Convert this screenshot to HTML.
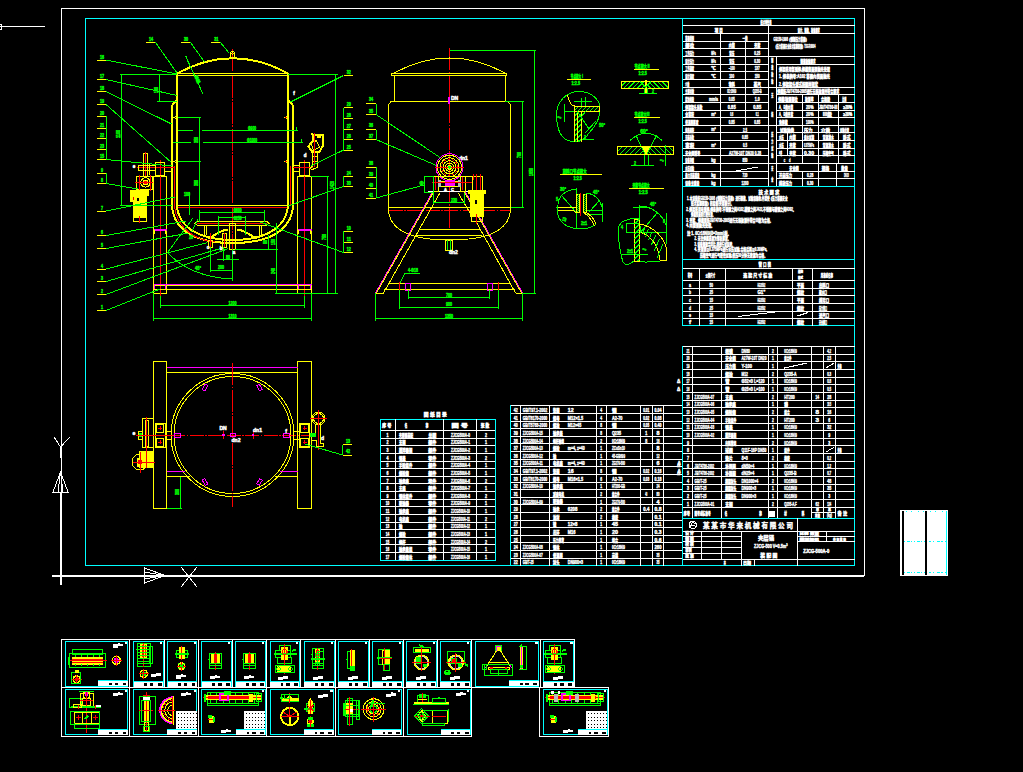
<!DOCTYPE html>
<html lang="zh"><head><meta charset="utf-8"><title>夹层锅 装配图</title>
<style>html,body{margin:0;padding:0;background:#000;overflow:hidden}
svg{display:block} text{font-family:"Liberation Sans","Noto Sans CJK SC",sans-serif}</style></head>
<body><svg width="<function W at 0x7fd735c7f2e0>" height="772" viewBox="0 0 <function W at 0x7fd735c7f2e0> 772" shape-rendering="crispEdges">
<rect x="0" y="0" width="<function W at 0x7fd735c7f2e0>" height="772" fill="#000"/>
<rect x="61.5" y="8.5" width="803" height="567" stroke="#ffffff" stroke-width="1" fill="none"/>
<rect x="85.5" y="18.5" width="769" height="547" stroke="#00ffff" stroke-width="1" fill="none"/>
<line x1="0" y1="26.5" x2="45" y2="26.5" stroke="#ffffff" stroke-width="1"/>
<rect x="-1.5" y="24.5" width="3" height="5" stroke="#ffffff" stroke-width="1" fill="none"/>
<line x1="60.5" y1="492" x2="60.5" y2="585" stroke="#ffffff" stroke-width="2"/>
<line x1="52" y1="575.5" x2="864" y2="575.5" stroke="#ffffff" stroke-width="2"/>
<polygon points="53,492 60.5,472 68,492" stroke="#ffffff" stroke-width="1" fill="none"/>
<line x1="60.5" y1="472" x2="58" y2="492" stroke="#ffffff" stroke-width="1"/>
<line x1="60.5" y1="472" x2="63" y2="492" stroke="#ffffff" stroke-width="1"/>
<polyline points="54,437 60.5,447 70,437" stroke="#ffffff" stroke-width="1" fill="none"/>
<line x1="60.5" y1="447" x2="60.5" y2="458" stroke="#ffffff" stroke-width="2"/>
<polygon points="144.5,568 165,575.5 144.5,583" stroke="#ffffff" stroke-width="1" fill="none"/>
<line x1="165" y1="575.5" x2="144.5" y2="572" stroke="#ffffff" stroke-width="1"/>
<line x1="165" y1="575.5" x2="144.5" y2="579" stroke="#ffffff" stroke-width="1"/>
<line x1="181" y1="567" x2="197" y2="587" stroke="#ffffff" stroke-width="1"/>
<line x1="197" y1="567" x2="181" y2="587" stroke="#ffffff" stroke-width="1"/>
<rect x="900" y="510" width="48" height="66" stroke="none" stroke-width="0" fill="#ffffff"/>
<line x1="902.5" y1="511" x2="902.5" y2="575" stroke="#000" stroke-width="2"/>
<line x1="926" y1="511" x2="926" y2="575" stroke="#000" stroke-width="2"/>
<line x1="904" y1="541.5" x2="925" y2="541.5" stroke="#00ffff" stroke-dasharray="1 2 3 1 1 2"/>
<line x1="929" y1="541.5" x2="947" y2="541.5" stroke="#00ffff" stroke-dasharray="2 2 1 3 3 1"/>
<line x1="904" y1="572.5" x2="925" y2="572.5" stroke="#00ffff" stroke-dasharray="1 2 3 1 1 2"/>
<line x1="929" y1="572.5" x2="947" y2="572.5" stroke="#00ffff" stroke-dasharray="2 2 1 3 3 1"/>
<line x1="906" y1="511.5" x2="946" y2="511.5" stroke="#00ffff" stroke-dasharray="1 4 1 6"/>
<line x1="946.5" y1="511" x2="946.5" y2="575" stroke="#00ffff" stroke-width="1"/>
<line x1="232.5" y1="49" x2="232.5" y2="263" stroke="#ff0000" stroke-width="1" stroke-dasharray="22 1.5 1.5 1.5"/>
<path d="M177,73.5 Q232.5,43 288,73.5" stroke="#ffff00" stroke-width="2" fill="none"/>
<line x1="176" y1="73" x2="289" y2="73" stroke="#ffff00" stroke-width="1"/>
<line x1="176" y1="75.5" x2="289" y2="75.5" stroke="#ffff00" stroke-width="1"/>
<path d="M230.5,58 V53.5 A2,2 0 0 1 234.5,53.5 V58" stroke="#ffff00" stroke-width="1" fill="none"/>
<circle cx="232.5" cy="53.5" r="0.8" stroke="#ffff00" stroke-width="1" fill="none"/>
<line x1="177" y1="73" x2="177" y2="206" stroke="#ffff00" stroke-width="2"/>
<line x1="288" y1="73" x2="288" y2="206" stroke="#ffff00" stroke-width="2"/>
<polyline points="177,100 172,105.5 172,206" stroke="#ffff00" stroke-width="2" fill="none"/>
<polyline points="288,100 293,105.5 293,206" stroke="#ffff00" stroke-width="2" fill="none"/>
<line x1="174.5" y1="166" x2="174.5" y2="206" stroke="#ff0000" stroke-width="1"/>
<line x1="290.5" y1="166" x2="290.5" y2="206" stroke="#ff0000" stroke-width="1"/>
<line x1="178" y1="205.5" x2="287" y2="205.5" stroke="#ffff00" stroke-width="1"/>
<line x1="178" y1="207.5" x2="287" y2="207.5" stroke="#ff0000" stroke-width="1"/>
<path d="M177,206 C179,228 200,240 232.5,240 C265,240 286,228 288,206" stroke="#ffff00" stroke-width="2" fill="none"/>
<path d="M172,206 C174,232 198,243 232.5,243 C267,243 291,232 293,206" stroke="#ffff00" stroke-width="2" fill="none"/>
<path d="M174.5,206 C176.5,230 199,241.5 215,241.5" stroke="#ff0000" stroke-width="1" fill="none"/>
<line x1="197" y1="221.5" x2="267" y2="221.5" stroke="#ffff00" stroke-width="1"/>
<line x1="197" y1="223.5" x2="267" y2="223.5" stroke="#ff0000" stroke-width="1"/>
<line x1="197" y1="225" x2="267" y2="225" stroke="#ffff00" stroke-width="1"/>
<polyline points="197,221.5 195,223.5 197,225" stroke="#ffff00" stroke-width="1" fill="none"/>
<polyline points="267,221.5 269,223.5 267,225" stroke="#ffff00" stroke-width="1" fill="none"/>
<line x1="204" y1="225" x2="204" y2="235" stroke="#ffff00" stroke-width="1"/>
<line x1="206.5" y1="225" x2="206.5" y2="235" stroke="#ffff00" stroke-width="1"/>
<line x1="259" y1="225" x2="259" y2="235" stroke="#ffff00" stroke-width="1"/>
<line x1="261.5" y1="225" x2="261.5" y2="235" stroke="#ffff00" stroke-width="1"/>
<path d="M208,238 C216,236 220,229 228,230 M237,230 C245,229 249,236 257,238" stroke="#ffff00" stroke-width="2" fill="none"/>
<rect x="208.5" y="240" width="3.5" height="7" stroke="#ffff00" stroke-width="1" fill="none"/>
<rect x="222.5" y="233" width="3.5" height="14" stroke="#ffff00" stroke-width="1" fill="none"/>
<rect x="229" y="223" width="6.5" height="26" stroke="#ffff00" stroke-width="1" fill="none"/>
<line x1="210.2" y1="233" x2="210.2" y2="247" stroke="#ff0000" stroke-width="1"/>
<line x1="224.2" y1="233" x2="224.2" y2="247" stroke="#ff0000" stroke-width="1"/>
<polyline points="177,115.5 174,117.5 177,119.5" stroke="#ffff00" stroke-width="1" fill="none"/>
<polyline points="288,115.5 285,117.5 288,119.5" stroke="#ffff00" stroke-width="1" fill="none"/>
<line x1="178" y1="117.5" x2="180" y2="117.5" stroke="#ff0000" stroke-width="1"/>
<line x1="285" y1="117.5" x2="287" y2="117.5" stroke="#ff0000" stroke-width="1"/>
<polyline points="177,159.5 174,161.5 177,163.5" stroke="#ffff00" stroke-width="1" fill="none"/>
<polyline points="288,159.5 285,161.5 288,163.5" stroke="#ffff00" stroke-width="1" fill="none"/>
<line x1="178" y1="161.5" x2="180" y2="161.5" stroke="#ff0000" stroke-width="1"/>
<line x1="285" y1="161.5" x2="287" y2="161.5" stroke="#ff0000" stroke-width="1"/>
<rect x="153.5" y="176.5" width="13" height="117" stroke="#ffff00" stroke-width="1" fill="none"/>
<rect x="297.5" y="176.5" width="14" height="117" stroke="#ffff00" stroke-width="1" fill="none"/>
<line x1="160.5" y1="160" x2="160.5" y2="296" stroke="#ff0000" stroke-width="1"/>
<line x1="304.5" y1="160" x2="304.5" y2="296" stroke="#ff0000" stroke-width="1"/>
<rect x="155.5" y="162.5" width="9" height="13" stroke="#ffff00" stroke-width="1" fill="none"/>
<rect x="299.5" y="162.5" width="10" height="13" stroke="#ffff00" stroke-width="1" fill="none"/>
<line x1="164.5" y1="165" x2="172" y2="165" stroke="#ffff00" stroke-width="1"/>
<line x1="164.5" y1="171" x2="172" y2="171" stroke="#ffff00" stroke-width="1"/>
<line x1="293" y1="165" x2="299.5" y2="165" stroke="#ffff00" stroke-width="1"/>
<line x1="293" y1="171" x2="299.5" y2="171" stroke="#ffff00" stroke-width="1"/>
<line x1="137" y1="167.5" x2="174" y2="167.5" stroke="#ff0000" stroke-width="1"/>
<line x1="293" y1="167.5" x2="312" y2="167.5" stroke="#ff0000" stroke-width="1"/>
<line x1="153.5" y1="229.5" x2="166.5" y2="229.5" stroke="#ff00ff" stroke-width="2"/>
<line x1="297.5" y1="229.5" x2="311.5" y2="229.5" stroke="#ff00ff" stroke-width="2"/>
<line x1="153.5" y1="284.5" x2="311.5" y2="284.5" stroke="#ff00ff" stroke-width="1"/>
<line x1="153.5" y1="285.5" x2="311.5" y2="285.5" stroke="#ffff00" stroke-width="1"/>
<line x1="153.5" y1="289.5" x2="311.5" y2="289.5" stroke="#ffff00" stroke-width="1"/>
<line x1="154.5" y1="230" x2="154.5" y2="234" stroke="#ffff00" stroke-width="1"/>
<line x1="154.5" y1="285" x2="154.5" y2="289" stroke="#ff00ff" stroke-width="1"/>
<line x1="165.5" y1="230" x2="165.5" y2="234" stroke="#ffff00" stroke-width="1"/>
<line x1="165.5" y1="285" x2="165.5" y2="289" stroke="#ff00ff" stroke-width="1"/>
<line x1="298.5" y1="230" x2="298.5" y2="234" stroke="#ffff00" stroke-width="1"/>
<line x1="298.5" y1="285" x2="298.5" y2="289" stroke="#ff00ff" stroke-width="1"/>
<line x1="310.5" y1="230" x2="310.5" y2="234" stroke="#ffff00" stroke-width="1"/>
<line x1="310.5" y1="285" x2="310.5" y2="289" stroke="#ff00ff" stroke-width="1"/>
<path d="M143.5,175.5 V155 A2,2 0 0 1 147.5,155 V175.5" stroke="#ffff00" stroke-width="1" fill="none"/>
<line x1="145.5" y1="152" x2="145.5" y2="176" stroke="#ff0000" stroke-width="1"/>
<rect x="138" y="165.5" width="17.5" height="5" stroke="#ffff00" stroke-width="1" fill="none"/>
<line x1="149" y1="162.5" x2="149" y2="175" stroke="#ffff00" stroke-width="1"/>
<rect x="136.5" y="176" width="15.5" height="13.5" stroke="#ffff00" stroke-width="1" fill="none"/>
<circle cx="145.5" cy="182.5" r="4.7" stroke="#ffff00" stroke-width="1" fill="none"/>
<circle cx="145.5" cy="182.5" r="2.5" stroke="#ffff00" stroke-width="1" fill="none"/>
<circle cx="145.5" cy="182.5" r="1" stroke="#ff0000" stroke-width="1" fill="none"/>
<line x1="135" y1="182.5" x2="153" y2="182.5" stroke="#ff0000" stroke-width="1"/>
<line x1="139" y1="175" x2="139" y2="191" stroke="#ff0000" stroke-width="1"/>
<line x1="150.5" y1="175" x2="150.5" y2="191" stroke="#ff0000" stroke-width="1"/>
<rect x="133.5" y="190" width="12.5" height="27" stroke="#ffff00" stroke-width="1" fill="#ffff00"/>
<rect x="130.5" y="190" width="17.5" height="5" stroke="#ffff00" stroke-width="1" fill="#ffff00"/>
<rect x="130.5" y="194" width="6" height="7" stroke="#ffff00" stroke-width="1" fill="#ffff00"/>
<rect x="133.5" y="216" width="12.5" height="5.5" stroke="#ffff00" stroke-width="1" fill="none"/>
<line x1="139.5" y1="216" x2="139.5" y2="223" stroke="#ff0000" stroke-width="1"/>
<rect x="137" y="198" width="2" height="3" stroke="none" stroke-width="0" fill="#000"/>
<line x1="133" y1="197" x2="133" y2="200" stroke="#ff0000" stroke-width="1"/>
<path d="M312.5,134.5 L322.5,135 L322.5,146.5 L319.5,151.5 L312,151.5 L308.5,146.5 L313,140.5 Z" stroke="#ffff00" stroke-width="2" fill="none"/>
<polygon points="311,143 316.5,140.5 319.5,147.5 313.5,150" stroke="#ffff00" stroke-width="1" fill="none"/>
<line x1="316.5" y1="137" x2="321" y2="137" stroke="#ffff00" stroke-width="2"/>
<rect x="312.5" y="151.5" width="4.5" height="10" stroke="#ffff00" stroke-width="1" fill="none"/>
<line x1="312.5" y1="156" x2="317" y2="156" stroke="#ffff00" stroke-width="1"/>
<polyline points="312.5,161.5 312.5,166 310,168.5" stroke="#ffff00" stroke-width="1" fill="none"/>
<polyline points="317,161.5 317,167.5 312.5,169.5 310,168.5" stroke="#ffff00" stroke-width="1" fill="none"/>
<line x1="314.5" y1="133" x2="314.5" y2="167" stroke="#ff0000" stroke-width="1"/>
<line x1="311.5" y1="167.5" x2="313" y2="167.5" stroke="#ff0000" stroke-width="1"/>
<line x1="97" y1="60.0" x2="106" y2="60.0" stroke="#ffff00" stroke-width="1"/>
<text x="102.0" y="58.5" fill="#00ff00" stroke="#00ff00" stroke-width="0.45" font-size="5.4" text-anchor="middle" font-weight="bold" textLength="4.1" lengthAdjust="spacingAndGlyphs">16</text>
<line x1="97" y1="79.5" x2="106" y2="79.5" stroke="#ffff00" stroke-width="1"/>
<text x="102.0" y="78.0" fill="#00ff00" stroke="#00ff00" stroke-width="0.45" font-size="5.4" text-anchor="middle" font-weight="bold" textLength="4.1" lengthAdjust="spacingAndGlyphs">17</text>
<line x1="97" y1="91.5" x2="106" y2="91.5" stroke="#ffff00" stroke-width="1"/>
<text x="102.0" y="90.0" fill="#00ff00" stroke="#00ff00" stroke-width="0.45" font-size="5.4" text-anchor="middle" font-weight="bold" textLength="4.1" lengthAdjust="spacingAndGlyphs">18</text>
<line x1="97" y1="104.5" x2="106" y2="104.5" stroke="#ffff00" stroke-width="1"/>
<text x="102.0" y="103.0" fill="#00ff00" stroke="#00ff00" stroke-width="0.45" font-size="5.4" text-anchor="middle" font-weight="bold" textLength="4.1" lengthAdjust="spacingAndGlyphs">19</text>
<line x1="97" y1="116.5" x2="106" y2="116.5" stroke="#ffff00" stroke-width="1"/>
<text x="102.0" y="115.0" fill="#00ff00" stroke="#00ff00" stroke-width="0.45" font-size="5.4" text-anchor="middle" font-weight="bold" textLength="4.1" lengthAdjust="spacingAndGlyphs">20</text>
<line x1="97" y1="128.0" x2="106" y2="128.0" stroke="#ffff00" stroke-width="1"/>
<text x="102.0" y="126.5" fill="#00ff00" stroke="#00ff00" stroke-width="0.45" font-size="5.4" text-anchor="middle" font-weight="bold" textLength="4.1" lengthAdjust="spacingAndGlyphs">21</text>
<line x1="97" y1="138.5" x2="106" y2="138.5" stroke="#ffff00" stroke-width="1"/>
<text x="102.0" y="137.0" fill="#00ff00" stroke="#00ff00" stroke-width="0.45" font-size="5.4" text-anchor="middle" font-weight="bold" textLength="4.1" lengthAdjust="spacingAndGlyphs">22</text>
<line x1="97" y1="149.5" x2="106" y2="149.5" stroke="#ffff00" stroke-width="1"/>
<text x="102.0" y="148.0" fill="#00ff00" stroke="#00ff00" stroke-width="0.45" font-size="5.4" text-anchor="middle" font-weight="bold" textLength="4.1" lengthAdjust="spacingAndGlyphs">23</text>
<line x1="97" y1="159.5" x2="106" y2="159.5" stroke="#ffff00" stroke-width="1"/>
<text x="102.0" y="158.0" fill="#00ff00" stroke="#00ff00" stroke-width="0.45" font-size="5.4" text-anchor="middle" font-weight="bold" textLength="4.1" lengthAdjust="spacingAndGlyphs">15</text>
<line x1="97" y1="173.0" x2="106" y2="173.0" stroke="#ffff00" stroke-width="1"/>
<text x="102.0" y="171.5" fill="#00ff00" stroke="#00ff00" stroke-width="0.45" font-size="5.4" text-anchor="middle" font-weight="bold" textLength="2.0" lengthAdjust="spacingAndGlyphs">9</text>
<line x1="97" y1="183.5" x2="106" y2="183.5" stroke="#ffff00" stroke-width="1"/>
<text x="102.0" y="182.0" fill="#00ff00" stroke="#00ff00" stroke-width="0.45" font-size="5.4" text-anchor="middle" font-weight="bold" textLength="2.0" lengthAdjust="spacingAndGlyphs">8</text>
<line x1="97" y1="211.0" x2="106" y2="211.0" stroke="#ffff00" stroke-width="1"/>
<text x="102.0" y="209.5" fill="#00ff00" stroke="#00ff00" stroke-width="0.45" font-size="5.4" text-anchor="middle" font-weight="bold" textLength="2.0" lengthAdjust="spacingAndGlyphs">7</text>
<line x1="97" y1="235.5" x2="106" y2="235.5" stroke="#ffff00" stroke-width="1"/>
<text x="102.0" y="234.0" fill="#00ff00" stroke="#00ff00" stroke-width="0.45" font-size="5.4" text-anchor="middle" font-weight="bold" textLength="2.0" lengthAdjust="spacingAndGlyphs">6</text>
<line x1="97" y1="248.5" x2="106" y2="248.5" stroke="#ffff00" stroke-width="1"/>
<text x="102.0" y="247.0" fill="#00ff00" stroke="#00ff00" stroke-width="0.45" font-size="5.4" text-anchor="middle" font-weight="bold" textLength="2.0" lengthAdjust="spacingAndGlyphs">5</text>
<line x1="97" y1="269.0" x2="106" y2="269.0" stroke="#ffff00" stroke-width="1"/>
<text x="102.0" y="267.5" fill="#00ff00" stroke="#00ff00" stroke-width="0.45" font-size="5.4" text-anchor="middle" font-weight="bold" textLength="2.0" lengthAdjust="spacingAndGlyphs">4</text>
<line x1="97" y1="281.5" x2="106" y2="281.5" stroke="#ffff00" stroke-width="1"/>
<text x="102.0" y="280.0" fill="#00ff00" stroke="#00ff00" stroke-width="0.45" font-size="5.4" text-anchor="middle" font-weight="bold" textLength="2.0" lengthAdjust="spacingAndGlyphs">3</text>
<line x1="97" y1="294.5" x2="106" y2="294.5" stroke="#ffff00" stroke-width="1"/>
<text x="102.0" y="293.0" fill="#00ff00" stroke="#00ff00" stroke-width="0.45" font-size="5.4" text-anchor="middle" font-weight="bold" textLength="2.0" lengthAdjust="spacingAndGlyphs">2</text>
<line x1="97" y1="310.5" x2="106" y2="310.5" stroke="#ffff00" stroke-width="1"/>
<text x="102.0" y="309.0" fill="#00ff00" stroke="#00ff00" stroke-width="0.45" font-size="5.4" text-anchor="middle" font-weight="bold" textLength="2.0" lengthAdjust="spacingAndGlyphs">1</text>
<line x1="106.5" y1="116" x2="106.5" y2="159.5" stroke="#00ff00" stroke-width="1"/>
<line x1="106.5" y1="172.5" x2="106.5" y2="183.5" stroke="#00ff00" stroke-width="1"/>
<line x1="106" y1="60.0" x2="177" y2="74" stroke="#00ff00" stroke-width="1"/>
<line x1="106" y1="79.5" x2="177" y2="95.5" stroke="#00ff00" stroke-width="1"/>
<line x1="106" y1="91.5" x2="171.5" y2="124" stroke="#00ff00" stroke-width="1"/>
<line x1="106" y1="104.5" x2="171.5" y2="162.5" stroke="#00ff00" stroke-width="1"/>
<line x1="106" y1="159.5" x2="172" y2="166" stroke="#00ff00" stroke-width="1"/>
<line x1="106" y1="183.5" x2="137.5" y2="189" stroke="#00ff00" stroke-width="1"/>
<line x1="106" y1="211.0" x2="175" y2="197" stroke="#00ff00" stroke-width="1"/>
<line x1="106" y1="235.5" x2="186" y2="221" stroke="#00ff00" stroke-width="1"/>
<line x1="106" y1="248.5" x2="188.5" y2="233" stroke="#00ff00" stroke-width="1"/>
<line x1="106" y1="269.0" x2="207.5" y2="242.5" stroke="#00ff00" stroke-width="1"/>
<line x1="106" y1="281.5" x2="222.5" y2="248" stroke="#00ff00" stroke-width="1"/>
<line x1="106" y1="294.5" x2="228.5" y2="248.5" stroke="#00ff00" stroke-width="1"/>
<line x1="106" y1="310.5" x2="160" y2="289" stroke="#00ff00" stroke-width="1"/>
<line x1="145.5" y1="42.5" x2="155.5" y2="42.5" stroke="#ffff00" stroke-width="1"/>
<text x="151.0" y="41.0" fill="#00ff00" stroke="#00ff00" stroke-width="0.45" font-size="5.4" text-anchor="middle" font-weight="bold" textLength="4.1" lengthAdjust="spacingAndGlyphs">14</text>
<line x1="155.5" y1="42.5" x2="177" y2="73" stroke="#00ff00" stroke-width="1"/>
<line x1="180.5" y1="42.5" x2="190.5" y2="42.5" stroke="#ffff00" stroke-width="1"/>
<text x="186.0" y="41.0" fill="#00ff00" stroke="#00ff00" stroke-width="0.45" font-size="5.4" text-anchor="middle" font-weight="bold" textLength="4.1" lengthAdjust="spacingAndGlyphs">30</text>
<line x1="190.5" y1="42.5" x2="204.5" y2="62" stroke="#00ff00" stroke-width="1"/>
<line x1="211" y1="42.5" x2="220.5" y2="42.5" stroke="#ffff00" stroke-width="1"/>
<text x="216.25" y="41.0" fill="#00ff00" stroke="#00ff00" stroke-width="0.45" font-size="5.4" text-anchor="middle" font-weight="bold" textLength="4.1" lengthAdjust="spacingAndGlyphs">31</text>
<line x1="220.5" y1="42.5" x2="229" y2="53" stroke="#00ff00" stroke-width="1"/>
<line x1="186" y1="57" x2="203" y2="94" stroke="#00ff00" stroke-width="1"/>
<text x="196" y="80" fill="#00ff00" stroke="#00ff00" stroke-width="0.45" font-size="4" text-anchor="middle" font-weight="bold" transform="rotate(65 196 80)">焊缝</text>
<line x1="185" y1="57" x2="187.5" y2="55.5" stroke="#00ff00" stroke-width="1"/>
<line x1="120" y1="74.5" x2="177" y2="74.5" stroke="#00ff00" stroke-width="1"/>
<line x1="121.5" y1="74.5" x2="121.5" y2="205" stroke="#00ff00" stroke-width="1"/>
<line x1="120" y1="205" x2="172" y2="205" stroke="#00ff00" stroke-width="1"/>
<text x="119.5" y="134" fill="#00ff00" stroke="#00ff00" stroke-width="0.45" font-size="5.4" text-anchor="middle" font-weight="bold" textLength="8.2" lengthAdjust="spacingAndGlyphs" transform="rotate(-90 119.5 134)">1100</text>
<line x1="159.5" y1="74.5" x2="159.5" y2="101.5" stroke="#00ff00" stroke-width="1"/>
<line x1="157" y1="101.5" x2="177" y2="101.5" stroke="#00ff00" stroke-width="1"/>
<text x="157.5" y="90" fill="#00ff00" stroke="#00ff00" stroke-width="0.45" font-size="5.4" text-anchor="middle" font-weight="bold" textLength="6.1" lengthAdjust="spacingAndGlyphs" transform="rotate(-90 157.5 90)">160</text>
<line x1="178" y1="117.5" x2="200.5" y2="117.5" stroke="#00ff00" stroke-width="1"/>
<line x1="199.5" y1="117.5" x2="199.5" y2="205" stroke="#00ff00" stroke-width="1"/>
<line x1="178" y1="161.5" x2="200.5" y2="161.5" stroke="#00ff00" stroke-width="1"/>
<text x="197.5" y="140" fill="#00ff00" stroke="#00ff00" stroke-width="0.45" font-size="5.4" text-anchor="middle" font-weight="bold" textLength="6.1" lengthAdjust="spacingAndGlyphs" transform="rotate(-90 197.5 140)">350</text>
<text x="197.5" y="183" fill="#00ff00" stroke="#00ff00" stroke-width="0.45" font-size="5.4" text-anchor="middle" font-weight="bold" textLength="6.1" lengthAdjust="spacingAndGlyphs" transform="rotate(-90 197.5 183)">360</text>
<line x1="177.5" y1="130.5" x2="192.5" y2="130.5" stroke="#00ff00" stroke-width="1"/>
<line x1="201.5" y1="130.5" x2="297.5" y2="130.5" stroke="#00ff00" stroke-width="1"/>
<text x="252" y="129.5" fill="#00ff00" stroke="#00ff00" stroke-width="0.45" font-size="5.4" text-anchor="middle" font-weight="bold" textLength="8.2" lengthAdjust="spacingAndGlyphs">Φ900</text>
<line x1="172.5" y1="142.5" x2="191" y2="142.5" stroke="#00ff00" stroke-width="1"/>
<line x1="203" y1="142.5" x2="302.5" y2="142.5" stroke="#00ff00" stroke-width="1"/>
<text x="252" y="141.5" fill="#00ff00" stroke="#00ff00" stroke-width="0.45" font-size="5.4" text-anchor="middle" font-weight="bold" textLength="10.2" lengthAdjust="spacingAndGlyphs">Φ1000</text>
<line x1="296.5" y1="127" x2="296.5" y2="131" stroke="#00ff00" stroke-width="1"/>
<line x1="301.5" y1="139" x2="301.5" y2="143" stroke="#00ff00" stroke-width="1"/>
<line x1="199.5" y1="212.5" x2="264.5" y2="212.5" stroke="#00ff00" stroke-width="1"/>
<line x1="199.5" y1="210" x2="199.5" y2="222" stroke="#00ff00" stroke-width="1"/>
<line x1="264.5" y1="210" x2="264.5" y2="222" stroke="#00ff00" stroke-width="1"/>
<text x="237.5" y="211.5" fill="#00ff00" stroke="#00ff00" stroke-width="0.45" font-size="5.4" text-anchor="middle" font-weight="bold" textLength="8.2" lengthAdjust="spacingAndGlyphs">Φ600</text>
<line x1="218" y1="217" x2="245.5" y2="217" stroke="#00ff00" stroke-width="1"/>
<line x1="218" y1="215.5" x2="218" y2="235" stroke="#00ff00" stroke-width="1"/>
<line x1="245.5" y1="215.5" x2="245.5" y2="235" stroke="#00ff00" stroke-width="1"/>
<text x="237.5" y="219.5" fill="#00ff00" stroke="#00ff00" stroke-width="0.45" font-size="5.4" text-anchor="middle" font-weight="bold" textLength="8.2" lengthAdjust="spacingAndGlyphs">Φ250</text>
<line x1="217" y1="259.5" x2="239" y2="259.5" stroke="#00ff00" stroke-width="1"/>
<line x1="210.5" y1="270" x2="232.5" y2="270" stroke="#00ff00" stroke-width="1"/>
<line x1="210.5" y1="246.5" x2="210.5" y2="272" stroke="#00ff00" stroke-width="1"/>
<line x1="223" y1="246.5" x2="223" y2="261" stroke="#00ff00" stroke-width="1"/>
<line x1="232.5" y1="249" x2="232.5" y2="281" stroke="#00ff00" stroke-width="1"/>
<text x="228" y="258.5" fill="#00ff00" stroke="#00ff00" stroke-width="0.45" font-size="5.4" text-anchor="middle" font-weight="bold" textLength="4.1" lengthAdjust="spacingAndGlyphs">80</text>
<text x="221" y="269" fill="#00ff00" stroke="#00ff00" stroke-width="0.45" font-size="5.4" text-anchor="middle" font-weight="bold" textLength="6.1" lengthAdjust="spacingAndGlyphs">200</text>
<line x1="235" y1="249" x2="278" y2="249" stroke="#00ff00" stroke-width="1"/>
<line x1="276.5" y1="222.5" x2="276.5" y2="293" stroke="#00ff00" stroke-width="1"/>
<line x1="268" y1="234.5" x2="268" y2="249" stroke="#00ff00" stroke-width="1"/>
<line x1="274.5" y1="293.5" x2="338" y2="293.5" stroke="#00ff00" stroke-width="1"/>
<text x="266.5" y="242" fill="#00ff00" stroke="#00ff00" stroke-width="0.45" font-size="5.4" text-anchor="middle" font-weight="bold" textLength="4.1" lengthAdjust="spacingAndGlyphs" transform="rotate(-90 266.5 242)">80</text>
<text x="274.5" y="242" fill="#00ff00" stroke="#00ff00" stroke-width="0.45" font-size="5.4" text-anchor="middle" font-weight="bold" textLength="6.1" lengthAdjust="spacingAndGlyphs" transform="rotate(-90 274.5 242)">150</text>
<text x="274.5" y="271" fill="#00ff00" stroke="#00ff00" stroke-width="0.45" font-size="5.4" text-anchor="middle" font-weight="bold" textLength="6.1" lengthAdjust="spacingAndGlyphs" transform="rotate(-90 274.5 271)">240</text>
<line x1="189.5" y1="192" x2="189.5" y2="215" stroke="#00ff00" stroke-width="1"/>
<text x="187" y="196" fill="#00ff00" stroke="#00ff00" stroke-width="0.45" font-size="5.4" text-anchor="middle" font-weight="bold" textLength="6.1" lengthAdjust="spacingAndGlyphs">100</text>
<line x1="167.5" y1="252.5" x2="193" y2="218" stroke="#00ff00" stroke-width="1"/>
<path d="M167.5,252.5 Q190,277 232.5,279" stroke="#00ff00" stroke-width="1" fill="none"/>
<text x="198" y="270" fill="#00ff00" stroke="#00ff00" stroke-width="0.45" font-size="5.4" text-anchor="middle" font-weight="bold" textLength="6.1" lengthAdjust="spacingAndGlyphs">45°</text>
<line x1="191.5" y1="232" x2="198" y2="219" stroke="#00ff00" stroke-width="1"/>
<text x="191" y="239" fill="#00ff00" stroke="#00ff00" stroke-width="0.45" font-size="5.4" text-anchor="middle" font-weight="bold" textLength="4.1" lengthAdjust="spacingAndGlyphs">20</text>
<line x1="288" y1="74.5" x2="338" y2="74.5" stroke="#00ff00" stroke-width="1"/>
<line x1="335.5" y1="74" x2="335.5" y2="293" stroke="#00ff00" stroke-width="1"/>
<line x1="327.5" y1="176.5" x2="327.5" y2="293" stroke="#00ff00" stroke-width="1"/>
<line x1="311" y1="176.5" x2="329" y2="176.5" stroke="#00ff00" stroke-width="1"/>
<text x="333.5" y="185" fill="#00ff00" stroke="#00ff00" stroke-width="0.45" font-size="5.4" text-anchor="middle" font-weight="bold" textLength="8.2" lengthAdjust="spacingAndGlyphs" transform="rotate(-90 333.5 185)">1420</text>
<text x="325.5" y="237" fill="#00ff00" stroke="#00ff00" stroke-width="0.45" font-size="5.4" text-anchor="middle" font-weight="bold" textLength="6.1" lengthAdjust="spacingAndGlyphs" transform="rotate(-90 325.5 237)">750</text>
<line x1="160.5" y1="296" x2="160.5" y2="307.5" stroke="#00ff00" stroke-width="1"/>
<line x1="304.5" y1="296" x2="304.5" y2="307.5" stroke="#00ff00" stroke-width="1"/>
<line x1="160.5" y1="305.5" x2="304.5" y2="305.5" stroke="#00ff00" stroke-width="1"/>
<text x="232.5" y="304.5" fill="#00ff00" stroke="#00ff00" stroke-width="0.45" font-size="5.4" text-anchor="middle" font-weight="bold" textLength="8.2" lengthAdjust="spacingAndGlyphs">1200</text>
<line x1="153.5" y1="293" x2="153.5" y2="320.5" stroke="#00ff00" stroke-width="1"/>
<line x1="311.5" y1="293" x2="311.5" y2="320.5" stroke="#00ff00" stroke-width="1"/>
<line x1="153.5" y1="318.5" x2="311.5" y2="318.5" stroke="#00ff00" stroke-width="1"/>
<text x="232.5" y="317.5" fill="#00ff00" stroke="#00ff00" stroke-width="0.45" font-size="5.4" text-anchor="middle" font-weight="bold" textLength="8.2" lengthAdjust="spacingAndGlyphs">1310</text>
<line x1="343.5" y1="75.5" x2="353" y2="75.5" stroke="#ffff00" stroke-width="1"/>
<text x="348.75" y="74.0" fill="#00ff00" stroke="#00ff00" stroke-width="0.45" font-size="5.4" text-anchor="middle" font-weight="bold" textLength="4.1" lengthAdjust="spacingAndGlyphs">32</text>
<line x1="343.5" y1="75.5" x2="290.5" y2="102" stroke="#00ff00" stroke-width="1"/>
<line x1="343.5" y1="107.5" x2="353" y2="107.5" stroke="#ffff00" stroke-width="1"/>
<text x="348.75" y="106.0" fill="#00ff00" stroke="#00ff00" stroke-width="0.45" font-size="5.4" text-anchor="middle" font-weight="bold" textLength="4.1" lengthAdjust="spacingAndGlyphs">29</text>
<line x1="343.5" y1="118.5" x2="353" y2="118.5" stroke="#ffff00" stroke-width="1"/>
<text x="348.75" y="117.0" fill="#00ff00" stroke="#00ff00" stroke-width="0.45" font-size="5.4" text-anchor="middle" font-weight="bold" textLength="4.1" lengthAdjust="spacingAndGlyphs">28</text>
<line x1="343.5" y1="129.5" x2="353" y2="129.5" stroke="#ffff00" stroke-width="1"/>
<text x="348.75" y="128.0" fill="#00ff00" stroke="#00ff00" stroke-width="0.45" font-size="5.4" text-anchor="middle" font-weight="bold" textLength="4.1" lengthAdjust="spacingAndGlyphs">27</text>
<line x1="343.5" y1="139.5" x2="353" y2="139.5" stroke="#ffff00" stroke-width="1"/>
<text x="348.75" y="138.0" fill="#00ff00" stroke="#00ff00" stroke-width="0.45" font-size="5.4" text-anchor="middle" font-weight="bold" textLength="4.1" lengthAdjust="spacingAndGlyphs">26</text>
<line x1="343.5" y1="150" x2="353" y2="150" stroke="#ffff00" stroke-width="1"/>
<text x="348.75" y="148.5" fill="#00ff00" stroke="#00ff00" stroke-width="0.45" font-size="5.4" text-anchor="middle" font-weight="bold" textLength="4.1" lengthAdjust="spacingAndGlyphs">25</text>
<line x1="343.5" y1="107.5" x2="343.5" y2="150" stroke="#00ff00" stroke-width="1"/>
<line x1="343.5" y1="150" x2="311" y2="166" stroke="#00ff00" stroke-width="1"/>
<line x1="343.5" y1="176" x2="353" y2="176" stroke="#ffff00" stroke-width="1"/>
<text x="348.75" y="174.5" fill="#00ff00" stroke="#00ff00" stroke-width="0.45" font-size="5.4" text-anchor="middle" font-weight="bold" textLength="4.1" lengthAdjust="spacingAndGlyphs">24</text>
<line x1="343.5" y1="186.5" x2="353" y2="186.5" stroke="#ffff00" stroke-width="1"/>
<text x="348.75" y="185.0" fill="#00ff00" stroke="#00ff00" stroke-width="0.45" font-size="5.4" text-anchor="middle" font-weight="bold" textLength="4.1" lengthAdjust="spacingAndGlyphs">33</text>
<line x1="343.5" y1="176" x2="343.5" y2="186.5" stroke="#00ff00" stroke-width="1"/>
<line x1="343.5" y1="186.5" x2="288" y2="206" stroke="#00ff00" stroke-width="1"/>
<line x1="343.5" y1="231" x2="353" y2="231" stroke="#ffff00" stroke-width="1"/>
<text x="348.75" y="229.5" fill="#00ff00" stroke="#00ff00" stroke-width="0.45" font-size="5.4" text-anchor="middle" font-weight="bold" textLength="4.1" lengthAdjust="spacingAndGlyphs">10</text>
<line x1="343.5" y1="242.5" x2="353" y2="242.5" stroke="#ffff00" stroke-width="1"/>
<text x="348.75" y="241.0" fill="#00ff00" stroke="#00ff00" stroke-width="0.45" font-size="5.4" text-anchor="middle" font-weight="bold" textLength="4.1" lengthAdjust="spacingAndGlyphs">11</text>
<line x1="343.5" y1="252.5" x2="353" y2="252.5" stroke="#ffff00" stroke-width="1"/>
<text x="348.75" y="251.0" fill="#00ff00" stroke="#00ff00" stroke-width="0.45" font-size="5.4" text-anchor="middle" font-weight="bold" textLength="4.1" lengthAdjust="spacingAndGlyphs">12</text>
<line x1="343.5" y1="231" x2="343.5" y2="252.5" stroke="#00ff00" stroke-width="1"/>
<line x1="343.5" y1="252.5" x2="260" y2="222" stroke="#00ff00" stroke-width="1"/>
<text x="294" y="95" fill="#ffffff" stroke="#ffffff" stroke-width="0.45" font-size="4.5" text-anchor="middle" font-weight="bold">f</text>
<text x="134" y="168" fill="#ffffff" stroke="#ffffff" stroke-width="0.45" font-size="4.5" text-anchor="middle" font-weight="bold">e</text>
<text x="305" y="157" fill="#ffffff" stroke="#ffffff" stroke-width="0.45" font-size="4.5" text-anchor="middle" font-weight="bold">d</text>
<text x="208" y="249" fill="#ffffff" stroke="#ffffff" stroke-width="0.45" font-size="4.5" text-anchor="middle" font-weight="bold">c</text>
<text x="221" y="250" fill="#ffffff" stroke="#ffffff" stroke-width="0.45" font-size="4.5" text-anchor="middle" font-weight="bold">b</text>
<text x="234" y="254" fill="#ffffff" stroke="#ffffff" stroke-width="0.45" font-size="4.5" text-anchor="middle" font-weight="bold">a</text>
<line x1="449.5" y1="48" x2="449.5" y2="228" stroke="#ff0000" stroke-width="1" stroke-dasharray="22 1.5 1.5 1.5"/>
<path d="M394,73 Q449.5,43 505,73" stroke="#ffff00" stroke-width="1" fill="none"/>
<rect x="391.5" y="73" width="115" height="2.5" stroke="#ffff00" stroke-width="1" fill="none"/>
<line x1="394" y1="75.5" x2="394" y2="101.5" stroke="#ffff00" stroke-width="1"/>
<line x1="505" y1="75.5" x2="505" y2="101.5" stroke="#ffff00" stroke-width="1"/>
<line x1="389.5" y1="101.5" x2="509.5" y2="101.5" stroke="#ffff00" stroke-width="1"/>
<polyline points="391,101.5 388.5,105 388.5,210" stroke="#ffff00" stroke-width="1" fill="none"/>
<polyline points="508,101.5 510.5,105 510.5,210" stroke="#ffff00" stroke-width="1" fill="none"/>
<line x1="388.5" y1="207.5" x2="510.5" y2="207.5" stroke="#ffff00" stroke-width="1"/>
<line x1="388.5" y1="210" x2="510.5" y2="210" stroke="#ff0000" stroke-width="1" stroke-dasharray="14 1.5 1.5 1.5"/>
<path d="M388.5,210 C390,232 415,240 449.5,240 C484,240 509,232 510.5,210" stroke="#ffff00" stroke-width="1" fill="none"/>
<line x1="418.5" y1="229.5" x2="479.5" y2="229.5" stroke="#ffff00" stroke-width="1"/>
<line x1="416" y1="235.5" x2="482" y2="235.5" stroke="#ffff00" stroke-width="1"/>
<rect x="445.5" y="240" width="7" height="10" stroke="#ffff00" stroke-width="1" fill="none"/>
<line x1="447.5" y1="240" x2="447.5" y2="250" stroke="#00ff00" stroke-width="1"/>
<line x1="450.5" y1="240" x2="450.5" y2="250" stroke="#00ff00" stroke-width="1"/>
<line x1="449.0" y1="97" x2="449.0" y2="104" stroke="#ff00ff" stroke-width="2"/>
<text x="451" y="100" fill="#ffffff" stroke="#ffffff" stroke-width="0.45" font-size="5" text-anchor="start" font-weight="bold">DN</text>
<text x="459" y="160" fill="#ffffff" stroke="#ffffff" stroke-width="0.45" font-size="5" text-anchor="start" font-weight="bold">dn1</text>
<text x="449" y="254" fill="#ffffff" stroke="#ffffff" stroke-width="0.45" font-size="5" text-anchor="start" font-weight="bold">dn2</text>
<line x1="432.5" y1="192" x2="375.5" y2="293" stroke="#ff00ff" stroke-width="1"/>
<line x1="433.5" y1="192" x2="376.5" y2="293" stroke="#ffff00" stroke-width="1"/>
<line x1="439.5" y1="193.5" x2="383.5" y2="293" stroke="#ffff00" stroke-width="1"/>
<line x1="435" y1="202" x2="439.5" y2="193.5" stroke="#ffff00" stroke-width="1"/>
<line x1="465.5" y1="192" x2="522.5" y2="293" stroke="#ff00ff" stroke-width="1"/>
<line x1="464.5" y1="192" x2="521.5" y2="293" stroke="#ffff00" stroke-width="1"/>
<line x1="476.5" y1="222.5" x2="515.5" y2="293" stroke="#ffff00" stroke-width="1"/>
<line x1="458.5" y1="193.5" x2="470" y2="213" stroke="#ffff00" stroke-width="1"/>
<line x1="375.5" y1="293" x2="383.5" y2="293" stroke="#ffff00" stroke-width="1"/>
<line x1="515.5" y1="293" x2="522.5" y2="293" stroke="#ffff00" stroke-width="1"/>
<line x1="387.5" y1="283" x2="511" y2="283" stroke="#ffff00" stroke-width="1"/>
<line x1="384" y1="289.5" x2="515" y2="289.5" stroke="#ffff00" stroke-width="1"/>
<rect x="405.5" y="283" width="5" height="7" stroke="#ff00ff" stroke-width="1" fill="none"/>
<rect x="487.5" y="283" width="5" height="7" stroke="#ff00ff" stroke-width="1" fill="none"/>
<line x1="399.5" y1="282" x2="399.5" y2="290" stroke="#ff0000" stroke-width="1"/>
<line x1="498.5" y1="282" x2="498.5" y2="290" stroke="#ff0000" stroke-width="1"/>
<circle cx="449.5" cy="167.3" r="13.5" stroke="#ff00ff" stroke-width="1" fill="none"/>
<circle cx="449.5" cy="167.3" r="12" stroke="#ffff00" stroke-width="1" fill="none"/>
<circle cx="449.5" cy="167.3" r="9.5" stroke="#ffff00" stroke-width="1" fill="none"/>
<circle cx="449.5" cy="167.3" r="6.5" stroke="#ffff00" stroke-width="1" fill="none"/>
<circle cx="449.5" cy="167.3" r="4" stroke="#ffff00" stroke-width="1" fill="none"/>
<circle cx="449.5" cy="167.3" r="2" stroke="#ffff00" stroke-width="1" fill="#ffff00"/>
<circle cx="449.5" cy="167.3" r="8" stroke="#ff0000" stroke-width="1" fill="none" stroke-dasharray="2 2"/>
<line x1="435" y1="167.3" x2="464" y2="167.3" stroke="#ff0000" stroke-width="1"/>
<circle cx="449.5" cy="167.3" r="0.8" stroke="#00ff00" stroke-width="1" fill="#00ff00"/>
<rect x="433" y="176" width="39.5" height="15.5" stroke="#ffff00" stroke-width="1" fill="none"/>
<line x1="428" y1="191" x2="470" y2="191" stroke="#ffffff" stroke-width="1"/>
<rect x="433" y="176" width="5" height="15.5" stroke="#ffff00" stroke-width="1" fill="none"/>
<rect x="460" y="176" width="5" height="15.5" stroke="#ffff00" stroke-width="1" fill="none"/>
<line x1="440" y1="181" x2="459" y2="181" stroke="#ffff00" stroke-width="1"/>
<line x1="440" y1="186" x2="459" y2="186" stroke="#ffff00" stroke-width="1"/>
<rect x="445" y="180.5" width="9" height="5" stroke="#ff00ff" stroke-width="1" fill="#ff00ff"/>
<rect x="438.5" y="180" width="2" height="6" stroke="#bbb" stroke-width="1" fill="#bbb"/>
<rect x="458" y="180" width="2" height="6" stroke="#bbb" stroke-width="1" fill="#bbb"/>
<line x1="432" y1="182" x2="472" y2="182" stroke="#ff0000" stroke-width="1"/>
<line x1="435.5" y1="177" x2="435.5" y2="190" stroke="#ff0000" stroke-width="1"/>
<line x1="462.5" y1="177" x2="462.5" y2="190" stroke="#ff0000" stroke-width="1"/>
<text x="444" y="191" fill="#ffffff" stroke="#ffffff" stroke-width="0.45" font-size="4" text-anchor="start" font-weight="bold">A</text>
<text x="451" y="191" fill="#ffffff" stroke="#ffffff" stroke-width="0.45" font-size="4" text-anchor="start" font-weight="bold">C</text>
<rect x="424" y="176" width="9" height="16" stroke="#00ff00" stroke-width="1" fill="none"/>
<text x="421.5" y="185" fill="#00ff00" stroke="#00ff00" stroke-width="0.45" font-size="5" text-anchor="middle" font-weight="bold">Φ</text>
<line x1="433.5" y1="193" x2="433.5" y2="204" stroke="#00ff00" stroke-width="1"/>
<line x1="464.5" y1="193" x2="464.5" y2="204" stroke="#00ff00" stroke-width="1"/>
<line x1="433.5" y1="202.5" x2="464.5" y2="202.5" stroke="#00ff00" stroke-width="1"/>
<text x="454" y="201.5" fill="#00ff00" stroke="#00ff00" stroke-width="0.45" font-size="5.4" text-anchor="middle" font-weight="bold" textLength="6.1" lengthAdjust="spacingAndGlyphs">230</text>
<rect x="472.5" y="176" width="10" height="14" stroke="#ffff00" stroke-width="1" fill="none"/>
<line x1="476.5" y1="174" x2="476.5" y2="192" stroke="#ff0000" stroke-width="1"/>
<line x1="480.5" y1="174" x2="480.5" y2="192" stroke="#ff0000" stroke-width="1"/>
<line x1="473" y1="174" x2="473" y2="180" stroke="#ff0000" stroke-width="1"/>
<rect x="468.5" y="190" width="16.5" height="3" stroke="#ffff00" stroke-width="1" fill="#ffff00"/>
<rect x="470.5" y="190" width="12.5" height="26" stroke="#ffff00" stroke-width="1" fill="#ffff00"/>
<rect x="471.5" y="216" width="10.5" height="5.5" stroke="#ffff00" stroke-width="1" fill="none"/>
<rect x="474.5" y="200" width="2" height="4" stroke="none" stroke-width="0" fill="#000"/>
<line x1="476.5" y1="214" x2="476.5" y2="224" stroke="#ff0000" stroke-width="1"/>
<line x1="449.5" y1="50" x2="536" y2="50" stroke="#00ff00" stroke-width="1"/>
<line x1="534.5" y1="50" x2="534.5" y2="293" stroke="#00ff00" stroke-width="1"/>
<line x1="523" y1="293" x2="536" y2="293" stroke="#00ff00" stroke-width="1"/>
<text x="532.5" y="172" fill="#00ff00" stroke="#00ff00" stroke-width="0.45" font-size="5.4" text-anchor="middle" font-weight="bold" textLength="8.2" lengthAdjust="spacingAndGlyphs" transform="rotate(-90 532.5 172)">1650</text>
<line x1="505" y1="101.5" x2="524" y2="101.5" stroke="#00ff00" stroke-width="1"/>
<line x1="522.5" y1="101.5" x2="522.5" y2="207.5" stroke="#00ff00" stroke-width="1"/>
<line x1="510.5" y1="207.5" x2="524" y2="207.5" stroke="#00ff00" stroke-width="1"/>
<text x="520.5" y="155" fill="#00ff00" stroke="#00ff00" stroke-width="0.45" font-size="5.4" text-anchor="middle" font-weight="bold" textLength="6.1" lengthAdjust="spacingAndGlyphs" transform="rotate(-90 520.5 155)">700</text>
<line x1="408.5" y1="290" x2="408.5" y2="299" stroke="#00ff00" stroke-width="1"/>
<line x1="489.5" y1="290" x2="489.5" y2="299" stroke="#00ff00" stroke-width="1"/>
<line x1="408.5" y1="297.5" x2="489.5" y2="297.5" stroke="#00ff00" stroke-width="1"/>
<text x="449" y="296.5" fill="#00ff00" stroke="#00ff00" stroke-width="0.45" font-size="5.4" text-anchor="middle" font-weight="bold" textLength="6.1" lengthAdjust="spacingAndGlyphs">700</text>
<line x1="399.5" y1="290" x2="399.5" y2="309" stroke="#00ff00" stroke-width="1"/>
<line x1="498.5" y1="290" x2="498.5" y2="309" stroke="#00ff00" stroke-width="1"/>
<line x1="399.5" y1="307" x2="498.5" y2="307" stroke="#00ff00" stroke-width="1"/>
<text x="449" y="306" fill="#00ff00" stroke="#00ff00" stroke-width="0.45" font-size="5.4" text-anchor="middle" font-weight="bold" textLength="6.1" lengthAdjust="spacingAndGlyphs">900</text>
<line x1="375.5" y1="293" x2="375.5" y2="320.5" stroke="#00ff00" stroke-width="1"/>
<line x1="522.5" y1="293" x2="522.5" y2="320.5" stroke="#00ff00" stroke-width="1"/>
<line x1="375.5" y1="318.5" x2="522.5" y2="318.5" stroke="#00ff00" stroke-width="1"/>
<text x="449" y="317.5" fill="#00ff00" stroke="#00ff00" stroke-width="0.45" font-size="5.4" text-anchor="middle" font-weight="bold" textLength="8.2" lengthAdjust="spacingAndGlyphs">1350</text>
<line x1="405" y1="273.5" x2="420" y2="273.5" stroke="#00ff00" stroke-width="1"/>
<line x1="405" y1="273.5" x2="400" y2="283" stroke="#00ff00" stroke-width="1"/>
<text x="413" y="272" fill="#00ff00" stroke="#00ff00" stroke-width="0.45" font-size="5.4" text-anchor="middle" font-weight="bold" textLength="10.2" lengthAdjust="spacingAndGlyphs">4-Φ18</text>
<text x="371" y="101" fill="#00ff00" stroke="#00ff00" stroke-width="0.45" font-size="5.4" text-anchor="middle" font-weight="bold" textLength="4.1" lengthAdjust="spacingAndGlyphs">34</text>
<line x1="366" y1="103.5" x2="376" y2="103.5" stroke="#ffff00" stroke-width="1"/>
<text x="371" y="102.0" fill="#00ff00" stroke="#00ff00" stroke-width="0.45" font-size="4" text-anchor="middle" font-weight="bold"></text>
<line x1="366" y1="114.5" x2="376" y2="114.5" stroke="#ffff00" stroke-width="1"/>
<text x="371" y="113.0" fill="#00ff00" stroke="#00ff00" stroke-width="0.45" font-size="5.4" text-anchor="middle" font-weight="bold" textLength="4.1" lengthAdjust="spacingAndGlyphs">35</text>
<line x1="376" y1="103.5" x2="376" y2="114.5" stroke="#00ff00" stroke-width="1"/>
<line x1="376" y1="114.5" x2="440" y2="157.5" stroke="#00ff00" stroke-width="1"/>
<text x="371" y="127" fill="#00ff00" stroke="#00ff00" stroke-width="0.45" font-size="5.4" text-anchor="middle" font-weight="bold" textLength="4.1" lengthAdjust="spacingAndGlyphs">36</text>
<line x1="366" y1="129.5" x2="376" y2="129.5" stroke="#ffff00" stroke-width="1"/>
<text x="371" y="128.0" fill="#00ff00" stroke="#00ff00" stroke-width="0.45" font-size="4" text-anchor="middle" font-weight="bold"></text>
<line x1="366" y1="139.5" x2="376" y2="139.5" stroke="#ffff00" stroke-width="1"/>
<text x="371" y="138.0" fill="#00ff00" stroke="#00ff00" stroke-width="0.45" font-size="5.4" text-anchor="middle" font-weight="bold" textLength="4.1" lengthAdjust="spacingAndGlyphs">37</text>
<line x1="376" y1="129.5" x2="376" y2="139.5" stroke="#00ff00" stroke-width="1"/>
<line x1="376" y1="139.5" x2="436.5" y2="165.5" stroke="#00ff00" stroke-width="1"/>
<text x="371" y="164.5" fill="#00ff00" stroke="#00ff00" stroke-width="0.45" font-size="5.4" text-anchor="middle" font-weight="bold" textLength="4.1" lengthAdjust="spacingAndGlyphs">38</text>
<line x1="366" y1="167" x2="376" y2="167" stroke="#ffff00" stroke-width="1"/>
<text x="371" y="165.5" fill="#00ff00" stroke="#00ff00" stroke-width="0.45" font-size="4" text-anchor="middle" font-weight="bold"></text>
<line x1="366" y1="177.5" x2="376" y2="177.5" stroke="#ffff00" stroke-width="1"/>
<text x="371" y="176.0" fill="#00ff00" stroke="#00ff00" stroke-width="0.45" font-size="5.4" text-anchor="middle" font-weight="bold" textLength="4.1" lengthAdjust="spacingAndGlyphs">39</text>
<line x1="366" y1="188" x2="376" y2="188" stroke="#ffff00" stroke-width="1"/>
<text x="371" y="186.5" fill="#00ff00" stroke="#00ff00" stroke-width="0.45" font-size="5.4" text-anchor="middle" font-weight="bold" textLength="4.1" lengthAdjust="spacingAndGlyphs">40</text>
<line x1="366" y1="198" x2="376" y2="198" stroke="#ffff00" stroke-width="1"/>
<text x="371" y="196.5" fill="#00ff00" stroke="#00ff00" stroke-width="0.45" font-size="5.4" text-anchor="middle" font-weight="bold" textLength="4.1" lengthAdjust="spacingAndGlyphs">41</text>
<line x1="376" y1="167" x2="376" y2="198" stroke="#00ff00" stroke-width="1"/>
<line x1="376" y1="198" x2="424" y2="185" stroke="#00ff00" stroke-width="1"/>
<text x="570.8" y="78.3" fill="#00ff00" stroke="#00ff00" stroke-width="0.45" font-size="4.6" text-anchor="start" font-weight="bold" textLength="13" lengthAdjust="spacingAndGlyphs">节点放大Ⅰ</text>
<line x1="567" y1="79.5" x2="591" y2="79.5" stroke="#ffff00" stroke-width="1"/>
<text x="571.5" y="84.7" fill="#00ff00" stroke="#00ff00" stroke-width="0.45" font-size="4.6" text-anchor="start" font-weight="bold" textLength="8.5" lengthAdjust="spacingAndGlyphs">1:2.5</text>
<path d="M578,91.5 C590,91 598,98 600,106 C601,118 596,126 589,133 C585,140 578,142.5 570,141 C560,139 557,128 556.5,116 C556,102 566,92 578,91.5 Z" stroke="#00ff00" stroke-width="1" fill="none"/>
<line x1="574.5" y1="106.5" x2="574.5" y2="106.5" stroke="#00ff00" stroke-width="1"/>
<line x1="574.5" y1="110.5" x2="578.5" y2="106.5" stroke="#00ff00" stroke-width="1"/>
<line x1="578.0" y1="111.0" x2="582.5" y2="106.5" stroke="#00ff00" stroke-width="1"/>
<line x1="582.0" y1="111.0" x2="586.5" y2="106.5" stroke="#00ff00" stroke-width="1"/>
<line x1="586.0" y1="111.0" x2="590.5" y2="106.5" stroke="#00ff00" stroke-width="1"/>
<line x1="590.0" y1="111.0" x2="594.5" y2="106.5" stroke="#00ff00" stroke-width="1"/>
<line x1="594.0" y1="111.0" x2="598.5" y2="106.5" stroke="#00ff00" stroke-width="1"/>
<line x1="598.0" y1="111.0" x2="599.5" y2="109.5" stroke="#00ff00" stroke-width="1"/>
<line x1="574.5" y1="111.0" x2="574.5" y2="111" stroke="#00ff00" stroke-width="1"/>
<line x1="574.5" y1="116.0" x2="579.5" y2="111" stroke="#00ff00" stroke-width="1"/>
<line x1="574.5" y1="121.0" x2="581.5" y2="114.0" stroke="#00ff00" stroke-width="1"/>
<line x1="574.5" y1="126.0" x2="581.5" y2="119.0" stroke="#00ff00" stroke-width="1"/>
<line x1="574.5" y1="131.0" x2="581.5" y2="124.0" stroke="#00ff00" stroke-width="1"/>
<line x1="574.5" y1="136.0" x2="581.5" y2="129.0" stroke="#00ff00" stroke-width="1"/>
<line x1="574.5" y1="141.0" x2="581.5" y2="134.0" stroke="#00ff00" stroke-width="1"/>
<line x1="578.5" y1="142" x2="581.5" y2="139.0" stroke="#00ff00" stroke-width="1"/>
<rect x="574.5" y="106.5" width="25" height="4.5" stroke="#ffff00" stroke-width="1" fill="none"/>
<line x1="574.5" y1="106.5" x2="574.5" y2="142" stroke="#ffff00" stroke-width="1"/>
<line x1="581.5" y1="111" x2="581.5" y2="142" stroke="#ffff00" stroke-width="1"/>
<line x1="577" y1="111" x2="577" y2="142" stroke="#ffff00" stroke-width="1"/>
<path d="M567.5,95.5 C569,102 571,105.5 574.5,106" stroke="#ffff00" stroke-width="1" fill="none"/>
<polyline points="577,111 581,117 586,111" stroke="#00ff00" stroke-width="1" fill="none"/>
<line x1="581" y1="117" x2="589" y2="129" stroke="#00ff00" stroke-width="1"/>
<line x1="596" y1="121" x2="585" y2="133" stroke="#00ff00" stroke-width="1"/>
<line x1="574" y1="101.5" x2="592" y2="101.5" stroke="#00ff00" stroke-width="1"/>
<line x1="581.5" y1="98" x2="581.5" y2="106" stroke="#00ff00" stroke-width="1"/>
<line x1="585" y1="97" x2="585" y2="106" stroke="#00ff00" stroke-width="1"/>
<line x1="564" y1="111" x2="574" y2="111" stroke="#00ff00" stroke-width="1"/>
<line x1="564" y1="104" x2="564" y2="122" stroke="#00ff00" stroke-width="1"/>
<line x1="583" y1="139.5" x2="594" y2="139.5" stroke="#00ff00" stroke-width="1"/>
<text x="602" y="127" fill="#00ff00" stroke="#00ff00" stroke-width="0.45" font-size="5.4" text-anchor="middle" font-weight="bold" textLength="6.1" lengthAdjust="spacingAndGlyphs">50°</text>
<text x="585" y="138.5" fill="#00ff00" stroke="#00ff00" stroke-width="0.45" font-size="5.4" text-anchor="middle" font-weight="bold" textLength="2.0" lengthAdjust="spacingAndGlyphs">2</text>
<text x="561" y="118" fill="#00ff00" stroke="#00ff00" stroke-width="0.45" font-size="5.4" text-anchor="middle" font-weight="bold" textLength="2.0" lengthAdjust="spacingAndGlyphs" transform="rotate(-70 561 118)">3</text>
<text x="634.4" y="68.3" fill="#00ff00" stroke="#00ff00" stroke-width="0.45" font-size="4.6" text-anchor="start" font-weight="bold" textLength="15.8" lengthAdjust="spacingAndGlyphs">节点放大Ⅱ</text>
<line x1="634" y1="69.5" x2="659" y2="69.5" stroke="#ffff00" stroke-width="1"/>
<text x="638.5" y="74.7" fill="#00ff00" stroke="#00ff00" stroke-width="0.45" font-size="4.6" text-anchor="start" font-weight="bold" textLength="8.2" lengthAdjust="spacingAndGlyphs">1:2.5</text>
<line x1="621.5" y1="81.5" x2="621.5" y2="81.5" stroke="#00ff00" stroke-width="1"/>
<line x1="621.5" y1="86.0" x2="626.0" y2="81.5" stroke="#00ff00" stroke-width="1"/>
<line x1="624.0" y1="88.0" x2="630.5" y2="81.5" stroke="#00ff00" stroke-width="1"/>
<line x1="628.5" y1="88.0" x2="635.0" y2="81.5" stroke="#00ff00" stroke-width="1"/>
<line x1="633.0" y1="88.0" x2="639.5" y2="81.5" stroke="#00ff00" stroke-width="1"/>
<line x1="637.5" y1="88.0" x2="644.0" y2="81.5" stroke="#00ff00" stroke-width="1"/>
<line x1="642.0" y1="88.0" x2="645.5" y2="84.5" stroke="#00ff00" stroke-width="1"/>
<line x1="646" y1="88.0" x2="646" y2="88.0" stroke="#00ff00" stroke-width="1"/>
<line x1="650.5" y1="88.0" x2="646" y2="83.5" stroke="#00ff00" stroke-width="1"/>
<line x1="655.0" y1="88.0" x2="648.5" y2="81.5" stroke="#00ff00" stroke-width="1"/>
<line x1="659.5" y1="88.0" x2="653.0" y2="81.5" stroke="#00ff00" stroke-width="1"/>
<line x1="664.0" y1="88.0" x2="657.5" y2="81.5" stroke="#00ff00" stroke-width="1"/>
<line x1="668" y1="87.5" x2="662.0" y2="81.5" stroke="#00ff00" stroke-width="1"/>
<line x1="668" y1="83.0" x2="666.5" y2="81.5" stroke="#00ff00" stroke-width="1"/>
<rect x="621.5" y="81.5" width="46.5" height="6.5" stroke="#ffff00" stroke-width="1" fill="none"/>
<line x1="645.5" y1="80" x2="645.5" y2="94" stroke="#ffff00" stroke-width="2"/>
<polyline points="640,81.5 645.5,87 651,81.5" stroke="#00ff00" stroke-width="1" fill="none"/>
<line x1="639" y1="93.5" x2="657" y2="93.5" stroke="#00ff00" stroke-width="1"/>
<line x1="644" y1="88" x2="644" y2="94" stroke="#00ff00" stroke-width="1"/>
<line x1="647.5" y1="88" x2="647.5" y2="94" stroke="#00ff00" stroke-width="1"/>
<text x="653" y="92.5" fill="#00ff00" stroke="#00ff00" stroke-width="0.45" font-size="5.4" text-anchor="middle" font-weight="bold" textLength="2.0" lengthAdjust="spacingAndGlyphs">2</text>
<line x1="668" y1="81.5" x2="668.5" y2="84" stroke="#ffff00" stroke-width="1"/>
<text x="634.4" y="116.3" fill="#00ff00" stroke="#00ff00" stroke-width="0.45" font-size="4.6" text-anchor="start" font-weight="bold" textLength="15.2" lengthAdjust="spacingAndGlyphs">节点放大Ⅲ</text>
<line x1="634" y1="117.5" x2="660" y2="117.5" stroke="#ffff00" stroke-width="1"/>
<text x="638.5" y="122.7" fill="#00ff00" stroke="#00ff00" stroke-width="0.45" font-size="4.6" text-anchor="start" font-weight="bold" textLength="8.2" lengthAdjust="spacingAndGlyphs">1:2.5</text>
<text x="644" y="133" fill="#00ff00" stroke="#00ff00" stroke-width="0.45" font-size="5" text-anchor="middle" font-weight="bold">60°</text>
<line x1="636" y1="135.5" x2="645" y2="154" stroke="#00ff00" stroke-width="1"/>
<line x1="656.5" y1="135.5" x2="647" y2="154" stroke="#00ff00" stroke-width="1"/>
<path d="M630,140.5 Q646,126 662,140.5" stroke="#00ff00" stroke-width="1" fill="none"/>
<line x1="617.5" y1="146.5" x2="617.5" y2="146.5" stroke="#00ff00" stroke-width="1"/>
<line x1="617.5" y1="151.5" x2="622.5" y2="146.5" stroke="#00ff00" stroke-width="1"/>
<line x1="619.5" y1="154.5" x2="627.5" y2="146.5" stroke="#00ff00" stroke-width="1"/>
<line x1="624.5" y1="154.5" x2="632.5" y2="146.5" stroke="#00ff00" stroke-width="1"/>
<line x1="629.5" y1="154.5" x2="637.5" y2="146.5" stroke="#00ff00" stroke-width="1"/>
<line x1="634.5" y1="154.5" x2="642.5" y2="146.5" stroke="#00ff00" stroke-width="1"/>
<line x1="639.5" y1="154.5" x2="645.5" y2="148.5" stroke="#00ff00" stroke-width="1"/>
<line x1="644.5" y1="154.5" x2="645.5" y2="153.5" stroke="#00ff00" stroke-width="1"/>
<line x1="646.5" y1="154.5" x2="646.5" y2="154.5" stroke="#00ff00" stroke-width="1"/>
<line x1="651.5" y1="154.5" x2="646.5" y2="149.5" stroke="#00ff00" stroke-width="1"/>
<line x1="656.5" y1="154.5" x2="648.5" y2="146.5" stroke="#00ff00" stroke-width="1"/>
<line x1="661.5" y1="154.5" x2="653.5" y2="146.5" stroke="#00ff00" stroke-width="1"/>
<line x1="666.5" y1="154.5" x2="658.5" y2="146.5" stroke="#00ff00" stroke-width="1"/>
<line x1="671.5" y1="154.5" x2="663.5" y2="146.5" stroke="#00ff00" stroke-width="1"/>
<line x1="673.0" y1="151.0" x2="668.5" y2="146.5" stroke="#00ff00" stroke-width="1"/>
<rect x="617.5" y="146.5" width="55.5" height="8" stroke="#ffff00" stroke-width="1" fill="none"/>
<polygon points="642.5,146.5 646,154.5 649.5,146.5" stroke="#ffff00" stroke-width="1" fill="#ffff00"/>
<line x1="644.5" y1="154.5" x2="644.5" y2="166" stroke="#00ff00" stroke-width="1"/>
<line x1="648" y1="154.5" x2="648" y2="166" stroke="#00ff00" stroke-width="1"/>
<line x1="631" y1="165.5" x2="654" y2="165.5" stroke="#00ff00" stroke-width="1"/>
<line x1="665.5" y1="145" x2="665.5" y2="166" stroke="#00ff00" stroke-width="1"/>
<text x="635" y="164.5" fill="#00ff00" stroke="#00ff00" stroke-width="0.45" font-size="5.4" text-anchor="middle" font-weight="bold" textLength="2.0" lengthAdjust="spacingAndGlyphs">2</text>
<text x="663.5" y="161" fill="#00ff00" stroke="#00ff00" stroke-width="0.45" font-size="5.4" text-anchor="middle" font-weight="bold" textLength="2.0" lengthAdjust="spacingAndGlyphs" transform="rotate(-70 663.5 161)">3</text>
<text x="562.7" y="173.3" fill="#00ff00" stroke="#00ff00" stroke-width="0.45" font-size="4.6" text-anchor="start" font-weight="bold" textLength="24" lengthAdjust="spacingAndGlyphs">放料口节点放大</text>
<line x1="560" y1="174.5" x2="601.5" y2="174.5" stroke="#ffff00" stroke-width="1"/>
<text x="573.5" y="179.7" fill="#00ff00" stroke="#00ff00" stroke-width="0.45" font-size="4.6" text-anchor="start" font-weight="bold" textLength="8.2" lengthAdjust="spacingAndGlyphs">1:2.5</text>
<path d="M558,207 C557,196 566,190 576,189 L576,193 M586,193 C595,194 600,199 602,207 L602,222 M558,207 C556,218 562,226 575,228.5 C585,229.5 592,228 596,224" stroke="#00ff00" stroke-width="1" fill="none"/>
<line x1="576.5" y1="188" x2="576.5" y2="229" stroke="#00ff00" stroke-width="1"/>
<line x1="556" y1="207" x2="576" y2="207" stroke="#00ff00" stroke-width="1"/>
<line x1="586" y1="210" x2="603" y2="210" stroke="#00ff00" stroke-width="1"/>
<line x1="586" y1="214" x2="603" y2="214" stroke="#00ff00" stroke-width="1"/>
<line x1="602.5" y1="203" x2="602.5" y2="222" stroke="#00ff00" stroke-width="1"/>
<line x1="561" y1="195" x2="576" y2="212" stroke="#00ff00" stroke-width="1"/>
<line x1="589" y1="212" x2="600" y2="200" stroke="#00ff00" stroke-width="1"/>
<rect x="576.5" y="194.5" width="2.5" height="18" stroke="#ffff00" stroke-width="1" fill="none"/>
<rect x="583.5" y="194.5" width="2.5" height="18" stroke="#ffff00" stroke-width="1" fill="none"/>
<line x1="580.5" y1="193" x2="580.5" y2="216" stroke="#ff0000" stroke-width="1"/>
<line x1="576.5" y1="194.5" x2="576.5" y2="194.5" stroke="#00ff00" stroke-width="1"/>
<line x1="576.5" y1="196.5" x2="578.5" y2="194.5" stroke="#00ff00" stroke-width="1"/>
<line x1="576.5" y1="198.5" x2="579.0" y2="196.0" stroke="#00ff00" stroke-width="1"/>
<line x1="576.5" y1="200.5" x2="579.0" y2="198.0" stroke="#00ff00" stroke-width="1"/>
<line x1="576.5" y1="202.5" x2="579.0" y2="200.0" stroke="#00ff00" stroke-width="1"/>
<line x1="576.5" y1="204.5" x2="579.0" y2="202.0" stroke="#00ff00" stroke-width="1"/>
<line x1="576.5" y1="206.5" x2="579.0" y2="204.0" stroke="#00ff00" stroke-width="1"/>
<line x1="576.5" y1="208.5" x2="579.0" y2="206.0" stroke="#00ff00" stroke-width="1"/>
<line x1="576.5" y1="210.5" x2="579.0" y2="208.0" stroke="#00ff00" stroke-width="1"/>
<line x1="576.5" y1="212.5" x2="579.0" y2="210.0" stroke="#00ff00" stroke-width="1"/>
<line x1="578.5" y1="212.5" x2="579.0" y2="212.0" stroke="#00ff00" stroke-width="1"/>
<line x1="583.5" y1="194.5" x2="583.5" y2="194.5" stroke="#00ff00" stroke-width="1"/>
<line x1="583.5" y1="196.5" x2="585.5" y2="194.5" stroke="#00ff00" stroke-width="1"/>
<line x1="583.5" y1="198.5" x2="586.0" y2="196.0" stroke="#00ff00" stroke-width="1"/>
<line x1="583.5" y1="200.5" x2="586.0" y2="198.0" stroke="#00ff00" stroke-width="1"/>
<line x1="583.5" y1="202.5" x2="586.0" y2="200.0" stroke="#00ff00" stroke-width="1"/>
<line x1="583.5" y1="204.5" x2="586.0" y2="202.0" stroke="#00ff00" stroke-width="1"/>
<line x1="583.5" y1="206.5" x2="586.0" y2="204.0" stroke="#00ff00" stroke-width="1"/>
<line x1="583.5" y1="208.5" x2="586.0" y2="206.0" stroke="#00ff00" stroke-width="1"/>
<line x1="583.5" y1="210.5" x2="586.0" y2="208.0" stroke="#00ff00" stroke-width="1"/>
<line x1="583.5" y1="212.5" x2="586.0" y2="210.0" stroke="#00ff00" stroke-width="1"/>
<line x1="585.5" y1="212.5" x2="586.0" y2="212.0" stroke="#00ff00" stroke-width="1"/>
<line x1="557.5" y1="207.5" x2="576.5" y2="207.5" stroke="#ffff00" stroke-width="1"/>
<line x1="557.5" y1="210.5" x2="573" y2="210.5" stroke="#ffff00" stroke-width="1"/>
<line x1="573" y1="210.5" x2="576.5" y2="213" stroke="#ffff00" stroke-width="1"/>
<path d="M583.5,212.5 C589,216 592,220 594.5,226 M586,212.5 C591,215 594,219 596,224" stroke="#ffff00" stroke-width="1" fill="none"/>
<text x="563" y="191" fill="#00ff00" stroke="#00ff00" stroke-width="0.45" font-size="5.4" text-anchor="middle" font-weight="bold" textLength="6.1" lengthAdjust="spacingAndGlyphs">30°</text>
<text x="596" y="194" fill="#00ff00" stroke="#00ff00" stroke-width="0.45" font-size="5.4" text-anchor="middle" font-weight="bold" textLength="6.1" lengthAdjust="spacingAndGlyphs">45°</text>
<text x="584" y="225" fill="#00ff00" stroke="#00ff00" stroke-width="0.45" font-size="5.4" text-anchor="middle" font-weight="bold" textLength="6.1" lengthAdjust="spacingAndGlyphs">2±1</text>
<text x="566" y="220" fill="#00ff00" stroke="#00ff00" stroke-width="0.45" font-size="5.4" text-anchor="middle" font-weight="bold" textLength="4.1" lengthAdjust="spacingAndGlyphs" transform="rotate(-70 566 220)">10</text>
<text x="557" y="201" fill="#00ff00" stroke="#00ff00" stroke-width="0.45" font-size="5.4" text-anchor="middle" font-weight="bold" textLength="2.0" lengthAdjust="spacingAndGlyphs">5</text>
<text x="632.5" y="187.3" fill="#00ff00" stroke="#00ff00" stroke-width="0.45" font-size="4.6" text-anchor="start" font-weight="bold" textLength="17.2" lengthAdjust="spacingAndGlyphs">夹套节点放大</text>
<line x1="629" y1="188.5" x2="664" y2="188.5" stroke="#ffff00" stroke-width="1"/>
<text x="638.8" y="193.7" fill="#00ff00" stroke="#00ff00" stroke-width="0.45" font-size="4.6" text-anchor="start" font-weight="bold" textLength="9" lengthAdjust="spacingAndGlyphs">1:2.5</text>
<path d="M639,218.5 C628,218 619,221 618.5,229 C618,240 620,252 623,262 C625,266 629,265 634,261 C645,263 656,262 666.5,260" stroke="#00ff00" stroke-width="1" fill="none"/>
<path d="M639,206 C652,206 662,214 666.5,226" stroke="#00ff00" stroke-width="1" fill="none"/>
<line x1="639.5" y1="205" x2="639.5" y2="262" stroke="#00ff00" stroke-width="1"/>
<line x1="633" y1="207.5" x2="646" y2="207.5" stroke="#00ff00" stroke-width="1"/>
<line x1="666.5" y1="213" x2="666.5" y2="244" stroke="#00ff00" stroke-width="1"/>
<line x1="626" y1="223" x2="639" y2="223" stroke="#00ff00" stroke-width="1"/>
<line x1="626" y1="232" x2="667" y2="232" stroke="#00ff00" stroke-width="1"/>
<line x1="626" y1="223" x2="626" y2="232" stroke="#00ff00" stroke-width="1"/>
<line x1="622" y1="254" x2="648" y2="254" stroke="#00ff00" stroke-width="1"/>
<line x1="640" y1="233" x2="658" y2="212" stroke="#00ff00" stroke-width="1"/>
<rect x="634.5" y="219" width="5" height="42" stroke="#ffff00" stroke-width="1" fill="none"/>
<line x1="634.5" y1="219.0" x2="634.5" y2="219" stroke="#00ff00" stroke-width="1"/>
<line x1="634.5" y1="224.0" x2="639.5" y2="219" stroke="#00ff00" stroke-width="1"/>
<line x1="634.5" y1="229.0" x2="639.5" y2="224.0" stroke="#00ff00" stroke-width="1"/>
<line x1="634.5" y1="234.0" x2="639.5" y2="229.0" stroke="#00ff00" stroke-width="1"/>
<line x1="634.5" y1="239.0" x2="639.5" y2="234.0" stroke="#00ff00" stroke-width="1"/>
<line x1="634.5" y1="244.0" x2="639.5" y2="239.0" stroke="#00ff00" stroke-width="1"/>
<line x1="634.5" y1="249.0" x2="639.5" y2="244.0" stroke="#00ff00" stroke-width="1"/>
<line x1="634.5" y1="254.0" x2="639.5" y2="249.0" stroke="#00ff00" stroke-width="1"/>
<line x1="634.5" y1="259.0" x2="639.5" y2="254.0" stroke="#00ff00" stroke-width="1"/>
<line x1="637.5" y1="261" x2="639.5" y2="259.0" stroke="#00ff00" stroke-width="1"/>
<path d="M639.5,224 C652,226 664,236 666.5,249 V260 M639.5,232 C650,235 658,244 660,260 H666.5" stroke="#ffff00" stroke-width="1" fill="none"/>
<line x1="641.0" y1="226.0" x2="640.0" y2="233.0" stroke="#00ff00" stroke-width="1"/>
<line x1="644.7" y1="227.3" x2="642.8" y2="234.4" stroke="#00ff00" stroke-width="1"/>
<line x1="648.3" y1="229.3" x2="645.7" y2="236.9" stroke="#00ff00" stroke-width="1"/>
<line x1="652.0" y1="232.0" x2="648.5" y2="240.5" stroke="#00ff00" stroke-width="1"/>
<line x1="655.7" y1="235.3" x2="651.3" y2="245.2" stroke="#00ff00" stroke-width="1"/>
<line x1="659.3" y1="239.3" x2="654.2" y2="251.1" stroke="#00ff00" stroke-width="1"/>
<line x1="663.0" y1="244.0" x2="657.0" y2="258.0" stroke="#00ff00" stroke-width="1"/>
<text x="653" y="206" fill="#00ff00" stroke="#00ff00" stroke-width="0.45" font-size="5.4" text-anchor="middle" font-weight="bold" textLength="6.1" lengthAdjust="spacingAndGlyphs">45°</text>
<text x="622" y="229" fill="#00ff00" stroke="#00ff00" stroke-width="0.45" font-size="5.4" text-anchor="middle" font-weight="bold" textLength="2.0" lengthAdjust="spacingAndGlyphs">4</text>
<text x="630" y="253" fill="#00ff00" stroke="#00ff00" stroke-width="0.45" font-size="5.4" text-anchor="middle" font-weight="bold" textLength="6.1" lengthAdjust="spacingAndGlyphs">2±1</text>
<text x="646" y="250" fill="#00ff00" stroke="#00ff00" stroke-width="0.45" font-size="5.4" text-anchor="middle" font-weight="bold" textLength="2.0" lengthAdjust="spacingAndGlyphs" transform="rotate(-70 646 250)">3</text>
<text x="664" y="223" fill="#00ff00" stroke="#00ff00" stroke-width="0.45" font-size="5.4" text-anchor="middle" font-weight="bold" textLength="2.0" lengthAdjust="spacingAndGlyphs">8</text>
<rect x="153.5" y="361.5" width="13" height="147" stroke="#ffff00" stroke-width="1" fill="none"/>
<rect x="297.5" y="361.5" width="14" height="147" stroke="#ffff00" stroke-width="1" fill="none"/>
<line x1="166.5" y1="367.5" x2="297.5" y2="367.5" stroke="#ff00ff" stroke-width="1"/>
<line x1="166.5" y1="372" x2="297.5" y2="372" stroke="#ffff00" stroke-width="1"/>
<circle cx="232.5" cy="435" r="61.5" stroke="#ffff00" stroke-width="1" fill="none"/>
<circle cx="232.5" cy="435" r="58.5" stroke="#ffff00" stroke-width="1" fill="none"/>
<line x1="171" y1="435" x2="312" y2="435" stroke="#ff0000" stroke-width="1" stroke-dasharray="14 1.5 1.5 1.5"/>
<line x1="232.5" y1="363" x2="232.5" y2="507" stroke="#ff0000" stroke-width="1" stroke-dasharray="22 1.5 1.5 1.5"/>
<line x1="166.5" y1="471.5" x2="185" y2="471.5" stroke="#ff00ff" stroke-width="1"/>
<line x1="280" y1="471.5" x2="297.5" y2="471.5" stroke="#ff00ff" stroke-width="1"/>
<line x1="166.5" y1="476.5" x2="190" y2="476.5" stroke="#ffff00" stroke-width="1"/>
<line x1="275" y1="476.5" x2="297.5" y2="476.5" stroke="#ffff00" stroke-width="1"/>
<line x1="180.5" y1="476.5" x2="180.5" y2="508.5" stroke="#00ff00" stroke-width="1"/>
<line x1="166.5" y1="508.5" x2="182" y2="508.5" stroke="#00ff00" stroke-width="1"/>
<text x="178.5" y="492" fill="#00ff00" stroke="#00ff00" stroke-width="0.45" font-size="5.4" text-anchor="middle" font-weight="bold" textLength="6.1" lengthAdjust="spacingAndGlyphs" transform="rotate(-90 178.5 492)">300</text>
<rect x="203.5" y="384.5" width="3" height="6" fill="none" stroke="#ff00ff" transform="rotate(30 205 387.5)"/>
<rect x="258.0" y="384.5" width="3" height="6" fill="none" stroke="#ff00ff" transform="rotate(-30 259.5 387.5)"/>
<rect x="203.5" y="479" width="3" height="6" fill="none" stroke="#ff00ff" transform="rotate(-30 205 482)"/>
<rect x="258.0" y="479" width="3" height="6" fill="none" stroke="#ff00ff" transform="rotate(30 259.5 482)"/>
<rect x="174.5" y="433" width="6" height="4" stroke="#ff00ff" stroke-width="1" fill="none"/>
<rect x="283.5" y="433" width="6" height="4" stroke="#ff00ff" stroke-width="1" fill="none"/>
<rect x="230" y="433.5" width="5" height="3" stroke="#ff00ff" stroke-width="1" fill="none"/>
<line x1="223.5" y1="431" x2="223.5" y2="439" stroke="#ff0000" stroke-width="1"/>
<circle cx="223.5" cy="435" r="1" stroke="#ff00ff" stroke-width="1" fill="none"/>
<line x1="253" y1="431" x2="253" y2="439" stroke="#ff0000" stroke-width="1"/>
<circle cx="253" cy="435" r="1" stroke="#ff00ff" stroke-width="1" fill="none"/>
<text x="223" y="430" fill="#ffffff" stroke="#ffffff" stroke-width="0.45" font-size="5" text-anchor="middle" font-weight="bold">DN</text>
<text x="236" y="442" fill="#ffffff" stroke="#ffffff" stroke-width="0.45" font-size="5" text-anchor="middle" font-weight="bold">dn2</text>
<text x="257.5" y="432" fill="#ffffff" stroke="#ffffff" stroke-width="0.45" font-size="5" text-anchor="middle" font-weight="bold">dn1</text>
<text x="286" y="432.5" fill="#ffffff" stroke="#ffffff" stroke-width="0.45" font-size="5" text-anchor="middle" font-weight="bold">f</text>
<text x="134" y="434.5" fill="#ffffff" stroke="#ffffff" stroke-width="0.45" font-size="5" text-anchor="middle" font-weight="bold">e</text>
<text x="322.5" y="440" fill="#ffffff" stroke="#ffffff" stroke-width="0.45" font-size="5" text-anchor="middle" font-weight="bold">d</text>
<rect x="142" y="418.5" width="11.5" height="29" stroke="#ffff00" stroke-width="1" fill="none"/>
<rect x="145" y="420" width="3" height="26" stroke="#ffff00" stroke-width="1" fill="none"/>
<line x1="146.5" y1="417" x2="146.5" y2="450" stroke="#ff0000" stroke-width="1"/>
<rect x="155.5" y="423" width="9.5" height="24" stroke="#ffff00" stroke-width="1" fill="none"/>
<rect x="156.5" y="424" width="7" height="8" stroke="#ffff00" stroke-width="1" fill="none"/>
<rect x="156.5" y="438" width="7" height="8" stroke="#ffff00" stroke-width="1" fill="none"/>
<line x1="158" y1="428" x2="162" y2="428" stroke="#ff0000" stroke-width="1"/>
<line x1="160" y1="426" x2="160" y2="430" stroke="#ff0000" stroke-width="1"/>
<line x1="158" y1="442" x2="162" y2="442" stroke="#ff0000" stroke-width="1"/>
<line x1="160" y1="440" x2="160" y2="444" stroke="#ff0000" stroke-width="1"/>
<rect x="165" y="431" width="6" height="8" stroke="#ffff00" stroke-width="1" fill="none"/>
<rect x="138" y="431" width="4" height="8" stroke="#ffff00" stroke-width="1" fill="none"/>
<rect x="139" y="433.5" width="2" height="3" stroke="#00ff00" stroke-width="1" fill="#00ff00"/>
<line x1="136" y1="435" x2="172" y2="435" stroke="#ff0000" stroke-width="1"/>
<circle cx="140" cy="462" r="8" stroke="#ffff00" stroke-width="1" fill="none"/>
<rect x="139" y="451.5" width="13.5" height="16" stroke="#ffff00" stroke-width="1" fill="#ffff00"/>
<rect x="137" y="458" width="16" height="8" stroke="#ffff00" stroke-width="1" fill="#ffff00"/>
<rect x="138" y="460" width="3" height="3" stroke="#ff0000" stroke-width="1" fill="#ff0000"/>
<line x1="133" y1="462" x2="155" y2="462" stroke="#ff0000" stroke-width="1"/>
<line x1="140" y1="452" x2="140" y2="473" stroke="#ff0000" stroke-width="1"/>
<line x1="146.5" y1="450" x2="146.5" y2="468" stroke="#ff0000" stroke-width="1"/>
<rect x="299.5" y="423" width="10" height="24" stroke="#ffff00" stroke-width="1" fill="none"/>
<rect x="300.5" y="424" width="8" height="8" stroke="#ffff00" stroke-width="1" fill="none"/>
<rect x="300.5" y="438" width="8" height="8" stroke="#ffff00" stroke-width="1" fill="none"/>
<line x1="302.5" y1="428" x2="306.5" y2="428" stroke="#ff0000" stroke-width="1"/>
<line x1="304.5" y1="426" x2="304.5" y2="430" stroke="#ff0000" stroke-width="1"/>
<line x1="302.5" y1="442" x2="306.5" y2="442" stroke="#ff0000" stroke-width="1"/>
<line x1="304.5" y1="440" x2="304.5" y2="444" stroke="#ff0000" stroke-width="1"/>
<rect x="293" y="431" width="6.5" height="8" stroke="#ffff00" stroke-width="1" fill="none"/>
<circle cx="318.5" cy="418.5" r="6.5" stroke="#ffff00" stroke-width="1" fill="none"/>
<circle cx="318.5" cy="418.5" r="5" stroke="#ffff00" stroke-width="1" fill="none"/>
<line x1="310" y1="418.5" x2="327" y2="418.5" stroke="#ff0000" stroke-width="1"/>
<line x1="318.5" y1="410" x2="318.5" y2="450" stroke="#ff0000" stroke-width="1"/>
<polyline points="315.5,424 315.5,436 311,436 311,440 316,440 316,446 323,446 323,443 320,443 320,424" stroke="#ffff00" stroke-width="1" fill="none"/>
<rect x="310" y="433.5" width="5" height="3" stroke="#00ff00" stroke-width="1" fill="#00ff00"/>
<line x1="342.5" y1="444.5" x2="352" y2="444.5" stroke="#ffff00" stroke-width="1"/>
<line x1="342.5" y1="455" x2="352" y2="455" stroke="#ffff00" stroke-width="1"/>
<line x1="342.5" y1="444.5" x2="342.5" y2="455" stroke="#00ff00" stroke-width="1"/>
<line x1="342.5" y1="455" x2="305" y2="444" stroke="#00ff00" stroke-width="1"/>
<text x="348" y="442.5" fill="#00ff00" stroke="#00ff00" stroke-width="0.45" font-size="5.4" text-anchor="middle" font-weight="bold" textLength="4.1" lengthAdjust="spacingAndGlyphs">13</text>
<text x="348" y="453" fill="#00ff00" stroke="#00ff00" stroke-width="0.45" font-size="5.4" text-anchor="middle" font-weight="bold" textLength="4.1" lengthAdjust="spacingAndGlyphs">42</text>
<line x1="682.5" y1="25.5" x2="854.5" y2="25.5" stroke="#ffffff" stroke-width="1"/>
<line x1="682.5" y1="33.5" x2="854.5" y2="33.5" stroke="#ffffff" stroke-width="1"/>
<line x1="682.5" y1="41.5" x2="768.3" y2="41.5" stroke="#ffffff" stroke-width="1"/>
<line x1="682.5" y1="48.5" x2="768.3" y2="48.5" stroke="#ffffff" stroke-width="1"/>
<line x1="682.5" y1="56.5" x2="768.3" y2="56.5" stroke="#ffffff" stroke-width="1"/>
<line x1="682.5" y1="64.5" x2="768.3" y2="64.5" stroke="#ffffff" stroke-width="1"/>
<line x1="682.5" y1="71.5" x2="768.3" y2="71.5" stroke="#ffffff" stroke-width="1"/>
<line x1="682.5" y1="79.5" x2="768.3" y2="79.5" stroke="#ffffff" stroke-width="1"/>
<line x1="682.5" y1="87.5" x2="768.3" y2="87.5" stroke="#ffffff" stroke-width="1"/>
<line x1="682.5" y1="94.5" x2="768.3" y2="94.5" stroke="#ffffff" stroke-width="1"/>
<line x1="682.5" y1="102.5" x2="768.3" y2="102.5" stroke="#ffffff" stroke-width="1"/>
<line x1="682.5" y1="110.5" x2="768.3" y2="110.5" stroke="#ffffff" stroke-width="1"/>
<line x1="682.5" y1="117.5" x2="768.3" y2="117.5" stroke="#ffffff" stroke-width="1"/>
<line x1="682.5" y1="125.5" x2="768.3" y2="125.5" stroke="#ffffff" stroke-width="1"/>
<line x1="682.5" y1="132.5" x2="768.3" y2="132.5" stroke="#ffffff" stroke-width="1"/>
<line x1="682.5" y1="140.5" x2="768.3" y2="140.5" stroke="#ffffff" stroke-width="1"/>
<line x1="682.5" y1="148.5" x2="768.3" y2="148.5" stroke="#ffffff" stroke-width="1"/>
<line x1="682.5" y1="155.5" x2="768.3" y2="155.5" stroke="#ffffff" stroke-width="1"/>
<line x1="682.5" y1="163.5" x2="768.3" y2="163.5" stroke="#ffffff" stroke-width="1"/>
<line x1="682.5" y1="171.5" x2="768.3" y2="171.5" stroke="#ffffff" stroke-width="1"/>
<line x1="682.5" y1="178.5" x2="768.3" y2="178.5" stroke="#ffffff" stroke-width="1"/>
<line x1="776.3" y1="56.5" x2="854.5" y2="56.5" stroke="#ffffff" stroke-width="1"/>
<line x1="776.3" y1="64.5" x2="854.5" y2="64.5" stroke="#ffffff" stroke-width="1"/>
<line x1="776.3" y1="87.5" x2="854.5" y2="87.5" stroke="#ffffff" stroke-width="1"/>
<line x1="776.3" y1="94.5" x2="854.5" y2="94.5" stroke="#ffffff" stroke-width="1"/>
<line x1="776.3" y1="102.5" x2="854.5" y2="102.5" stroke="#ffffff" stroke-width="1"/>
<line x1="776.3" y1="110.5" x2="854.5" y2="110.5" stroke="#ffffff" stroke-width="1"/>
<line x1="776.3" y1="117.5" x2="854.5" y2="117.5" stroke="#ffffff" stroke-width="1"/>
<line x1="776.3" y1="125.5" x2="854.5" y2="125.5" stroke="#ffffff" stroke-width="1"/>
<line x1="776.3" y1="132.5" x2="854.5" y2="132.5" stroke="#ffffff" stroke-width="1"/>
<line x1="776.3" y1="140.5" x2="854.5" y2="140.5" stroke="#ffffff" stroke-width="1"/>
<line x1="776.3" y1="148.5" x2="854.5" y2="148.5" stroke="#ffffff" stroke-width="1"/>
<line x1="776.3" y1="155.5" x2="854.5" y2="155.5" stroke="#ffffff" stroke-width="1"/>
<line x1="776.3" y1="163.5" x2="854.5" y2="163.5" stroke="#ffffff" stroke-width="1"/>
<line x1="776.3" y1="171.5" x2="854.5" y2="171.5" stroke="#ffffff" stroke-width="1"/>
<line x1="776.3" y1="178.5" x2="854.5" y2="178.5" stroke="#ffffff" stroke-width="1"/>
<line x1="768.3" y1="56.5" x2="776.3" y2="56.5" stroke="#ffffff" stroke-width="1"/>
<line x1="768.3" y1="87.5" x2="776.3" y2="87.5" stroke="#ffffff" stroke-width="1"/>
<line x1="768.3" y1="125.5" x2="776.3" y2="125.5" stroke="#ffffff" stroke-width="1"/>
<line x1="768.3" y1="163.5" x2="776.3" y2="163.5" stroke="#ffffff" stroke-width="1"/>
<line x1="682.5" y1="18" x2="682.5" y2="326" stroke="#00ffff" stroke-width="1"/>
<line x1="768.5" y1="25.85" x2="768.5" y2="186.5" stroke="#ffffff" stroke-width="1"/>
<line x1="720.5" y1="33.5" x2="720.5" y2="186.5" stroke="#ffffff" stroke-width="1"/>
<line x1="745.5" y1="41.150000000000006" x2="745.5" y2="125.30000000000001" stroke="#ffffff" stroke-width="1"/>
<line x1="776.5" y1="56.45" x2="776.5" y2="186.5" stroke="#ffffff" stroke-width="1"/>
<line x1="802.5" y1="94.7" x2="802.5" y2="163.54999999999998" stroke="#ffffff" stroke-width="1"/>
<line x1="818.5" y1="94.7" x2="818.5" y2="163.54999999999998" stroke="#ffffff" stroke-width="1"/>
<line x1="838.5" y1="94.7" x2="838.5" y2="163.54999999999998" stroke="#ffffff" stroke-width="1"/>
<line x1="787.5" y1="132.95" x2="787.5" y2="155.9" stroke="#ffffff" stroke-width="1"/>
<line x1="818.5" y1="163.54999999999998" x2="818.5" y2="186.5" stroke="#ffffff" stroke-width="1"/>
<line x1="836.5" y1="163.54999999999998" x2="836.5" y2="186.5" stroke="#ffffff" stroke-width="1"/>
<line x1="802.5" y1="171.2" x2="802.5" y2="186.5" stroke="#ffffff" stroke-width="1"/>
<text x="760.5" y="24.4" fill="#ffffff" stroke="#ffffff" stroke-width="0.45" font-size="4.49" text-anchor="start" font-weight="bold" textLength="11" lengthAdjust="spacingAndGlyphs">技术特性表</text>
<text x="714.7" y="32.1" fill="#ffffff" stroke="#ffffff" stroke-width="0.45" font-size="4.49" text-anchor="start" font-weight="bold" textLength="8" lengthAdjust="spacingAndGlyphs">项 目</text>
<text x="797.8" y="32.1" fill="#ffffff" stroke="#ffffff" stroke-width="0.45" font-size="4.49" text-anchor="start" font-weight="bold" textLength="22" lengthAdjust="spacingAndGlyphs">设计、制造、检验要求</text>
<text x="685.3" y="39.7" fill="#ffffff" stroke="#ffffff" stroke-width="0.45" font-size="4.49" text-anchor="start" font-weight="bold" textLength="8.7" lengthAdjust="spacingAndGlyphs">容器类别</text>
<text x="742.5" y="39.7" fill="#ffffff" stroke="#ffffff" stroke-width="0.45" font-size="4.49" text-anchor="start" font-weight="bold" textLength="5" lengthAdjust="spacingAndGlyphs">一类</text>
<text x="685.3" y="47.4" fill="#ffffff" stroke="#ffffff" stroke-width="0.45" font-size="4.49" text-anchor="start" font-weight="bold" textLength="8.7" lengthAdjust="spacingAndGlyphs">部位</text>
<text x="728.7" y="47.4" fill="#ffffff" stroke="#ffffff" stroke-width="0.45" font-size="4.49" text-anchor="start" font-weight="bold" textLength="6" lengthAdjust="spacingAndGlyphs">内筒</text>
<text x="754.2" y="47.4" fill="#ffffff" stroke="#ffffff" stroke-width="0.45" font-size="4.49" text-anchor="start" font-weight="bold" textLength="6" lengthAdjust="spacingAndGlyphs">夹套</text>
<text x="685.3" y="55.0" fill="#ffffff" stroke="#ffffff" stroke-width="0.45" font-size="4.49" text-anchor="start" font-weight="bold" textLength="8.7" lengthAdjust="spacingAndGlyphs">工作压力</text>
<text x="711.2" y="54.9" fill="#ffffff" stroke="#ffffff" stroke-width="0.45" font-size="5.12" text-anchor="start" font-weight="bold" textLength="4.5" lengthAdjust="spacingAndGlyphs">MPa</text>
<text x="729.2" y="55.0" fill="#ffffff" stroke="#ffffff" stroke-width="0.45" font-size="4.49" text-anchor="start" font-weight="bold" textLength="5" lengthAdjust="spacingAndGlyphs">常压</text>
<text x="754.2" y="55.0" fill="#ffffff" stroke="#ffffff" stroke-width="0.45" font-size="5.63" text-anchor="start" font-weight="bold" textLength="6" lengthAdjust="spacingAndGlyphs">0.25</text>
<text x="685.3" y="62.7" fill="#ffffff" stroke="#ffffff" stroke-width="0.45" font-size="4.49" text-anchor="start" font-weight="bold" textLength="8.7" lengthAdjust="spacingAndGlyphs">设计压力</text>
<text x="711.2" y="62.5" fill="#ffffff" stroke="#ffffff" stroke-width="0.45" font-size="5.12" text-anchor="start" font-weight="bold" textLength="4.5" lengthAdjust="spacingAndGlyphs">MPa</text>
<text x="729.2" y="62.7" fill="#ffffff" stroke="#ffffff" stroke-width="0.45" font-size="4.49" text-anchor="start" font-weight="bold" textLength="5" lengthAdjust="spacingAndGlyphs">常压</text>
<text x="754.2" y="62.7" fill="#ffffff" stroke="#ffffff" stroke-width="0.45" font-size="5.63" text-anchor="start" font-weight="bold" textLength="6" lengthAdjust="spacingAndGlyphs">0.30</text>
<text x="685.3" y="70.3" fill="#ffffff" stroke="#ffffff" stroke-width="0.45" font-size="4.49" text-anchor="start" font-weight="bold" textLength="8.7" lengthAdjust="spacingAndGlyphs">工作温度</text>
<text x="711.2" y="70.1" fill="#ffffff" stroke="#ffffff" stroke-width="0.45" font-size="4.08" text-anchor="start" font-weight="bold" textLength="4.5" lengthAdjust="spacingAndGlyphs">℃</text>
<text x="728.7" y="70.3" fill="#ffffff" stroke="#ffffff" stroke-width="0.45" font-size="5.63" text-anchor="start" font-weight="bold" textLength="6" lengthAdjust="spacingAndGlyphs">~100</text>
<text x="754.7" y="70.3" fill="#ffffff" stroke="#ffffff" stroke-width="0.45" font-size="5.63" text-anchor="start" font-weight="bold" textLength="5" lengthAdjust="spacingAndGlyphs">137</text>
<text x="685.3" y="78.0" fill="#ffffff" stroke="#ffffff" stroke-width="0.45" font-size="4.49" text-anchor="start" font-weight="bold" textLength="8.7" lengthAdjust="spacingAndGlyphs">设计温度</text>
<text x="711.2" y="77.8" fill="#ffffff" stroke="#ffffff" stroke-width="0.45" font-size="4.08" text-anchor="start" font-weight="bold" textLength="4.5" lengthAdjust="spacingAndGlyphs">℃</text>
<text x="729.2" y="78.0" fill="#ffffff" stroke="#ffffff" stroke-width="0.45" font-size="5.63" text-anchor="start" font-weight="bold" textLength="5" lengthAdjust="spacingAndGlyphs">100</text>
<text x="754.7" y="78.0" fill="#ffffff" stroke="#ffffff" stroke-width="0.45" font-size="5.63" text-anchor="start" font-weight="bold" textLength="5" lengthAdjust="spacingAndGlyphs">150</text>
<text x="685.3" y="85.6" fill="#ffffff" stroke="#ffffff" stroke-width="0.45" font-size="4.49" text-anchor="start" font-weight="bold" textLength="4" lengthAdjust="spacingAndGlyphs">介质</text>
<text x="728.7" y="85.6" fill="#ffffff" stroke="#ffffff" stroke-width="0.45" font-size="4.49" text-anchor="start" font-weight="bold" textLength="6" lengthAdjust="spacingAndGlyphs">物料</text>
<text x="753.7" y="85.6" fill="#ffffff" stroke="#ffffff" stroke-width="0.45" font-size="4.49" text-anchor="start" font-weight="bold" textLength="7" lengthAdjust="spacingAndGlyphs">蒸汽</text>
<text x="685.3" y="93.3" fill="#ffffff" stroke="#ffffff" stroke-width="0.45" font-size="4.49" text-anchor="start" font-weight="bold" textLength="8.7" lengthAdjust="spacingAndGlyphs">主要材质</text>
<text x="727.2" y="93.3" fill="#ffffff" stroke="#ffffff" stroke-width="0.45" font-size="5.63" text-anchor="start" font-weight="bold" textLength="9" lengthAdjust="spacingAndGlyphs">0Cr18Ni9</text>
<text x="752.7" y="93.3" fill="#ffffff" stroke="#ffffff" stroke-width="0.45" font-size="5.63" text-anchor="start" font-weight="bold" textLength="9" lengthAdjust="spacingAndGlyphs">Q235-B</text>
<text x="685.3" y="100.9" fill="#ffffff" stroke="#ffffff" stroke-width="0.45" font-size="4.49" text-anchor="start" font-weight="bold" textLength="8.7" lengthAdjust="spacingAndGlyphs">腐蚀裕量</text>
<text x="709.0" y="100.8" fill="#ffffff" stroke="#ffffff" stroke-width="0.45" font-size="5.12" text-anchor="start" font-weight="bold" textLength="9" lengthAdjust="spacingAndGlyphs">mm/a</text>
<text x="728.7" y="100.9" fill="#ffffff" stroke="#ffffff" stroke-width="0.45" font-size="5.63" text-anchor="start" font-weight="bold" textLength="6" lengthAdjust="spacingAndGlyphs">0.05</text>
<text x="754.7" y="100.9" fill="#ffffff" stroke="#ffffff" stroke-width="0.45" font-size="5.63" text-anchor="start" font-weight="bold" textLength="5" lengthAdjust="spacingAndGlyphs">1.0</text>
<text x="685.3" y="108.6" fill="#ffffff" stroke="#ffffff" stroke-width="0.45" font-size="4.49" text-anchor="start" font-weight="bold" textLength="17" lengthAdjust="spacingAndGlyphs">焊接接头系数</text>
<text x="727.7" y="108.6" fill="#ffffff" stroke="#ffffff" stroke-width="0.45" font-size="5.63" text-anchor="start" font-weight="bold" textLength="8" lengthAdjust="spacingAndGlyphs">0.85</text>
<text x="753.2" y="108.6" fill="#ffffff" stroke="#ffffff" stroke-width="0.45" font-size="5.63" text-anchor="start" font-weight="bold" textLength="8" lengthAdjust="spacingAndGlyphs">0.85</text>
<text x="685.3" y="116.2" fill="#ffffff" stroke="#ffffff" stroke-width="0.45" font-size="4.49" text-anchor="start" font-weight="bold" textLength="8.7" lengthAdjust="spacingAndGlyphs">全容积</text>
<text x="711.2" y="116.1" fill="#ffffff" stroke="#ffffff" stroke-width="0.45" font-size="5.12" text-anchor="start" font-weight="bold" textLength="4.5" lengthAdjust="spacingAndGlyphs">m³</text>
<text x="730.2" y="116.2" fill="#ffffff" stroke="#ffffff" stroke-width="0.45" font-size="5.63" text-anchor="start" font-weight="bold" textLength="3" lengthAdjust="spacingAndGlyphs">0.6</text>
<text x="755.7" y="116.2" fill="#ffffff" stroke="#ffffff" stroke-width="0.45" font-size="5.63" text-anchor="start" font-weight="bold" textLength="3" lengthAdjust="spacingAndGlyphs">0.1</text>
<text x="685.3" y="123.9" fill="#ffffff" stroke="#ffffff" stroke-width="0.45" font-size="4.49" text-anchor="start" font-weight="bold" textLength="13" lengthAdjust="spacingAndGlyphs">保温层厚度</text>
<text x="728.7" y="123.9" fill="#ffffff" stroke="#ffffff" stroke-width="0.45" font-size="5.63" text-anchor="start" font-weight="bold" textLength="6" lengthAdjust="spacingAndGlyphs">0.85</text>
<text x="754.2" y="123.9" fill="#ffffff" stroke="#ffffff" stroke-width="0.45" font-size="5.63" text-anchor="start" font-weight="bold" textLength="6" lengthAdjust="spacingAndGlyphs">0.85</text>
<text x="685.3" y="131.5" fill="#ffffff" stroke="#ffffff" stroke-width="0.45" font-size="4.49" text-anchor="start" font-weight="bold" textLength="8.7" lengthAdjust="spacingAndGlyphs">换热面积</text>
<text x="711.2" y="131.4" fill="#ffffff" stroke="#ffffff" stroke-width="0.45" font-size="5.12" text-anchor="start" font-weight="bold" textLength="4.5" lengthAdjust="spacingAndGlyphs">m²</text>
<text x="743.0" y="131.5" fill="#ffffff" stroke="#ffffff" stroke-width="0.45" font-size="5.63" text-anchor="start" font-weight="bold" textLength="4" lengthAdjust="spacingAndGlyphs">2.5</text>
<text x="685.3" y="139.2" fill="#ffffff" stroke="#ffffff" stroke-width="0.45" font-size="4.49" text-anchor="start" font-weight="bold" textLength="8.7" lengthAdjust="spacingAndGlyphs">充装系数</text>
<text x="742.0" y="139.2" fill="#ffffff" stroke="#ffffff" stroke-width="0.45" font-size="5.63" text-anchor="start" font-weight="bold" textLength="6" lengthAdjust="spacingAndGlyphs">0.85</text>
<text x="685.3" y="146.8" fill="#ffffff" stroke="#ffffff" stroke-width="0.45" font-size="4.49" text-anchor="start" font-weight="bold" textLength="8.7" lengthAdjust="spacingAndGlyphs">容积</text>
<text x="711.2" y="146.7" fill="#ffffff" stroke="#ffffff" stroke-width="0.45" font-size="5.12" text-anchor="start" font-weight="bold" textLength="4.5" lengthAdjust="spacingAndGlyphs">m³</text>
<text x="743.0" y="146.8" fill="#ffffff" stroke="#ffffff" stroke-width="0.45" font-size="5.63" text-anchor="start" font-weight="bold" textLength="4" lengthAdjust="spacingAndGlyphs">0.5</text>
<text x="685.3" y="154.5" fill="#ffffff" stroke="#ffffff" stroke-width="0.45" font-size="4.49" text-anchor="start" font-weight="bold" textLength="15" lengthAdjust="spacingAndGlyphs">安全阀型号</text>
<text x="729.0" y="154.5" fill="#ffffff" stroke="#ffffff" stroke-width="0.45" font-size="5.63" text-anchor="start" font-weight="bold" textLength="32" lengthAdjust="spacingAndGlyphs">A27W-10T DN20 0.28</text>
<text x="685.3" y="162.1" fill="#ffffff" stroke="#ffffff" stroke-width="0.45" font-size="4.49" text-anchor="start" font-weight="bold" textLength="8.7" lengthAdjust="spacingAndGlyphs">设备净重</text>
<text x="711.2" y="162.0" fill="#ffffff" stroke="#ffffff" stroke-width="0.45" font-size="5.12" text-anchor="start" font-weight="bold" textLength="4.5" lengthAdjust="spacingAndGlyphs">kg</text>
<text x="742.5" y="162.1" fill="#ffffff" stroke="#ffffff" stroke-width="0.45" font-size="5.63" text-anchor="start" font-weight="bold" textLength="5" lengthAdjust="spacingAndGlyphs">850</text>
<text x="685.3" y="169.8" fill="#ffffff" stroke="#ffffff" stroke-width="0.45" font-size="4.49" text-anchor="start" font-weight="bold" textLength="8.7" lengthAdjust="spacingAndGlyphs">水压试验</text>
<text x="685.3" y="177.4" fill="#ffffff" stroke="#ffffff" stroke-width="0.45" font-size="4.49" text-anchor="start" font-weight="bold" textLength="14" lengthAdjust="spacingAndGlyphs">最大吊装重量</text>
<text x="711.2" y="177.3" fill="#ffffff" stroke="#ffffff" stroke-width="0.45" font-size="5.12" text-anchor="start" font-weight="bold" textLength="4.5" lengthAdjust="spacingAndGlyphs">kg</text>
<text x="742.5" y="177.4" fill="#ffffff" stroke="#ffffff" stroke-width="0.45" font-size="5.63" text-anchor="start" font-weight="bold" textLength="5" lengthAdjust="spacingAndGlyphs">720</text>
<text x="685.3" y="185.1" fill="#ffffff" stroke="#ffffff" stroke-width="0.45" font-size="4.49" text-anchor="start" font-weight="bold" textLength="14" lengthAdjust="spacingAndGlyphs">设备总重量</text>
<text x="711.2" y="184.9" fill="#ffffff" stroke="#ffffff" stroke-width="0.45" font-size="5.12" text-anchor="start" font-weight="bold" textLength="4.5" lengthAdjust="spacingAndGlyphs">kg</text>
<text x="741.5" y="185.1" fill="#ffffff" stroke="#ffffff" stroke-width="0.45" font-size="5.63" text-anchor="start" font-weight="bold" textLength="7" lengthAdjust="spacingAndGlyphs">1200</text>
<line x1="736" y1="171" x2="758" y2="167" stroke="#ffffff" stroke-width="1"/>
<text x="773.5" y="40.9" fill="#ffffff" stroke="#ffffff" stroke-width="0.45" font-size="4.49" text-anchor="start" font-weight="bold" textLength="34.5" lengthAdjust="spacingAndGlyphs">GB150-1998《钢制压力容器》</text>
<text x="774.4" y="47.9" fill="#ffffff" stroke="#ffffff" stroke-width="0.45" font-size="4.49" text-anchor="start" font-weight="bold" textLength="41" lengthAdjust="spacingAndGlyphs">《压力容器安全技术监察规程》TSG R0004</text>
<text x="800.4" y="62.7" fill="#ffffff" stroke="#ffffff" stroke-width="0.45" font-size="4.49" text-anchor="start" font-weight="bold" textLength="15" lengthAdjust="spacingAndGlyphs">制造检验要求</text>
<text x="779" y="71.1" fill="#ffffff" stroke="#ffffff" stroke-width="0.45" font-size="4.49" text-anchor="start" font-weight="bold" textLength="51" lengthAdjust="spacingAndGlyphs">焊接采用氩弧焊,焊缝表面须抛光处理</text>
<text x="779" y="78.1" fill="#ffffff" stroke="#ffffff" stroke-width="0.45" font-size="4.49" text-anchor="start" font-weight="bold" textLength="51" lengthAdjust="spacingAndGlyphs">1. 焊条牌号:A102 容器内表面抛光</text>
<text x="779" y="85.5" fill="#ffffff" stroke="#ffffff" stroke-width="0.45" font-size="4.49" text-anchor="start" font-weight="bold" textLength="39" lengthAdjust="spacingAndGlyphs">2. 焊接接头型式按图样规定</text>
<text x="777.2" y="92.6" fill="#ffffff" stroke="#ffffff" stroke-width="0.45" font-size="4.49" text-anchor="start" font-weight="bold" textLength="62" lengthAdjust="spacingAndGlyphs">焊缝按JB/T4730-2005进行无损检测并符合要求</text>
<text x="778.2" y="100.9" fill="#ffffff" stroke="#ffffff" stroke-width="0.45" font-size="4.49" text-anchor="start" font-weight="bold" textLength="19.5" lengthAdjust="spacingAndGlyphs">焊缝/检测部位</text>
<text x="805.1" y="100.9" fill="#ffffff" stroke="#ffffff" stroke-width="0.45" font-size="4.49" text-anchor="start" font-weight="bold" textLength="8.3" lengthAdjust="spacingAndGlyphs">检测率</text>
<text x="820.9" y="100.9" fill="#ffffff" stroke="#ffffff" stroke-width="0.45" font-size="4.49" text-anchor="start" font-weight="bold" textLength="9.3" lengthAdjust="spacingAndGlyphs">合格级</text>
<text x="842.2" y="100.9" fill="#ffffff" stroke="#ffffff" stroke-width="0.45" font-size="4.49" text-anchor="start" font-weight="bold" textLength="4" lengthAdjust="spacingAndGlyphs">比例</text>
<text x="779" y="108.6" fill="#ffffff" stroke="#ffffff" stroke-width="0.45" font-size="4.49" text-anchor="start" font-weight="bold" textLength="14" lengthAdjust="spacingAndGlyphs">A、B类内筒</text>
<text x="806" y="108.6" fill="#ffffff" stroke="#ffffff" stroke-width="0.45" font-size="5.63" text-anchor="start" font-weight="bold" textLength="7.5" lengthAdjust="spacingAndGlyphs">20%</text>
<text x="819" y="108.6" fill="#ffffff" stroke="#ffffff" stroke-width="0.45" font-size="4.49" text-anchor="start" font-weight="bold" textLength="18.5" lengthAdjust="spacingAndGlyphs">JB/T4730-Ⅲ</text>
<text x="843.2" y="108.6" fill="#ffffff" stroke="#ffffff" stroke-width="0.45" font-size="4.49" text-anchor="start" font-weight="bold" textLength="9" lengthAdjust="spacingAndGlyphs">≥20%</text>
<text x="779" y="116.2" fill="#ffffff" stroke="#ffffff" stroke-width="0.45" font-size="4.49" text-anchor="start" font-weight="bold" textLength="14" lengthAdjust="spacingAndGlyphs">A、B类夹套</text>
<text x="806" y="116.2" fill="#ffffff" stroke="#ffffff" stroke-width="0.45" font-size="5.63" text-anchor="start" font-weight="bold" textLength="7.5" lengthAdjust="spacingAndGlyphs">20%</text>
<text x="822.7" y="116.2" fill="#ffffff" stroke="#ffffff" stroke-width="0.45" font-size="4.49" text-anchor="start" font-weight="bold" textLength="9.3" lengthAdjust="spacingAndGlyphs">Ⅲ级</text>
<text x="843.2" y="116.2" fill="#ffffff" stroke="#ffffff" stroke-width="0.45" font-size="4.49" text-anchor="start" font-weight="bold" textLength="9" lengthAdjust="spacingAndGlyphs">≥20%</text>
<text x="779" y="123.9" fill="#ffffff" stroke="#ffffff" stroke-width="0.45" font-size="4.49" text-anchor="start" font-weight="bold" textLength="8.5" lengthAdjust="spacingAndGlyphs">角焊缝</text>
<text x="806" y="123.9" fill="#ffffff" stroke="#ffffff" stroke-width="0.45" font-size="5.63" text-anchor="start" font-weight="bold" textLength="7.5" lengthAdjust="spacingAndGlyphs">100%</text>
<text x="780" y="131.5" fill="#ffffff" stroke="#ffffff" stroke-width="0.45" font-size="4.49" text-anchor="start" font-weight="bold" textLength="14" lengthAdjust="spacingAndGlyphs">试验种类</text>
<text x="804" y="131.5" fill="#ffffff" stroke="#ffffff" stroke-width="0.45" font-size="4.49" text-anchor="start" font-weight="bold" textLength="8.5" lengthAdjust="spacingAndGlyphs">压力</text>
<text x="821" y="131.5" fill="#ffffff" stroke="#ffffff" stroke-width="0.45" font-size="4.49" text-anchor="start" font-weight="bold" textLength="9" lengthAdjust="spacingAndGlyphs">介质</text>
<text x="840" y="131.5" fill="#ffffff" stroke="#ffffff" stroke-width="0.45" font-size="4.49" text-anchor="start" font-weight="bold" textLength="9" lengthAdjust="spacingAndGlyphs">试验位置</text>
<text x="779" y="139.2" fill="#ffffff" stroke="#ffffff" stroke-width="0.45" font-size="4.49" text-anchor="start" font-weight="bold" textLength="4.7" lengthAdjust="spacingAndGlyphs">水压</text>
<text x="789.3" y="139.2" fill="#ffffff" stroke="#ffffff" stroke-width="0.45" font-size="4.49" text-anchor="start" font-weight="bold" textLength="6.5" lengthAdjust="spacingAndGlyphs">内筒</text>
<text x="804" y="139.2" fill="#ffffff" stroke="#ffffff" stroke-width="0.45" font-size="4.49" text-anchor="start" font-weight="bold" textLength="10" lengthAdjust="spacingAndGlyphs">盛水试漏</text>
<text x="822.7" y="139.2" fill="#ffffff" stroke="#ffffff" stroke-width="0.45" font-size="4.49" text-anchor="start" font-weight="bold" textLength="11" lengthAdjust="spacingAndGlyphs">常温清水</text>
<text x="843" y="139.2" fill="#ffffff" stroke="#ffffff" stroke-width="0.45" font-size="4.49" text-anchor="start" font-weight="bold" textLength="7.6" lengthAdjust="spacingAndGlyphs">卧式</text>
<text x="779" y="146.8" fill="#ffffff" stroke="#ffffff" stroke-width="0.45" font-size="4.49" text-anchor="start" font-weight="bold" textLength="4.7" lengthAdjust="spacingAndGlyphs">水压</text>
<text x="789.3" y="146.8" fill="#ffffff" stroke="#ffffff" stroke-width="0.45" font-size="4.49" text-anchor="start" font-weight="bold" textLength="6.5" lengthAdjust="spacingAndGlyphs">夹套</text>
<text x="804" y="146.8" fill="#ffffff" stroke="#ffffff" stroke-width="0.45" font-size="5.63" text-anchor="start" font-weight="bold" textLength="10" lengthAdjust="spacingAndGlyphs">0.375MPa</text>
<text x="822.7" y="146.8" fill="#ffffff" stroke="#ffffff" stroke-width="0.45" font-size="4.49" text-anchor="start" font-weight="bold" textLength="11" lengthAdjust="spacingAndGlyphs">常温清水</text>
<text x="843" y="146.8" fill="#ffffff" stroke="#ffffff" stroke-width="0.45" font-size="4.49" text-anchor="start" font-weight="bold" textLength="7.6" lengthAdjust="spacingAndGlyphs">卧式</text>
<text x="779" y="154.5" fill="#ffffff" stroke="#ffffff" stroke-width="0.45" font-size="4.49" text-anchor="start" font-weight="bold" textLength="3" lengthAdjust="spacingAndGlyphs">气密</text>
<text x="789.3" y="154.5" fill="#ffffff" stroke="#ffffff" stroke-width="0.45" font-size="4.49" text-anchor="start" font-weight="bold" textLength="6.5" lengthAdjust="spacingAndGlyphs">夹套</text>
<text x="804" y="154.5" fill="#ffffff" stroke="#ffffff" stroke-width="0.45" font-size="5.63" text-anchor="start" font-weight="bold" textLength="10" lengthAdjust="spacingAndGlyphs">0.30</text>
<text x="822.7" y="154.5" fill="#ffffff" stroke="#ffffff" stroke-width="0.45" font-size="4.49" text-anchor="start" font-weight="bold" textLength="11" lengthAdjust="spacingAndGlyphs">压缩空气</text>
<text x="843" y="154.5" fill="#ffffff" stroke="#ffffff" stroke-width="0.45" font-size="4.49" text-anchor="start" font-weight="bold" textLength="7.6" lengthAdjust="spacingAndGlyphs">卧式</text>
<text x="783.7" y="162.1" fill="#ffffff" stroke="#ffffff" stroke-width="0.45" font-size="5.63" text-anchor="start" font-weight="bold" textLength="1.5" lengthAdjust="spacingAndGlyphs">c</text>
<text x="789" y="162.1" fill="#ffffff" stroke="#ffffff" stroke-width="0.45" font-size="5.63" text-anchor="start" font-weight="bold" textLength="1.5" lengthAdjust="spacingAndGlyphs">d</text>
<text x="789.3" y="169.8" fill="#ffffff" stroke="#ffffff" stroke-width="0.45" font-size="4.49" text-anchor="start" font-weight="bold" textLength="9.3" lengthAdjust="spacingAndGlyphs">安全阀</text>
<text x="821.8" y="169.8" fill="#ffffff" stroke="#ffffff" stroke-width="0.45" font-size="4.49" text-anchor="start" font-weight="bold" textLength="7.4" lengthAdjust="spacingAndGlyphs">规格</text>
<text x="841.3" y="169.8" fill="#ffffff" stroke="#ffffff" stroke-width="0.45" font-size="4.49" text-anchor="start" font-weight="bold" textLength="6.5" lengthAdjust="spacingAndGlyphs">数量</text>
<text x="779" y="177.4" fill="#ffffff" stroke="#ffffff" stroke-width="0.45" font-size="4.49" text-anchor="start" font-weight="bold" textLength="13" lengthAdjust="spacingAndGlyphs">开启压力</text>
<text x="807" y="177.4" fill="#ffffff" stroke="#ffffff" stroke-width="0.45" font-size="5.63" text-anchor="start" font-weight="bold" textLength="6.4" lengthAdjust="spacingAndGlyphs">0.28</text>
<text x="844" y="177.4" fill="#ffffff" stroke="#ffffff" stroke-width="0.45" font-size="5.63" text-anchor="start" font-weight="bold" textLength="4.7" lengthAdjust="spacingAndGlyphs">DN20</text>
<text x="779" y="185.1" fill="#ffffff" stroke="#ffffff" stroke-width="0.45" font-size="4.49" text-anchor="start" font-weight="bold" textLength="13" lengthAdjust="spacingAndGlyphs">排放压力</text>
<text x="807" y="185.1" fill="#ffffff" stroke="#ffffff" stroke-width="0.45" font-size="5.63" text-anchor="start" font-weight="bold" textLength="6.4" lengthAdjust="spacingAndGlyphs">0.30</text>
<text x="771.2" y="62.3" fill="#ffffff" stroke="#ffffff" stroke-width="0.45" font-size="4.28" text-anchor="start" font-weight="bold" textLength="2" lengthAdjust="spacingAndGlyphs">制</text>
<text x="771.2" y="69.3" fill="#ffffff" stroke="#ffffff" stroke-width="0.45" font-size="4.28" text-anchor="start" font-weight="bold" textLength="2" lengthAdjust="spacingAndGlyphs">造</text>
<text x="771.2" y="76.3" fill="#ffffff" stroke="#ffffff" stroke-width="0.45" font-size="4.28" text-anchor="start" font-weight="bold" textLength="2" lengthAdjust="spacingAndGlyphs">检</text>
<text x="771.2" y="83.3" fill="#ffffff" stroke="#ffffff" stroke-width="0.45" font-size="4.28" text-anchor="start" font-weight="bold" textLength="2" lengthAdjust="spacingAndGlyphs">验</text>
<text x="771.2" y="97.3" fill="#ffffff" stroke="#ffffff" stroke-width="0.45" font-size="4.28" text-anchor="start" font-weight="bold" textLength="2" lengthAdjust="spacingAndGlyphs">无</text>
<text x="771.2" y="116.3" fill="#ffffff" stroke="#ffffff" stroke-width="0.45" font-size="4.28" text-anchor="start" font-weight="bold" textLength="2" lengthAdjust="spacingAndGlyphs">损</text>
<text x="771.2" y="136.3" fill="#ffffff" stroke="#ffffff" stroke-width="0.45" font-size="4.28" text-anchor="start" font-weight="bold" textLength="2" lengthAdjust="spacingAndGlyphs">压</text>
<text x="771.2" y="143.3" fill="#ffffff" stroke="#ffffff" stroke-width="0.45" font-size="4.28" text-anchor="start" font-weight="bold" textLength="2" lengthAdjust="spacingAndGlyphs">力</text>
<text x="771.2" y="150.3" fill="#ffffff" stroke="#ffffff" stroke-width="0.45" font-size="4.28" text-anchor="start" font-weight="bold" textLength="2" lengthAdjust="spacingAndGlyphs">试</text>
<text x="771.2" y="157.3" fill="#ffffff" stroke="#ffffff" stroke-width="0.45" font-size="4.28" text-anchor="start" font-weight="bold" textLength="2" lengthAdjust="spacingAndGlyphs">验</text>
<text x="771.2" y="170.3" fill="#ffffff" stroke="#ffffff" stroke-width="0.45" font-size="4.28" text-anchor="start" font-weight="bold" textLength="2" lengthAdjust="spacingAndGlyphs">安</text>
<text x="771.2" y="181.3" fill="#ffffff" stroke="#ffffff" stroke-width="0.45" font-size="4.28" text-anchor="start" font-weight="bold" textLength="2" lengthAdjust="spacingAndGlyphs">全</text>
<line x1="682.5" y1="186.5" x2="855.0" y2="186.5" stroke="#00ffff" stroke-width="1"/>
<text x="758.4" y="193.5" fill="#ffffff" stroke="#ffffff" stroke-width="0.45" font-size="4.69" text-anchor="start" font-weight="bold" textLength="21" lengthAdjust="spacingAndGlyphs">技 术 要 求</text>
<text x="687" y="199.5" fill="#ffffff" stroke="#ffffff" stroke-width="0.45" font-size="4.49" text-anchor="start" font-weight="bold" textLength="100.5" lengthAdjust="spacingAndGlyphs">1. 本设备按GB150-1998《钢制压力容器》进行制造、试验和验收,并接受《压力容器安全</text>
<text x="691" y="205.1" fill="#ffffff" stroke="#ffffff" stroke-width="0.45" font-size="4.49" text-anchor="start" font-weight="bold" textLength="42.5" lengthAdjust="spacingAndGlyphs">技术监察规程》的监督(夹套部分)。</text>
<text x="686.2" y="210.7" fill="#ffffff" stroke="#ffffff" stroke-width="0.45" font-size="4.49" text-anchor="start" font-weight="bold" textLength="109.5" lengthAdjust="spacingAndGlyphs">2. 焊接采用电弧焊,焊条牌号:不锈钢之间A102,碳钢之间J422,不锈钢与碳钢之间A302。</text>
<text x="691" y="216.3" fill="#ffffff" stroke="#ffffff" stroke-width="0.45" font-size="4.49" text-anchor="start" font-weight="bold" textLength="24" lengthAdjust="spacingAndGlyphs">焊缝表面须打磨光滑。</text>
<text x="686.2" y="221.5" fill="#ffffff" stroke="#ffffff" stroke-width="0.45" font-size="4.49" text-anchor="start" font-weight="bold" textLength="86.5" lengthAdjust="spacingAndGlyphs">3. 夹套、焊缝须按JB/T4730-2005进行无损检测并符合Ⅲ级为合格。</text>
<text x="686.2" y="227.0" fill="#ffffff" stroke="#ffffff" stroke-width="0.45" font-size="4.49" text-anchor="start" font-weight="bold" textLength="28" lengthAdjust="spacingAndGlyphs">4. 内筒须抛光处理。</text>
<text x="687" y="234.5" fill="#ffffff" stroke="#ffffff" stroke-width="0.45" font-size="4.49" text-anchor="start" font-weight="bold" textLength="44" lengthAdjust="spacingAndGlyphs">注 1. 0Cr18Ni9(δ=3mm)板。</text>
<text x="694.6" y="240.0" fill="#ffffff" stroke="#ffffff" stroke-width="0.45" font-size="4.49" text-anchor="start" font-weight="bold" textLength="36" lengthAdjust="spacingAndGlyphs">2. 未注焊缝高度为薄板厚度。</text>
<text x="694.6" y="245.6" fill="#ffffff" stroke="#ffffff" stroke-width="0.45" font-size="4.49" text-anchor="start" font-weight="bold" textLength="40" lengthAdjust="spacingAndGlyphs">3. 设备制造完毕后,须进行试运转。</text>
<text x="694.6" y="251.2" fill="#ffffff" stroke="#ffffff" stroke-width="0.45" font-size="4.49" text-anchor="start" font-weight="bold" textLength="72.5" lengthAdjust="spacingAndGlyphs">4. 夹套须以0.375MPa进行水压试验,合格后再以0.30MPa,</text>
<text x="700" y="256.8" fill="#ffffff" stroke="#ffffff" stroke-width="0.45" font-size="4.49" text-anchor="start" font-weight="bold" textLength="67" lengthAdjust="spacingAndGlyphs">压缩空气进行气密性试验,保压30分钟无泄漏为合格。</text>
<line x1="682.5" y1="259.5" x2="855.0" y2="259.5" stroke="#00ffff" stroke-width="1"/>
<line x1="682.5" y1="325.5" x2="855.0" y2="325.5" stroke="#00ffff" stroke-width="1"/>
<line x1="682.5" y1="259" x2="682.5" y2="326" stroke="#00ffff" stroke-width="1"/>
<line x1="682.5" y1="268.5" x2="854.5" y2="268.5" stroke="#ffffff" stroke-width="1"/>
<line x1="682.5" y1="280.5" x2="854.5" y2="280.5" stroke="#ffffff" stroke-width="1"/>
<line x1="682.5" y1="288.5" x2="854.5" y2="288.5" stroke="#ffffff" stroke-width="1"/>
<line x1="682.5" y1="295.5" x2="854.5" y2="295.5" stroke="#ffffff" stroke-width="1"/>
<line x1="682.5" y1="303.5" x2="854.5" y2="303.5" stroke="#ffffff" stroke-width="1"/>
<line x1="682.5" y1="311.5" x2="854.5" y2="311.5" stroke="#ffffff" stroke-width="1"/>
<line x1="682.5" y1="318.5" x2="854.5" y2="318.5" stroke="#ffffff" stroke-width="1"/>
<line x1="699.5" y1="268.4" x2="699.5" y2="325.5" stroke="#ffffff" stroke-width="1"/>
<line x1="725.5" y1="268.4" x2="725.5" y2="325.5" stroke="#ffffff" stroke-width="1"/>
<line x1="792.5" y1="268.4" x2="792.5" y2="325.5" stroke="#ffffff" stroke-width="1"/>
<line x1="812.5" y1="268.4" x2="812.5" y2="325.5" stroke="#ffffff" stroke-width="1"/>
<text x="758.6" y="266.3" fill="#ffffff" stroke="#ffffff" stroke-width="0.45" font-size="4.69" text-anchor="start" font-weight="bold" textLength="12.4" lengthAdjust="spacingAndGlyphs">管 口 表</text>
<text x="687.8" y="276.8" fill="#ffffff" stroke="#ffffff" stroke-width="0.45" font-size="4.49" text-anchor="start" font-weight="bold" textLength="4.5" lengthAdjust="spacingAndGlyphs">符号</text>
<text x="705.6" y="276.8" fill="#ffffff" stroke="#ffffff" stroke-width="0.45" font-size="4.49" text-anchor="start" font-weight="bold" textLength="9.5" lengthAdjust="spacingAndGlyphs">公称尺寸</text>
<text x="743.2" y="276.8" fill="#ffffff" stroke="#ffffff" stroke-width="0.45" font-size="4.49" text-anchor="start" font-weight="bold" textLength="29" lengthAdjust="spacingAndGlyphs">连 接 尺 寸 标 准</text>
<text x="797.9" y="273.1" fill="#ffffff" stroke="#ffffff" stroke-width="0.45" font-size="3.88" text-anchor="start" font-weight="bold" textLength="5" lengthAdjust="spacingAndGlyphs">连接</text>
<text x="797.9" y="278.9" fill="#ffffff" stroke="#ffffff" stroke-width="0.45" font-size="3.88" text-anchor="start" font-weight="bold" textLength="5" lengthAdjust="spacingAndGlyphs">面式</text>
<text x="820.8" y="276.8" fill="#ffffff" stroke="#ffffff" stroke-width="0.45" font-size="4.49" text-anchor="start" font-weight="bold" textLength="12" lengthAdjust="spacingAndGlyphs">用途或名称</text>
<text x="689.0" y="286.7" fill="#ffffff" stroke="#ffffff" stroke-width="0.45" font-size="5.63" text-anchor="start" font-weight="bold" textLength="2" lengthAdjust="spacingAndGlyphs">a</text>
<text x="709.5" y="286.7" fill="#ffffff" stroke="#ffffff" stroke-width="0.45" font-size="5.63" text-anchor="start" font-weight="bold" textLength="3.5" lengthAdjust="spacingAndGlyphs">50</text>
<text x="757.4" y="286.7" fill="#ffffff" stroke="#ffffff" stroke-width="0.45" font-size="5.63" text-anchor="start" font-weight="bold" textLength="8" lengthAdjust="spacingAndGlyphs">HG20592</text>
<text x="796.9" y="286.6" fill="#ffffff" stroke="#ffffff" stroke-width="0.45" font-size="4.49" text-anchor="start" font-weight="bold" textLength="7" lengthAdjust="spacingAndGlyphs">平面</text>
<text x="819" y="286.6" fill="#ffffff" stroke="#ffffff" stroke-width="0.45" font-size="4.49" text-anchor="start" font-weight="bold" textLength="10" lengthAdjust="spacingAndGlyphs">出料口</text>
<text x="689.0" y="294.3" fill="#ffffff" stroke="#ffffff" stroke-width="0.45" font-size="5.63" text-anchor="start" font-weight="bold" textLength="2" lengthAdjust="spacingAndGlyphs">b</text>
<text x="709.5" y="294.3" fill="#ffffff" stroke="#ffffff" stroke-width="0.45" font-size="5.63" text-anchor="start" font-weight="bold" textLength="3.5" lengthAdjust="spacingAndGlyphs">25</text>
<text x="757.4" y="294.3" fill="#ffffff" stroke="#ffffff" stroke-width="0.45" font-size="5.63" text-anchor="start" font-weight="bold" textLength="8" lengthAdjust="spacingAndGlyphs">G1"</text>
<text x="796.9" y="294.3" fill="#ffffff" stroke="#ffffff" stroke-width="0.45" font-size="4.49" text-anchor="start" font-weight="bold" textLength="7" lengthAdjust="spacingAndGlyphs">螺纹</text>
<text x="819" y="294.3" fill="#ffffff" stroke="#ffffff" stroke-width="0.45" font-size="4.49" text-anchor="start" font-weight="bold" textLength="8" lengthAdjust="spacingAndGlyphs">疏水口</text>
<text x="689.0" y="301.9" fill="#ffffff" stroke="#ffffff" stroke-width="0.45" font-size="5.63" text-anchor="start" font-weight="bold" textLength="2" lengthAdjust="spacingAndGlyphs">c</text>
<text x="709.5" y="301.9" fill="#ffffff" stroke="#ffffff" stroke-width="0.45" font-size="5.63" text-anchor="start" font-weight="bold" textLength="3.5" lengthAdjust="spacingAndGlyphs">15</text>
<text x="757.4" y="301.9" fill="#ffffff" stroke="#ffffff" stroke-width="0.45" font-size="5.63" text-anchor="start" font-weight="bold" textLength="8" lengthAdjust="spacingAndGlyphs">HG20592</text>
<text x="796.9" y="301.8" fill="#ffffff" stroke="#ffffff" stroke-width="0.45" font-size="4.49" text-anchor="start" font-weight="bold" textLength="7" lengthAdjust="spacingAndGlyphs">平面</text>
<text x="819" y="301.8" fill="#ffffff" stroke="#ffffff" stroke-width="0.45" font-size="4.49" text-anchor="start" font-weight="bold" textLength="10" lengthAdjust="spacingAndGlyphs">排污口</text>
<text x="689.0" y="309.5" fill="#ffffff" stroke="#ffffff" stroke-width="0.45" font-size="5.63" text-anchor="start" font-weight="bold" textLength="2" lengthAdjust="spacingAndGlyphs">d</text>
<text x="709.5" y="309.5" fill="#ffffff" stroke="#ffffff" stroke-width="0.45" font-size="5.63" text-anchor="start" font-weight="bold" textLength="3.5" lengthAdjust="spacingAndGlyphs">25</text>
<text x="757.4" y="309.5" fill="#ffffff" stroke="#ffffff" stroke-width="0.45" font-size="5.63" text-anchor="start" font-weight="bold" textLength="8" lengthAdjust="spacingAndGlyphs">HG20592</text>
<text x="796.9" y="309.5" fill="#ffffff" stroke="#ffffff" stroke-width="0.45" font-size="4.49" text-anchor="start" font-weight="bold" textLength="7" lengthAdjust="spacingAndGlyphs">螺纹</text>
<text x="819" y="309.5" fill="#ffffff" stroke="#ffffff" stroke-width="0.45" font-size="4.49" text-anchor="start" font-weight="bold" textLength="8" lengthAdjust="spacingAndGlyphs">压力表口</text>
<text x="689.0" y="317.2" fill="#ffffff" stroke="#ffffff" stroke-width="0.45" font-size="5.63" text-anchor="start" font-weight="bold" textLength="2" lengthAdjust="spacingAndGlyphs">e</text>
<text x="709.5" y="317.2" fill="#ffffff" stroke="#ffffff" stroke-width="0.45" font-size="5.63" text-anchor="start" font-weight="bold" textLength="3.5" lengthAdjust="spacingAndGlyphs">15</text>
<line x1="738" y1="316.5" x2="783" y2="311" stroke="#ffffff" stroke-width="1"/>
<line x1="797.5" y1="316" x2="808" y2="312.5" stroke="#ffffff" stroke-width="1"/>
<text x="819" y="317.1" fill="#ffffff" stroke="#ffffff" stroke-width="0.45" font-size="4.49" text-anchor="start" font-weight="bold" textLength="10" lengthAdjust="spacingAndGlyphs">进汽口</text>
<text x="689.0" y="324.4" fill="#ffffff" stroke="#ffffff" stroke-width="0.45" font-size="5.63" text-anchor="start" font-weight="bold" textLength="2" lengthAdjust="spacingAndGlyphs">f</text>
<text x="709.5" y="324.4" fill="#ffffff" stroke="#ffffff" stroke-width="0.45" font-size="5.63" text-anchor="start" font-weight="bold" textLength="3.5" lengthAdjust="spacingAndGlyphs">15</text>
<text x="757.4" y="324.4" fill="#ffffff" stroke="#ffffff" stroke-width="0.45" font-size="5.63" text-anchor="start" font-weight="bold" textLength="8" lengthAdjust="spacingAndGlyphs">HG20592</text>
<text x="796.9" y="324.4" fill="#ffffff" stroke="#ffffff" stroke-width="0.45" font-size="4.49" text-anchor="start" font-weight="bold" textLength="7" lengthAdjust="spacingAndGlyphs">螺纹</text>
<text x="819" y="324.4" fill="#ffffff" stroke="#ffffff" stroke-width="0.45" font-size="4.49" text-anchor="start" font-weight="bold" textLength="8" lengthAdjust="spacingAndGlyphs">安全阀口</text>
<line x1="682.5" y1="346.5" x2="854.5" y2="346.5" stroke="#ffffff" stroke-width="1"/>
<line x1="682.5" y1="354.5" x2="854.5" y2="354.5" stroke="#ffffff" stroke-width="1"/>
<line x1="682.5" y1="361.5" x2="854.5" y2="361.5" stroke="#ffffff" stroke-width="1"/>
<line x1="682.5" y1="369.5" x2="854.5" y2="369.5" stroke="#ffffff" stroke-width="1"/>
<line x1="682.5" y1="377.5" x2="854.5" y2="377.5" stroke="#ffffff" stroke-width="1"/>
<line x1="682.5" y1="384.5" x2="854.5" y2="384.5" stroke="#ffffff" stroke-width="1"/>
<line x1="682.5" y1="392.5" x2="854.5" y2="392.5" stroke="#ffffff" stroke-width="1"/>
<line x1="682.5" y1="400.5" x2="854.5" y2="400.5" stroke="#ffffff" stroke-width="1"/>
<line x1="682.5" y1="407.5" x2="854.5" y2="407.5" stroke="#ffffff" stroke-width="1"/>
<line x1="682.5" y1="415.5" x2="854.5" y2="415.5" stroke="#ffffff" stroke-width="1"/>
<line x1="682.5" y1="423.5" x2="854.5" y2="423.5" stroke="#ffffff" stroke-width="1"/>
<line x1="682.5" y1="430.5" x2="854.5" y2="430.5" stroke="#ffffff" stroke-width="1"/>
<line x1="682.5" y1="438.5" x2="854.5" y2="438.5" stroke="#ffffff" stroke-width="1"/>
<line x1="682.5" y1="445.5" x2="854.5" y2="445.5" stroke="#ffffff" stroke-width="1"/>
<line x1="682.5" y1="453.5" x2="854.5" y2="453.5" stroke="#ffffff" stroke-width="1"/>
<line x1="682.5" y1="461.5" x2="854.5" y2="461.5" stroke="#ffffff" stroke-width="1"/>
<line x1="682.5" y1="468.5" x2="854.5" y2="468.5" stroke="#ffffff" stroke-width="1"/>
<line x1="682.5" y1="476.5" x2="854.5" y2="476.5" stroke="#ffffff" stroke-width="1"/>
<line x1="682.5" y1="484.5" x2="854.5" y2="484.5" stroke="#ffffff" stroke-width="1"/>
<line x1="682.5" y1="491.5" x2="854.5" y2="491.5" stroke="#ffffff" stroke-width="1"/>
<line x1="682.5" y1="499.5" x2="854.5" y2="499.5" stroke="#ffffff" stroke-width="1"/>
<line x1="682.5" y1="507.5" x2="854.5" y2="507.5" stroke="#ffffff" stroke-width="1"/>
<line x1="692.5" y1="346.5" x2="692.5" y2="518.4" stroke="#ffffff" stroke-width="1"/>
<line x1="721.5" y1="346.5" x2="721.5" y2="518.4" stroke="#ffffff" stroke-width="1"/>
<line x1="768.5" y1="346.5" x2="768.5" y2="518.4" stroke="#ffffff" stroke-width="1"/>
<line x1="777.5" y1="346.5" x2="777.5" y2="518.4" stroke="#ffffff" stroke-width="1"/>
<line x1="811.5" y1="346.5" x2="811.5" y2="518.4" stroke="#ffffff" stroke-width="1"/>
<line x1="823.5" y1="346.5" x2="823.5" y2="518.4" stroke="#ffffff" stroke-width="1"/>
<line x1="835.5" y1="346.5" x2="835.5" y2="518.4" stroke="#ffffff" stroke-width="1"/>
<line x1="682.5" y1="346" x2="682.5" y2="566" stroke="#00ffff" stroke-width="1"/>
<text x="686.5" y="352.7" fill="#ffffff" stroke="#ffffff" stroke-width="0.45" font-size="5.63" text-anchor="start" font-weight="bold" textLength="3" lengthAdjust="spacingAndGlyphs">21</text>
<text x="725.2" y="352.7" fill="#ffffff" stroke="#ffffff" stroke-width="0.45" font-size="4.49" text-anchor="start" font-weight="bold" textLength="7.4" lengthAdjust="spacingAndGlyphs">视镜</text>
<text x="741.5" y="352.7" fill="#ffffff" stroke="#ffffff" stroke-width="0.45" font-size="5.63" text-anchor="start" font-weight="bold" textLength="8.4" lengthAdjust="spacingAndGlyphs">DN80</text>
<text x="772.1" y="352.7" fill="#ffffff" stroke="#ffffff" stroke-width="0.45" font-size="5.63" text-anchor="start" font-weight="bold" textLength="1.8" lengthAdjust="spacingAndGlyphs">2</text>
<text x="784.3" y="352.7" fill="#ffffff" stroke="#ffffff" stroke-width="0.45" font-size="5.63" text-anchor="start" font-weight="bold" textLength="12.5" lengthAdjust="spacingAndGlyphs">0Cr18Ni9</text>
<text x="827.2" y="352.7" fill="#ffffff" stroke="#ffffff" stroke-width="0.45" font-size="5.63" text-anchor="start" font-weight="bold" textLength="4" lengthAdjust="spacingAndGlyphs">4.2</text>
<text x="686.5" y="360.4" fill="#ffffff" stroke="#ffffff" stroke-width="0.45" font-size="5.63" text-anchor="start" font-weight="bold" textLength="3" lengthAdjust="spacingAndGlyphs">20</text>
<text x="725.2" y="360.4" fill="#ffffff" stroke="#ffffff" stroke-width="0.45" font-size="4.49" text-anchor="start" font-weight="bold" textLength="10.6" lengthAdjust="spacingAndGlyphs">安全阀</text>
<text x="741.5" y="360.4" fill="#ffffff" stroke="#ffffff" stroke-width="0.45" font-size="5.63" text-anchor="start" font-weight="bold" textLength="25" lengthAdjust="spacingAndGlyphs">A27W-10T DN20</text>
<text x="772.1" y="360.4" fill="#ffffff" stroke="#ffffff" stroke-width="0.45" font-size="5.63" text-anchor="start" font-weight="bold" textLength="1.8" lengthAdjust="spacingAndGlyphs">1</text>
<text x="784.3" y="360.4" fill="#ffffff" stroke="#ffffff" stroke-width="0.45" font-size="4.49" text-anchor="start" font-weight="bold" textLength="7.1" lengthAdjust="spacingAndGlyphs">组合件</text>
<text x="827.2" y="360.4" fill="#ffffff" stroke="#ffffff" stroke-width="0.45" font-size="5.63" text-anchor="start" font-weight="bold" textLength="4" lengthAdjust="spacingAndGlyphs">2.5</text>
<text x="686.5" y="368.0" fill="#ffffff" stroke="#ffffff" stroke-width="0.45" font-size="5.63" text-anchor="start" font-weight="bold" textLength="3" lengthAdjust="spacingAndGlyphs">19</text>
<text x="725.2" y="368.0" fill="#ffffff" stroke="#ffffff" stroke-width="0.45" font-size="4.49" text-anchor="start" font-weight="bold" textLength="10.6" lengthAdjust="spacingAndGlyphs">压力表</text>
<text x="741.5" y="368.0" fill="#ffffff" stroke="#ffffff" stroke-width="0.45" font-size="5.63" text-anchor="start" font-weight="bold" textLength="10.5" lengthAdjust="spacingAndGlyphs">Y-100</text>
<text x="772.1" y="368.0" fill="#ffffff" stroke="#ffffff" stroke-width="0.45" font-size="5.63" text-anchor="start" font-weight="bold" textLength="1.8" lengthAdjust="spacingAndGlyphs">1</text>
<line x1="784" y1="368.125" x2="806.5" y2="363.125" stroke="#ffffff" stroke-width="1"/>
<line x1="825.5" y1="368.125" x2="834" y2="363.125" stroke="#ffffff" stroke-width="1"/>
<text x="837.6" y="368.0" fill="#ffffff" stroke="#ffffff" stroke-width="0.45" font-size="4.49" text-anchor="start" font-weight="bold" textLength="4" lengthAdjust="spacingAndGlyphs">外购</text>
<text x="686.5" y="375.7" fill="#ffffff" stroke="#ffffff" stroke-width="0.45" font-size="5.63" text-anchor="start" font-weight="bold" textLength="3" lengthAdjust="spacingAndGlyphs">18</text>
<text x="725.2" y="375.7" fill="#ffffff" stroke="#ffffff" stroke-width="0.45" font-size="4.49" text-anchor="start" font-weight="bold" textLength="7.4" lengthAdjust="spacingAndGlyphs">螺栓</text>
<text x="741.5" y="375.7" fill="#ffffff" stroke="#ffffff" stroke-width="0.45" font-size="5.63" text-anchor="start" font-weight="bold" textLength="6.3" lengthAdjust="spacingAndGlyphs">M12</text>
<text x="772.1" y="375.7" fill="#ffffff" stroke="#ffffff" stroke-width="0.45" font-size="5.63" text-anchor="start" font-weight="bold" textLength="1.8" lengthAdjust="spacingAndGlyphs">2</text>
<text x="784.3" y="375.7" fill="#ffffff" stroke="#ffffff" stroke-width="0.45" font-size="5.63" text-anchor="start" font-weight="bold" textLength="12.2" lengthAdjust="spacingAndGlyphs">Q235-A</text>
<text x="827.2" y="375.7" fill="#ffffff" stroke="#ffffff" stroke-width="0.45" font-size="5.63" text-anchor="start" font-weight="bold" textLength="4" lengthAdjust="spacingAndGlyphs">0.3</text>
<text x="686.5" y="383.3" fill="#ffffff" stroke="#ffffff" stroke-width="0.45" font-size="5.63" text-anchor="start" font-weight="bold" textLength="3" lengthAdjust="spacingAndGlyphs">17</text>
<text x="725.2" y="383.3" fill="#ffffff" stroke="#ffffff" stroke-width="0.45" font-size="4.49" text-anchor="start" font-weight="bold" textLength="4.2" lengthAdjust="spacingAndGlyphs">管</text>
<text x="741.5" y="383.3" fill="#ffffff" stroke="#ffffff" stroke-width="0.45" font-size="5.63" text-anchor="start" font-weight="bold" textLength="23.1" lengthAdjust="spacingAndGlyphs">Φ32×3 L=120</text>
<text x="772.1" y="383.3" fill="#ffffff" stroke="#ffffff" stroke-width="0.45" font-size="5.63" text-anchor="start" font-weight="bold" textLength="1.8" lengthAdjust="spacingAndGlyphs">1</text>
<text x="784.3" y="383.3" fill="#ffffff" stroke="#ffffff" stroke-width="0.45" font-size="5.63" text-anchor="start" font-weight="bold" textLength="12.5" lengthAdjust="spacingAndGlyphs">0Cr18Ni9</text>
<text x="827.2" y="383.3" fill="#ffffff" stroke="#ffffff" stroke-width="0.45" font-size="5.63" text-anchor="start" font-weight="bold" textLength="4" lengthAdjust="spacingAndGlyphs">0.8</text>
<text x="678.5" y="382.925" fill="#ffffff" stroke="#ffffff" stroke-width="0.45" font-size="4.5" text-anchor="middle" font-weight="bold">Δ</text>
<text x="686.5" y="391.0" fill="#ffffff" stroke="#ffffff" stroke-width="0.45" font-size="5.63" text-anchor="start" font-weight="bold" textLength="3" lengthAdjust="spacingAndGlyphs">16</text>
<text x="725.2" y="391.0" fill="#ffffff" stroke="#ffffff" stroke-width="0.45" font-size="4.49" text-anchor="start" font-weight="bold" textLength="4.2" lengthAdjust="spacingAndGlyphs">管</text>
<text x="741.5" y="391.0" fill="#ffffff" stroke="#ffffff" stroke-width="0.45" font-size="5.63" text-anchor="start" font-weight="bold" textLength="23.1" lengthAdjust="spacingAndGlyphs">Φ25×3 L=100</text>
<text x="772.1" y="391.0" fill="#ffffff" stroke="#ffffff" stroke-width="0.45" font-size="5.63" text-anchor="start" font-weight="bold" textLength="1.8" lengthAdjust="spacingAndGlyphs">1</text>
<text x="784.3" y="391.0" fill="#ffffff" stroke="#ffffff" stroke-width="0.45" font-size="5.63" text-anchor="start" font-weight="bold" textLength="12.5" lengthAdjust="spacingAndGlyphs">0Cr18Ni9</text>
<text x="827.2" y="391.0" fill="#ffffff" stroke="#ffffff" stroke-width="0.45" font-size="5.63" text-anchor="start" font-weight="bold" textLength="4" lengthAdjust="spacingAndGlyphs">0.5</text>
<text x="678.5" y="390.575" fill="#ffffff" stroke="#ffffff" stroke-width="0.45" font-size="4.5" text-anchor="middle" font-weight="bold">Δ</text>
<text x="686.5" y="398.6" fill="#ffffff" stroke="#ffffff" stroke-width="0.45" font-size="5.63" text-anchor="start" font-weight="bold" textLength="3" lengthAdjust="spacingAndGlyphs">15</text>
<text x="694.6" y="398.6" fill="#ffffff" stroke="#ffffff" stroke-width="0.45" font-size="5.63" text-anchor="start" font-weight="bold" textLength="19.5" lengthAdjust="spacingAndGlyphs">ZJCG500A-07</text>
<text x="725.2" y="398.6" fill="#ffffff" stroke="#ffffff" stroke-width="0.45" font-size="4.49" text-anchor="start" font-weight="bold" textLength="7.4" lengthAdjust="spacingAndGlyphs">支座</text>
<text x="772.1" y="398.6" fill="#ffffff" stroke="#ffffff" stroke-width="0.45" font-size="5.63" text-anchor="start" font-weight="bold" textLength="1.8" lengthAdjust="spacingAndGlyphs">2</text>
<text x="784.3" y="398.6" fill="#ffffff" stroke="#ffffff" stroke-width="0.45" font-size="5.63" text-anchor="start" font-weight="bold" textLength="10.5" lengthAdjust="spacingAndGlyphs">HT200</text>
<text x="815.5" y="398.6" fill="#ffffff" stroke="#ffffff" stroke-width="0.45" font-size="5.63" text-anchor="start" font-weight="bold" textLength="3.5" lengthAdjust="spacingAndGlyphs">14</text>
<text x="827.2" y="398.6" fill="#ffffff" stroke="#ffffff" stroke-width="0.45" font-size="5.63" text-anchor="start" font-weight="bold" textLength="4" lengthAdjust="spacingAndGlyphs">28</text>
<text x="686.5" y="406.3" fill="#ffffff" stroke="#ffffff" stroke-width="0.45" font-size="5.63" text-anchor="start" font-weight="bold" textLength="3" lengthAdjust="spacingAndGlyphs">14</text>
<text x="694.6" y="406.3" fill="#ffffff" stroke="#ffffff" stroke-width="0.45" font-size="5.63" text-anchor="start" font-weight="bold" textLength="19.5" lengthAdjust="spacingAndGlyphs">ZJCG500A-06</text>
<text x="725.2" y="406.3" fill="#ffffff" stroke="#ffffff" stroke-width="0.45" font-size="4.49" text-anchor="start" font-weight="bold" textLength="10.6" lengthAdjust="spacingAndGlyphs">轴承座</text>
<text x="772.1" y="406.3" fill="#ffffff" stroke="#ffffff" stroke-width="0.45" font-size="5.63" text-anchor="start" font-weight="bold" textLength="1.8" lengthAdjust="spacingAndGlyphs">1</text>
<text x="784.3" y="406.3" fill="#ffffff" stroke="#ffffff" stroke-width="0.45" font-size="4.49" text-anchor="start" font-weight="bold" textLength="3.7" lengthAdjust="spacingAndGlyphs">铸</text>
<text x="827.2" y="406.3" fill="#ffffff" stroke="#ffffff" stroke-width="0.45" font-size="5.63" text-anchor="start" font-weight="bold" textLength="4" lengthAdjust="spacingAndGlyphs">18.5</text>
<text x="686.5" y="413.9" fill="#ffffff" stroke="#ffffff" stroke-width="0.45" font-size="5.63" text-anchor="start" font-weight="bold" textLength="3" lengthAdjust="spacingAndGlyphs">13</text>
<text x="694.6" y="413.9" fill="#ffffff" stroke="#ffffff" stroke-width="0.45" font-size="5.63" text-anchor="start" font-weight="bold" textLength="19.5" lengthAdjust="spacingAndGlyphs">ZJCG500A-05</text>
<text x="725.2" y="413.9" fill="#ffffff" stroke="#ffffff" stroke-width="0.45" font-size="4.49" text-anchor="start" font-weight="bold" textLength="10.6" lengthAdjust="spacingAndGlyphs">蜗轮箱</text>
<text x="772.1" y="413.9" fill="#ffffff" stroke="#ffffff" stroke-width="0.45" font-size="5.63" text-anchor="start" font-weight="bold" textLength="1.8" lengthAdjust="spacingAndGlyphs">2</text>
<text x="784.3" y="413.9" fill="#ffffff" stroke="#ffffff" stroke-width="0.45" font-size="4.49" text-anchor="start" font-weight="bold" textLength="5.4" lengthAdjust="spacingAndGlyphs">组合</text>
<text x="815.5" y="413.9" fill="#ffffff" stroke="#ffffff" stroke-width="0.45" font-size="5.63" text-anchor="start" font-weight="bold" textLength="3.5" lengthAdjust="spacingAndGlyphs">8</text>
<text x="827.2" y="413.9" fill="#ffffff" stroke="#ffffff" stroke-width="0.45" font-size="5.63" text-anchor="start" font-weight="bold" textLength="4" lengthAdjust="spacingAndGlyphs">16</text>
<text x="686.5" y="421.6" fill="#ffffff" stroke="#ffffff" stroke-width="0.45" font-size="5.63" text-anchor="start" font-weight="bold" textLength="3" lengthAdjust="spacingAndGlyphs">12</text>
<text x="694.6" y="421.6" fill="#ffffff" stroke="#ffffff" stroke-width="0.45" font-size="5.63" text-anchor="start" font-weight="bold" textLength="19.5" lengthAdjust="spacingAndGlyphs">ZJCG500A-04</text>
<text x="725.2" y="421.6" fill="#ffffff" stroke="#ffffff" stroke-width="0.45" font-size="4.49" text-anchor="start" font-weight="bold" textLength="11" lengthAdjust="spacingAndGlyphs">手轮组件</text>
<text x="772.1" y="421.6" fill="#ffffff" stroke="#ffffff" stroke-width="0.45" font-size="5.63" text-anchor="start" font-weight="bold" textLength="1.8" lengthAdjust="spacingAndGlyphs">2</text>
<text x="784.3" y="421.6" fill="#ffffff" stroke="#ffffff" stroke-width="0.45" font-size="5.63" text-anchor="start" font-weight="bold" textLength="10.5" lengthAdjust="spacingAndGlyphs">HT200</text>
<text x="815.5" y="421.6" fill="#ffffff" stroke="#ffffff" stroke-width="0.45" font-size="5.63" text-anchor="start" font-weight="bold" textLength="3.5" lengthAdjust="spacingAndGlyphs">3</text>
<text x="828.2" y="421.6" fill="#ffffff" stroke="#ffffff" stroke-width="0.45" font-size="5.63" text-anchor="start" font-weight="bold" textLength="2" lengthAdjust="spacingAndGlyphs">6</text>
<text x="686.5" y="429.2" fill="#ffffff" stroke="#ffffff" stroke-width="0.45" font-size="5.63" text-anchor="start" font-weight="bold" textLength="3" lengthAdjust="spacingAndGlyphs">11</text>
<text x="694.6" y="429.2" fill="#ffffff" stroke="#ffffff" stroke-width="0.45" font-size="5.63" text-anchor="start" font-weight="bold" textLength="19.5" lengthAdjust="spacingAndGlyphs">ZJCG500A-03</text>
<text x="725.2" y="429.2" fill="#ffffff" stroke="#ffffff" stroke-width="0.45" font-size="4.49" text-anchor="start" font-weight="bold" textLength="7.4" lengthAdjust="spacingAndGlyphs">锅盖</text>
<text x="772.1" y="429.2" fill="#ffffff" stroke="#ffffff" stroke-width="0.45" font-size="5.63" text-anchor="start" font-weight="bold" textLength="1.8" lengthAdjust="spacingAndGlyphs">1</text>
<text x="784.3" y="429.2" fill="#ffffff" stroke="#ffffff" stroke-width="0.45" font-size="5.63" text-anchor="start" font-weight="bold" textLength="12.5" lengthAdjust="spacingAndGlyphs">0Cr18Ni9</text>
<text x="827.2" y="429.2" fill="#ffffff" stroke="#ffffff" stroke-width="0.45" font-size="5.63" text-anchor="start" font-weight="bold" textLength="4" lengthAdjust="spacingAndGlyphs">32</text>
<text x="686.5" y="436.9" fill="#ffffff" stroke="#ffffff" stroke-width="0.45" font-size="5.63" text-anchor="start" font-weight="bold" textLength="3" lengthAdjust="spacingAndGlyphs">10</text>
<text x="694.6" y="436.9" fill="#ffffff" stroke="#ffffff" stroke-width="0.45" font-size="5.63" text-anchor="start" font-weight="bold" textLength="19.5" lengthAdjust="spacingAndGlyphs">ZJCG500A-02</text>
<text x="725.2" y="436.9" fill="#ffffff" stroke="#ffffff" stroke-width="0.45" font-size="4.49" text-anchor="start" font-weight="bold" textLength="11" lengthAdjust="spacingAndGlyphs">搅拌器架</text>
<text x="772.1" y="436.9" fill="#ffffff" stroke="#ffffff" stroke-width="0.45" font-size="5.63" text-anchor="start" font-weight="bold" textLength="1.8" lengthAdjust="spacingAndGlyphs">1</text>
<text x="784.3" y="436.9" fill="#ffffff" stroke="#ffffff" stroke-width="0.45" font-size="5.63" text-anchor="start" font-weight="bold" textLength="12.5" lengthAdjust="spacingAndGlyphs">0Cr18Ni9</text>
<text x="828.2" y="436.9" fill="#ffffff" stroke="#ffffff" stroke-width="0.45" font-size="5.63" text-anchor="start" font-weight="bold" textLength="2" lengthAdjust="spacingAndGlyphs">9</text>
<text x="687.0" y="444.5" fill="#ffffff" stroke="#ffffff" stroke-width="0.45" font-size="5.63" text-anchor="start" font-weight="bold" textLength="2" lengthAdjust="spacingAndGlyphs">9</text>
<text x="725.2" y="444.5" fill="#ffffff" stroke="#ffffff" stroke-width="0.45" font-size="4.49" text-anchor="start" font-weight="bold" textLength="11" lengthAdjust="spacingAndGlyphs">出料管组</text>
<text x="772.1" y="444.5" fill="#ffffff" stroke="#ffffff" stroke-width="0.45" font-size="5.63" text-anchor="start" font-weight="bold" textLength="1.8" lengthAdjust="spacingAndGlyphs">2</text>
<text x="784.3" y="444.5" fill="#ffffff" stroke="#ffffff" stroke-width="0.45" font-size="5.63" text-anchor="start" font-weight="bold" textLength="12.5" lengthAdjust="spacingAndGlyphs">0Cr18Ni9</text>
<text x="828.2" y="444.5" fill="#ffffff" stroke="#ffffff" stroke-width="0.45" font-size="5.63" text-anchor="start" font-weight="bold" textLength="2" lengthAdjust="spacingAndGlyphs">3</text>
<text x="687.0" y="452.2" fill="#ffffff" stroke="#ffffff" stroke-width="0.45" font-size="5.63" text-anchor="start" font-weight="bold" textLength="2" lengthAdjust="spacingAndGlyphs">8</text>
<text x="725.2" y="452.2" fill="#ffffff" stroke="#ffffff" stroke-width="0.45" font-size="4.49" text-anchor="start" font-weight="bold" textLength="7.4" lengthAdjust="spacingAndGlyphs">球阀</text>
<text x="741.5" y="452.2" fill="#ffffff" stroke="#ffffff" stroke-width="0.45" font-size="5.63" text-anchor="start" font-weight="bold" textLength="25" lengthAdjust="spacingAndGlyphs">Q11F-16P DN50</text>
<text x="772.1" y="452.2" fill="#ffffff" stroke="#ffffff" stroke-width="0.45" font-size="5.63" text-anchor="start" font-weight="bold" textLength="1.8" lengthAdjust="spacingAndGlyphs">1</text>
<text x="784.3" y="452.2" fill="#ffffff" stroke="#ffffff" stroke-width="0.45" font-size="4.49" text-anchor="start" font-weight="bold" textLength="5.4" lengthAdjust="spacingAndGlyphs">组件</text>
<line x1="825.5" y1="452.275" x2="834" y2="447.275" stroke="#ffffff" stroke-width="1"/>
<text x="837.6" y="452.2" fill="#ffffff" stroke="#ffffff" stroke-width="0.45" font-size="4.49" text-anchor="start" font-weight="bold" textLength="4" lengthAdjust="spacingAndGlyphs">外购</text>
<text x="687.0" y="459.8" fill="#ffffff" stroke="#ffffff" stroke-width="0.45" font-size="5.63" text-anchor="start" font-weight="bold" textLength="2" lengthAdjust="spacingAndGlyphs">7</text>
<text x="725.2" y="459.8" fill="#ffffff" stroke="#ffffff" stroke-width="0.45" font-size="4.49" text-anchor="start" font-weight="bold" textLength="7.4" lengthAdjust="spacingAndGlyphs">垫片</text>
<text x="741.5" y="459.8" fill="#ffffff" stroke="#ffffff" stroke-width="0.45" font-size="5.63" text-anchor="start" font-weight="bold" textLength="6.3" lengthAdjust="spacingAndGlyphs">δ=3</text>
<text x="772.1" y="459.8" fill="#ffffff" stroke="#ffffff" stroke-width="0.45" font-size="5.63" text-anchor="start" font-weight="bold" textLength="1.8" lengthAdjust="spacingAndGlyphs">2</text>
<text x="784.3" y="459.8" fill="#ffffff" stroke="#ffffff" stroke-width="0.45" font-size="4.49" text-anchor="start" font-weight="bold" textLength="5.4" lengthAdjust="spacingAndGlyphs">橡胶</text>
<text x="827.2" y="459.8" fill="#ffffff" stroke="#ffffff" stroke-width="0.45" font-size="5.63" text-anchor="start" font-weight="bold" textLength="4" lengthAdjust="spacingAndGlyphs">0.2</text>
<text x="687.0" y="467.5" fill="#ffffff" stroke="#ffffff" stroke-width="0.45" font-size="5.63" text-anchor="start" font-weight="bold" textLength="2" lengthAdjust="spacingAndGlyphs">6</text>
<text x="694.6" y="467.5" fill="#ffffff" stroke="#ffffff" stroke-width="0.45" font-size="5.63" text-anchor="start" font-weight="bold" textLength="19.5" lengthAdjust="spacingAndGlyphs">JB/T4736-2002</text>
<text x="725.2" y="467.5" fill="#ffffff" stroke="#ffffff" stroke-width="0.45" font-size="4.49" text-anchor="start" font-weight="bold" textLength="10.6" lengthAdjust="spacingAndGlyphs">补强圈</text>
<text x="741.5" y="467.5" fill="#ffffff" stroke="#ffffff" stroke-width="0.45" font-size="5.63" text-anchor="start" font-weight="bold" textLength="12.6" lengthAdjust="spacingAndGlyphs">dN50×4</text>
<text x="772.1" y="467.5" fill="#ffffff" stroke="#ffffff" stroke-width="0.45" font-size="5.63" text-anchor="start" font-weight="bold" textLength="1.8" lengthAdjust="spacingAndGlyphs">1</text>
<text x="784.3" y="467.5" fill="#ffffff" stroke="#ffffff" stroke-width="0.45" font-size="5.63" text-anchor="start" font-weight="bold" textLength="12.5" lengthAdjust="spacingAndGlyphs">0Cr18Ni9</text>
<text x="827.2" y="467.5" fill="#ffffff" stroke="#ffffff" stroke-width="0.45" font-size="5.63" text-anchor="start" font-weight="bold" textLength="4" lengthAdjust="spacingAndGlyphs">1.2</text>
<text x="678.5" y="467.075" fill="#ffffff" stroke="#ffffff" stroke-width="0.45" font-size="4.5" text-anchor="middle" font-weight="bold">Δ</text>
<text x="687.0" y="475.1" fill="#ffffff" stroke="#ffffff" stroke-width="0.45" font-size="5.63" text-anchor="start" font-weight="bold" textLength="2" lengthAdjust="spacingAndGlyphs">5</text>
<text x="694.6" y="475.1" fill="#ffffff" stroke="#ffffff" stroke-width="0.45" font-size="5.63" text-anchor="start" font-weight="bold" textLength="19.5" lengthAdjust="spacingAndGlyphs">JB/T4736-2002</text>
<text x="725.2" y="475.1" fill="#ffffff" stroke="#ffffff" stroke-width="0.45" font-size="4.49" text-anchor="start" font-weight="bold" textLength="10.6" lengthAdjust="spacingAndGlyphs">补强圈</text>
<text x="741.5" y="475.1" fill="#ffffff" stroke="#ffffff" stroke-width="0.45" font-size="5.63" text-anchor="start" font-weight="bold" textLength="12.6" lengthAdjust="spacingAndGlyphs">dN25×4</text>
<text x="772.1" y="475.1" fill="#ffffff" stroke="#ffffff" stroke-width="0.45" font-size="5.63" text-anchor="start" font-weight="bold" textLength="1.8" lengthAdjust="spacingAndGlyphs">1</text>
<text x="784.3" y="475.1" fill="#ffffff" stroke="#ffffff" stroke-width="0.45" font-size="5.63" text-anchor="start" font-weight="bold" textLength="12.2" lengthAdjust="spacingAndGlyphs">Q235-B</text>
<text x="827.2" y="475.1" fill="#ffffff" stroke="#ffffff" stroke-width="0.45" font-size="5.63" text-anchor="start" font-weight="bold" textLength="4" lengthAdjust="spacingAndGlyphs">0.7</text>
<text x="678.5" y="474.725" fill="#ffffff" stroke="#ffffff" stroke-width="0.45" font-size="4.5" text-anchor="middle" font-weight="bold">Δ</text>
<text x="687.0" y="482.8" fill="#ffffff" stroke="#ffffff" stroke-width="0.45" font-size="5.63" text-anchor="start" font-weight="bold" textLength="2" lengthAdjust="spacingAndGlyphs">4</text>
<text x="694.6" y="482.8" fill="#ffffff" stroke="#ffffff" stroke-width="0.45" font-size="5.63" text-anchor="start" font-weight="bold" textLength="12" lengthAdjust="spacingAndGlyphs">GB/T-25</text>
<text x="725.2" y="482.8" fill="#ffffff" stroke="#ffffff" stroke-width="0.45" font-size="4.49" text-anchor="start" font-weight="bold" textLength="11" lengthAdjust="spacingAndGlyphs">椭圆封头</text>
<text x="741.5" y="482.8" fill="#ffffff" stroke="#ffffff" stroke-width="0.45" font-size="5.63" text-anchor="start" font-weight="bold" textLength="16.8" lengthAdjust="spacingAndGlyphs">DN1000×4</text>
<text x="772.1" y="482.8" fill="#ffffff" stroke="#ffffff" stroke-width="0.45" font-size="5.63" text-anchor="start" font-weight="bold" textLength="1.8" lengthAdjust="spacingAndGlyphs">2</text>
<text x="784.3" y="482.8" fill="#ffffff" stroke="#ffffff" stroke-width="0.45" font-size="5.63" text-anchor="start" font-weight="bold" textLength="12.5" lengthAdjust="spacingAndGlyphs">0Cr18Ni9</text>
<text x="827.2" y="482.8" fill="#ffffff" stroke="#ffffff" stroke-width="0.45" font-size="5.63" text-anchor="start" font-weight="bold" textLength="4" lengthAdjust="spacingAndGlyphs">48</text>
<text x="687.0" y="490.4" fill="#ffffff" stroke="#ffffff" stroke-width="0.45" font-size="5.63" text-anchor="start" font-weight="bold" textLength="2" lengthAdjust="spacingAndGlyphs">3</text>
<text x="694.6" y="490.4" fill="#ffffff" stroke="#ffffff" stroke-width="0.45" font-size="5.63" text-anchor="start" font-weight="bold" textLength="12" lengthAdjust="spacingAndGlyphs">GB/T-25</text>
<text x="725.2" y="490.4" fill="#ffffff" stroke="#ffffff" stroke-width="0.45" font-size="4.49" text-anchor="start" font-weight="bold" textLength="11" lengthAdjust="spacingAndGlyphs">椭圆封头</text>
<text x="741.5" y="490.4" fill="#ffffff" stroke="#ffffff" stroke-width="0.45" font-size="5.63" text-anchor="start" font-weight="bold" textLength="14.7" lengthAdjust="spacingAndGlyphs">DN900×3</text>
<text x="772.1" y="490.4" fill="#ffffff" stroke="#ffffff" stroke-width="0.45" font-size="5.63" text-anchor="start" font-weight="bold" textLength="1.8" lengthAdjust="spacingAndGlyphs">1</text>
<text x="784.3" y="490.4" fill="#ffffff" stroke="#ffffff" stroke-width="0.45" font-size="5.63" text-anchor="start" font-weight="bold" textLength="12.5" lengthAdjust="spacingAndGlyphs">0Cr18Ni9</text>
<text x="827.2" y="490.4" fill="#ffffff" stroke="#ffffff" stroke-width="0.45" font-size="5.63" text-anchor="start" font-weight="bold" textLength="4" lengthAdjust="spacingAndGlyphs">35</text>
<text x="687.0" y="498.1" fill="#ffffff" stroke="#ffffff" stroke-width="0.45" font-size="5.63" text-anchor="start" font-weight="bold" textLength="2" lengthAdjust="spacingAndGlyphs">2</text>
<text x="694.6" y="498.1" fill="#ffffff" stroke="#ffffff" stroke-width="0.45" font-size="5.63" text-anchor="start" font-weight="bold" textLength="12" lengthAdjust="spacingAndGlyphs">GB/T-25</text>
<text x="725.2" y="498.1" fill="#ffffff" stroke="#ffffff" stroke-width="0.45" font-size="4.49" text-anchor="start" font-weight="bold" textLength="11" lengthAdjust="spacingAndGlyphs">椭圆封头</text>
<text x="741.5" y="498.1" fill="#ffffff" stroke="#ffffff" stroke-width="0.45" font-size="5.63" text-anchor="start" font-weight="bold" textLength="14.7" lengthAdjust="spacingAndGlyphs">DN900×3</text>
<text x="772.1" y="498.1" fill="#ffffff" stroke="#ffffff" stroke-width="0.45" font-size="5.63" text-anchor="start" font-weight="bold" textLength="1.8" lengthAdjust="spacingAndGlyphs">1</text>
<text x="784.3" y="498.1" fill="#ffffff" stroke="#ffffff" stroke-width="0.45" font-size="5.63" text-anchor="start" font-weight="bold" textLength="12.5" lengthAdjust="spacingAndGlyphs">0Cr18Ni9</text>
<text x="828.2" y="498.1" fill="#ffffff" stroke="#ffffff" stroke-width="0.45" font-size="5.63" text-anchor="start" font-weight="bold" textLength="2" lengthAdjust="spacingAndGlyphs">3</text>
<text x="687.0" y="505.7" fill="#ffffff" stroke="#ffffff" stroke-width="0.45" font-size="5.63" text-anchor="start" font-weight="bold" textLength="2" lengthAdjust="spacingAndGlyphs">1</text>
<text x="694.6" y="505.7" fill="#ffffff" stroke="#ffffff" stroke-width="0.45" font-size="5.63" text-anchor="start" font-weight="bold" textLength="19.5" lengthAdjust="spacingAndGlyphs">ZJCG500A-01</text>
<text x="725.2" y="505.7" fill="#ffffff" stroke="#ffffff" stroke-width="0.45" font-size="4.49" text-anchor="start" font-weight="bold" textLength="7.4" lengthAdjust="spacingAndGlyphs">支架</text>
<text x="772.1" y="505.7" fill="#ffffff" stroke="#ffffff" stroke-width="0.45" font-size="5.63" text-anchor="start" font-weight="bold" textLength="1.8" lengthAdjust="spacingAndGlyphs">2</text>
<text x="784.3" y="505.7" fill="#ffffff" stroke="#ffffff" stroke-width="0.45" font-size="5.63" text-anchor="start" font-weight="bold" textLength="12.5" lengthAdjust="spacingAndGlyphs">Q235-A.F</text>
<text x="815.5" y="505.7" fill="#ffffff" stroke="#ffffff" stroke-width="0.45" font-size="5.63" text-anchor="start" font-weight="bold" textLength="3.5" lengthAdjust="spacingAndGlyphs">62</text>
<text x="827.2" y="505.7" fill="#ffffff" stroke="#ffffff" stroke-width="0.45" font-size="5.63" text-anchor="start" font-weight="bold" textLength="4" lengthAdjust="spacingAndGlyphs">124</text>
<text x="683.5" y="515.2" fill="#ffffff" stroke="#ffffff" stroke-width="0.45" font-size="4.49" text-anchor="start" font-weight="bold" textLength="6.5" lengthAdjust="spacingAndGlyphs">序号</text>
<text x="694.6" y="515.2" fill="#ffffff" stroke="#ffffff" stroke-width="0.45" font-size="4.49" text-anchor="start" font-weight="bold" textLength="16" lengthAdjust="spacingAndGlyphs">图号或标准号</text>
<text x="724.8" y="515.2" fill="#ffffff" stroke="#ffffff" stroke-width="0.45" font-size="4.49" text-anchor="start" font-weight="bold" textLength="2.5" lengthAdjust="spacingAndGlyphs">名</text>
<text x="759.2" y="515.2" fill="#ffffff" stroke="#ffffff" stroke-width="0.45" font-size="4.49" text-anchor="start" font-weight="bold" textLength="2.5" lengthAdjust="spacingAndGlyphs">称</text>
<rect x="768.5" y="511" width="6" height="6" stroke="none" stroke-width="0" fill="#ffffff"/>
<text x="784.2" y="515.2" fill="#ffffff" stroke="#ffffff" stroke-width="0.45" font-size="4.49" text-anchor="start" font-weight="bold" textLength="2.5" lengthAdjust="spacingAndGlyphs">材</text>
<text x="801.8" y="515.2" fill="#ffffff" stroke="#ffffff" stroke-width="0.45" font-size="4.49" text-anchor="start" font-weight="bold" textLength="2.5" lengthAdjust="spacingAndGlyphs">料</text>
<text x="816.0" y="511.0" fill="#ffffff" stroke="#ffffff" stroke-width="0.45" font-size="3.57" text-anchor="start" font-weight="bold" textLength="3" lengthAdjust="spacingAndGlyphs">单</text>
<text x="828.0" y="511.0" fill="#ffffff" stroke="#ffffff" stroke-width="0.45" font-size="3.57" text-anchor="start" font-weight="bold" textLength="3" lengthAdjust="spacingAndGlyphs">总</text>
<text x="815.0" y="516.5" fill="#ffffff" stroke="#ffffff" stroke-width="0.45" font-size="3.57" text-anchor="start" font-weight="bold" textLength="5" lengthAdjust="spacingAndGlyphs">重量</text>
<text x="827.0" y="516.5" fill="#ffffff" stroke="#ffffff" stroke-width="0.45" font-size="4.48" text-anchor="start" font-weight="bold" textLength="5" lengthAdjust="spacingAndGlyphs">(kg)</text>
<line x1="811.5" y1="512.5" x2="835.5" y2="512.5" stroke="#ffffff" stroke-width="1"/>
<text x="837.6" y="515.2" fill="#ffffff" stroke="#ffffff" stroke-width="0.45" font-size="4.49" text-anchor="start" font-weight="bold" textLength="9.5" lengthAdjust="spacingAndGlyphs">备 注</text>
<line x1="682.5" y1="518.5" x2="855.0" y2="518.5" stroke="#00ffff" stroke-width="1"/>
<line x1="682.5" y1="518" x2="682.5" y2="566" stroke="#00ffff" stroke-width="1"/>
<line x1="682.5" y1="531.5" x2="854.5" y2="531.5" stroke="#ffffff" stroke-width="1"/>
<line x1="797.5" y1="518.4" x2="797.5" y2="566" stroke="#ffffff" stroke-width="1"/>
<line x1="682.5" y1="559.5" x2="854.5" y2="559.5" stroke="#ffffff" stroke-width="1"/>
<line x1="741.5" y1="531" x2="741.5" y2="566" stroke="#ffffff" stroke-width="1"/>
<line x1="682.5" y1="536.5" x2="741" y2="536.5" stroke="#ffffff" stroke-width="1"/>
<line x1="682.5" y1="541.5" x2="741" y2="541.5" stroke="#ffffff" stroke-width="1"/>
<line x1="682.5" y1="547.5" x2="741" y2="547.5" stroke="#ffffff" stroke-width="1"/>
<line x1="682.5" y1="553.5" x2="741" y2="553.5" stroke="#ffffff" stroke-width="1"/>
<line x1="701.5" y1="531" x2="701.5" y2="559.5" stroke="#ffffff" stroke-width="1"/>
<line x1="721.5" y1="531" x2="721.5" y2="559.5" stroke="#ffffff" stroke-width="1"/>
<line x1="754.5" y1="559.5" x2="754.5" y2="566" stroke="#ffffff" stroke-width="1"/>
<line x1="797.5" y1="536.5" x2="854.5" y2="536.5" stroke="#ffffff" stroke-width="1"/>
<line x1="797.5" y1="541.5" x2="854.5" y2="541.5" stroke="#ffffff" stroke-width="1"/>
<line x1="826.5" y1="531" x2="826.5" y2="541.8" stroke="#ffffff" stroke-width="1"/>
<circle cx="692.7" cy="525" r="3.6" stroke="#ffffff" stroke-width="1.2" fill="none"/>
<path d="M690,527 L692.5,522.5 L695.5,523.5 M691,525.5 H695" stroke="#ffffff" stroke-width="1" fill="none"/>
<text x="703" y="527.8" fill="#ffffff" stroke="#ffffff" stroke-width="0.45" font-size="7" text-anchor="start" font-weight="bold" textLength="90" lengthAdjust="spacingAndGlyphs">某 某 市 华 来 机 械 有 限 公 司</text>
<text x="685.3" y="535.4" fill="#ffffff" stroke="#ffffff" stroke-width="0.45" font-size="4.08" text-anchor="start" font-weight="bold" textLength="8.5" lengthAdjust="spacingAndGlyphs">设 计</text>
<text x="685.3" y="540.7" fill="#ffffff" stroke="#ffffff" stroke-width="0.45" font-size="4.08" text-anchor="start" font-weight="bold" textLength="8.5" lengthAdjust="spacingAndGlyphs">制 图</text>
<text x="685.3" y="546.3" fill="#ffffff" stroke="#ffffff" stroke-width="0.45" font-size="4.08" text-anchor="start" font-weight="bold" textLength="8.5" lengthAdjust="spacingAndGlyphs">校 核</text>
<text x="685.3" y="552.1" fill="#ffffff" stroke="#ffffff" stroke-width="0.45" font-size="4.08" text-anchor="start" font-weight="bold" textLength="6.5" lengthAdjust="spacingAndGlyphs">审核</text>
<text x="685.3" y="558.1" fill="#ffffff" stroke="#ffffff" stroke-width="0.45" font-size="4.08" text-anchor="start" font-weight="bold" textLength="8.5" lengthAdjust="spacingAndGlyphs">批 准</text>
<text x="758.0" y="540.2" fill="#ffffff" stroke="#ffffff" stroke-width="0.45" font-size="5.3" text-anchor="start" font-weight="bold" textLength="16" lengthAdjust="spacingAndGlyphs">夹层锅</text>
<text x="754" y="548.2" fill="#ffffff" stroke="#ffffff" stroke-width="0.45" font-size="5.89" text-anchor="start" font-weight="bold" textLength="33.5" lengthAdjust="spacingAndGlyphs">ZJCG-500  V=0.5m³</text>
<text x="760.3" y="557.3" fill="#ffffff" stroke="#ffffff" stroke-width="0.45" font-size="5.1" text-anchor="start" font-weight="bold" textLength="17" lengthAdjust="spacingAndGlyphs">装 配 图</text>
<text x="799.5" y="535.4" fill="#ffffff" stroke="#ffffff" stroke-width="0.45" font-size="3.88" text-anchor="start" font-weight="bold" textLength="19.5" lengthAdjust="spacingAndGlyphs">比例 数量</text>
<text x="799.5" y="540.8" fill="#ffffff" stroke="#ffffff" stroke-width="0.45" font-size="3.88" text-anchor="start" font-weight="bold" textLength="19.5" lengthAdjust="spacingAndGlyphs">图样标记</text>
<text x="833" y="540.8" fill="#ffffff" stroke="#ffffff" stroke-width="0.45" font-size="3.88" text-anchor="start" font-weight="bold" textLength="13" lengthAdjust="spacingAndGlyphs">共 张 第 张</text>
<text x="803.2" y="553" fill="#ffffff" stroke="#ffffff" stroke-width="0.45" font-size="5" text-anchor="start" font-weight="bold" textLength="26" lengthAdjust="spacingAndGlyphs">ZJCG-500A-0</text>
<text x="723.7" y="564.7" fill="#ffffff" stroke="#ffffff" stroke-width="0.45" font-size="4.08" text-anchor="start" font-weight="bold" textLength="2" lengthAdjust="spacingAndGlyphs">共</text>
<text x="743" y="564.7" fill="#ffffff" stroke="#ffffff" stroke-width="0.45" font-size="4.08" text-anchor="start" font-weight="bold" textLength="8" lengthAdjust="spacingAndGlyphs">日期</text>
<line x1="510" y1="405.5" x2="682" y2="405.5" stroke="#ffffff" stroke-width="1"/>
<line x1="510" y1="413.5" x2="682" y2="413.5" stroke="#ffffff" stroke-width="1"/>
<line x1="510" y1="421.5" x2="682" y2="421.5" stroke="#ffffff" stroke-width="1"/>
<line x1="510" y1="428.5" x2="682" y2="428.5" stroke="#ffffff" stroke-width="1"/>
<line x1="510" y1="436.5" x2="682" y2="436.5" stroke="#ffffff" stroke-width="1"/>
<line x1="510" y1="443.5" x2="682" y2="443.5" stroke="#ffffff" stroke-width="1"/>
<line x1="510" y1="451.5" x2="682" y2="451.5" stroke="#ffffff" stroke-width="1"/>
<line x1="510" y1="459.5" x2="682" y2="459.5" stroke="#ffffff" stroke-width="1"/>
<line x1="510" y1="466.5" x2="682" y2="466.5" stroke="#ffffff" stroke-width="1"/>
<line x1="510" y1="474.5" x2="682" y2="474.5" stroke="#ffffff" stroke-width="1"/>
<line x1="510" y1="482.5" x2="682" y2="482.5" stroke="#ffffff" stroke-width="1"/>
<line x1="510" y1="489.5" x2="682" y2="489.5" stroke="#ffffff" stroke-width="1"/>
<line x1="510" y1="497.5" x2="682" y2="497.5" stroke="#ffffff" stroke-width="1"/>
<line x1="510" y1="504.5" x2="682" y2="504.5" stroke="#ffffff" stroke-width="1"/>
<line x1="510" y1="512.5" x2="682" y2="512.5" stroke="#ffffff" stroke-width="1"/>
<line x1="510" y1="520.5" x2="682" y2="520.5" stroke="#ffffff" stroke-width="1"/>
<line x1="510" y1="527.5" x2="682" y2="527.5" stroke="#ffffff" stroke-width="1"/>
<line x1="510" y1="535.5" x2="682" y2="535.5" stroke="#ffffff" stroke-width="1"/>
<line x1="510" y1="542.5" x2="682" y2="542.5" stroke="#ffffff" stroke-width="1"/>
<line x1="510" y1="550.5" x2="682" y2="550.5" stroke="#ffffff" stroke-width="1"/>
<line x1="510" y1="558.5" x2="682" y2="558.5" stroke="#ffffff" stroke-width="1"/>
<line x1="520.5" y1="405.8" x2="520.5" y2="566" stroke="#ffffff" stroke-width="1"/>
<line x1="549.5" y1="405.8" x2="549.5" y2="566" stroke="#ffffff" stroke-width="1"/>
<line x1="596.5" y1="405.8" x2="596.5" y2="566" stroke="#ffffff" stroke-width="1"/>
<line x1="606.5" y1="405.8" x2="606.5" y2="566" stroke="#ffffff" stroke-width="1"/>
<line x1="640.5" y1="405.8" x2="640.5" y2="566" stroke="#ffffff" stroke-width="1"/>
<line x1="652.5" y1="405.8" x2="652.5" y2="566" stroke="#ffffff" stroke-width="1"/>
<line x1="663.5" y1="405.8" x2="663.5" y2="566" stroke="#ffffff" stroke-width="1"/>
<line x1="510.5" y1="405" x2="510.5" y2="566" stroke="#00ffff" stroke-width="1"/>
<text x="513.7" y="412.0" fill="#ffffff" stroke="#ffffff" stroke-width="0.45" font-size="5.63" text-anchor="start" font-weight="bold" textLength="4" lengthAdjust="spacingAndGlyphs">42</text>
<text x="522.7" y="412.0" fill="#ffffff" stroke="#ffffff" stroke-width="0.45" font-size="5.63" text-anchor="start" font-weight="bold" textLength="24.5" lengthAdjust="spacingAndGlyphs">GB/T97.1-2002</text>
<text x="553" y="412.0" fill="#ffffff" stroke="#ffffff" stroke-width="0.45" font-size="4.49" text-anchor="start" font-weight="bold" textLength="6.4" lengthAdjust="spacingAndGlyphs">垫圈</text>
<text x="567.8" y="412.0" fill="#ffffff" stroke="#ffffff" stroke-width="0.45" font-size="5.63" text-anchor="start" font-weight="bold" textLength="5.8" lengthAdjust="spacingAndGlyphs">12</text>
<text x="600.3" y="412.0" fill="#ffffff" stroke="#ffffff" stroke-width="0.45" font-size="5.63" text-anchor="start" font-weight="bold" textLength="1.8" lengthAdjust="spacingAndGlyphs">4</text>
<text x="612" y="412.0" fill="#ffffff" stroke="#ffffff" stroke-width="0.45" font-size="4.49" text-anchor="start" font-weight="bold" textLength="4.5" lengthAdjust="spacingAndGlyphs">钢</text>
<text x="643.3" y="412.0" fill="#ffffff" stroke="#ffffff" stroke-width="0.45" font-size="5.63" text-anchor="start" font-weight="bold" textLength="6" lengthAdjust="spacingAndGlyphs">0.01</text>
<text x="654.5" y="412.0" fill="#ffffff" stroke="#ffffff" stroke-width="0.45" font-size="5.63" text-anchor="start" font-weight="bold" textLength="7" lengthAdjust="spacingAndGlyphs">0.04</text>
<text x="513.7" y="419.6" fill="#ffffff" stroke="#ffffff" stroke-width="0.45" font-size="5.63" text-anchor="start" font-weight="bold" textLength="4" lengthAdjust="spacingAndGlyphs">41</text>
<text x="522.7" y="419.6" fill="#ffffff" stroke="#ffffff" stroke-width="0.45" font-size="5.63" text-anchor="start" font-weight="bold" textLength="24.5" lengthAdjust="spacingAndGlyphs">GB/T6170-2000</text>
<text x="553" y="419.6" fill="#ffffff" stroke="#ffffff" stroke-width="0.45" font-size="4.49" text-anchor="start" font-weight="bold" textLength="6.4" lengthAdjust="spacingAndGlyphs">螺母</text>
<text x="567.8" y="419.6" fill="#ffffff" stroke="#ffffff" stroke-width="0.45" font-size="5.63" text-anchor="start" font-weight="bold" textLength="15.3" lengthAdjust="spacingAndGlyphs">M12×1.5</text>
<text x="600.3" y="419.6" fill="#ffffff" stroke="#ffffff" stroke-width="0.45" font-size="5.63" text-anchor="start" font-weight="bold" textLength="1.8" lengthAdjust="spacingAndGlyphs">4</text>
<text x="612" y="419.6" fill="#ffffff" stroke="#ffffff" stroke-width="0.45" font-size="5.63" text-anchor="start" font-weight="bold" textLength="10.5" lengthAdjust="spacingAndGlyphs">A2-70</text>
<text x="643.3" y="419.6" fill="#ffffff" stroke="#ffffff" stroke-width="0.45" font-size="5.63" text-anchor="start" font-weight="bold" textLength="6" lengthAdjust="spacingAndGlyphs">0.02</text>
<text x="654.5" y="419.6" fill="#ffffff" stroke="#ffffff" stroke-width="0.45" font-size="5.63" text-anchor="start" font-weight="bold" textLength="7" lengthAdjust="spacingAndGlyphs">0.08</text>
<text x="513.7" y="427.3" fill="#ffffff" stroke="#ffffff" stroke-width="0.45" font-size="5.63" text-anchor="start" font-weight="bold" textLength="4" lengthAdjust="spacingAndGlyphs">40</text>
<text x="522.7" y="427.3" fill="#ffffff" stroke="#ffffff" stroke-width="0.45" font-size="5.63" text-anchor="start" font-weight="bold" textLength="24.5" lengthAdjust="spacingAndGlyphs">GB/T5783-2000</text>
<text x="553" y="427.2" fill="#ffffff" stroke="#ffffff" stroke-width="0.45" font-size="4.49" text-anchor="start" font-weight="bold" textLength="6.4" lengthAdjust="spacingAndGlyphs">螺栓</text>
<text x="567.8" y="427.3" fill="#ffffff" stroke="#ffffff" stroke-width="0.45" font-size="5.63" text-anchor="start" font-weight="bold" textLength="13.4" lengthAdjust="spacingAndGlyphs">M12×45</text>
<text x="600.3" y="427.3" fill="#ffffff" stroke="#ffffff" stroke-width="0.45" font-size="5.63" text-anchor="start" font-weight="bold" textLength="1.8" lengthAdjust="spacingAndGlyphs">8</text>
<text x="612" y="427.2" fill="#ffffff" stroke="#ffffff" stroke-width="0.45" font-size="4.49" text-anchor="start" font-weight="bold" textLength="4.5" lengthAdjust="spacingAndGlyphs">钢</text>
<text x="643.3" y="427.3" fill="#ffffff" stroke="#ffffff" stroke-width="0.45" font-size="5.63" text-anchor="start" font-weight="bold" textLength="6" lengthAdjust="spacingAndGlyphs">0.05</text>
<text x="654.5" y="427.3" fill="#ffffff" stroke="#ffffff" stroke-width="0.45" font-size="5.63" text-anchor="start" font-weight="bold" textLength="7" lengthAdjust="spacingAndGlyphs">0.40</text>
<text x="513.7" y="434.9" fill="#ffffff" stroke="#ffffff" stroke-width="0.45" font-size="5.63" text-anchor="start" font-weight="bold" textLength="4" lengthAdjust="spacingAndGlyphs">39</text>
<text x="522.7" y="434.9" fill="#ffffff" stroke="#ffffff" stroke-width="0.45" font-size="5.63" text-anchor="start" font-weight="bold" textLength="20" lengthAdjust="spacingAndGlyphs">ZJCG500A-15</text>
<text x="553" y="434.9" fill="#ffffff" stroke="#ffffff" stroke-width="0.45" font-size="4.49" text-anchor="start" font-weight="bold" textLength="9.6" lengthAdjust="spacingAndGlyphs">轴承盖</text>
<text x="600.3" y="434.9" fill="#ffffff" stroke="#ffffff" stroke-width="0.45" font-size="5.63" text-anchor="start" font-weight="bold" textLength="1.8" lengthAdjust="spacingAndGlyphs">8</text>
<text x="612" y="434.9" fill="#ffffff" stroke="#ffffff" stroke-width="0.45" font-size="5.63" text-anchor="start" font-weight="bold" textLength="9.0" lengthAdjust="spacingAndGlyphs">Q235</text>
<text x="645.3" y="434.9" fill="#ffffff" stroke="#ffffff" stroke-width="0.45" font-size="5.63" text-anchor="start" font-weight="bold" textLength="2" lengthAdjust="spacingAndGlyphs">1</text>
<text x="656.5" y="434.9" fill="#ffffff" stroke="#ffffff" stroke-width="0.45" font-size="5.63" text-anchor="start" font-weight="bold" textLength="3" lengthAdjust="spacingAndGlyphs">8</text>
<text x="513.7" y="442.5" fill="#ffffff" stroke="#ffffff" stroke-width="0.45" font-size="5.63" text-anchor="start" font-weight="bold" textLength="4" lengthAdjust="spacingAndGlyphs">38</text>
<text x="522.7" y="442.5" fill="#ffffff" stroke="#ffffff" stroke-width="0.45" font-size="5.63" text-anchor="start" font-weight="bold" textLength="20" lengthAdjust="spacingAndGlyphs">ZJCG500A-14</text>
<text x="553" y="442.5" fill="#ffffff" stroke="#ffffff" stroke-width="0.45" font-size="4.49" text-anchor="start" font-weight="bold" textLength="11" lengthAdjust="spacingAndGlyphs">蜗杆轴组</text>
<text x="600.3" y="442.5" fill="#ffffff" stroke="#ffffff" stroke-width="0.45" font-size="5.63" text-anchor="start" font-weight="bold" textLength="1.8" lengthAdjust="spacingAndGlyphs">2</text>
<text x="612" y="442.5" fill="#ffffff" stroke="#ffffff" stroke-width="0.45" font-size="5.63" text-anchor="start" font-weight="bold" textLength="13" lengthAdjust="spacingAndGlyphs">0Cr18Ni9</text>
<text x="645.3" y="442.5" fill="#ffffff" stroke="#ffffff" stroke-width="0.45" font-size="5.63" text-anchor="start" font-weight="bold" textLength="2" lengthAdjust="spacingAndGlyphs">8</text>
<text x="656.5" y="442.5" fill="#ffffff" stroke="#ffffff" stroke-width="0.45" font-size="5.63" text-anchor="start" font-weight="bold" textLength="3" lengthAdjust="spacingAndGlyphs">16</text>
<text x="513.7" y="450.1" fill="#ffffff" stroke="#ffffff" stroke-width="0.45" font-size="5.63" text-anchor="start" font-weight="bold" textLength="4" lengthAdjust="spacingAndGlyphs">37</text>
<text x="522.7" y="450.1" fill="#ffffff" stroke="#ffffff" stroke-width="0.45" font-size="5.63" text-anchor="start" font-weight="bold" textLength="20" lengthAdjust="spacingAndGlyphs">ZJCG500A-13</text>
<text x="553" y="450.1" fill="#ffffff" stroke="#ffffff" stroke-width="0.45" font-size="4.49" text-anchor="start" font-weight="bold" textLength="6.4" lengthAdjust="spacingAndGlyphs">蜗轮</text>
<text x="567.8" y="450.1" fill="#ffffff" stroke="#ffffff" stroke-width="0.45" font-size="5.63" text-anchor="start" font-weight="bold" textLength="17" lengthAdjust="spacingAndGlyphs">m=4, z=40</text>
<text x="600.3" y="450.1" fill="#ffffff" stroke="#ffffff" stroke-width="0.45" font-size="5.63" text-anchor="start" font-weight="bold" textLength="1.8" lengthAdjust="spacingAndGlyphs">1</text>
<text x="612" y="450.1" fill="#ffffff" stroke="#ffffff" stroke-width="0.45" font-size="5.63" text-anchor="start" font-weight="bold" textLength="13" lengthAdjust="spacingAndGlyphs">ZCuSn10</text>
<text x="656.5" y="450.1" fill="#ffffff" stroke="#ffffff" stroke-width="0.45" font-size="5.63" text-anchor="start" font-weight="bold" textLength="3" lengthAdjust="spacingAndGlyphs">8</text>
<text x="513.7" y="457.7" fill="#ffffff" stroke="#ffffff" stroke-width="0.45" font-size="5.63" text-anchor="start" font-weight="bold" textLength="4" lengthAdjust="spacingAndGlyphs">36</text>
<text x="522.7" y="457.7" fill="#ffffff" stroke="#ffffff" stroke-width="0.45" font-size="5.63" text-anchor="start" font-weight="bold" textLength="20" lengthAdjust="spacingAndGlyphs">ZJCG500A-12</text>
<text x="553" y="457.7" fill="#ffffff" stroke="#ffffff" stroke-width="0.45" font-size="4.49" text-anchor="start" font-weight="bold" textLength="3.2" lengthAdjust="spacingAndGlyphs">轴</text>
<text x="600.3" y="457.7" fill="#ffffff" stroke="#ffffff" stroke-width="0.45" font-size="5.63" text-anchor="start" font-weight="bold" textLength="1.8" lengthAdjust="spacingAndGlyphs">1</text>
<text x="612" y="457.7" fill="#ffffff" stroke="#ffffff" stroke-width="0.45" font-size="5.63" text-anchor="start" font-weight="bold" textLength="13" lengthAdjust="spacingAndGlyphs">45-GB699</text>
<text x="656.5" y="457.7" fill="#ffffff" stroke="#ffffff" stroke-width="0.45" font-size="5.63" text-anchor="start" font-weight="bold" textLength="3" lengthAdjust="spacingAndGlyphs">12</text>
<text x="513.7" y="465.4" fill="#ffffff" stroke="#ffffff" stroke-width="0.45" font-size="5.63" text-anchor="start" font-weight="bold" textLength="4" lengthAdjust="spacingAndGlyphs">35</text>
<text x="522.7" y="465.4" fill="#ffffff" stroke="#ffffff" stroke-width="0.45" font-size="5.63" text-anchor="start" font-weight="bold" textLength="20" lengthAdjust="spacingAndGlyphs">ZJCG500A-11</text>
<text x="553" y="465.3" fill="#ffffff" stroke="#ffffff" stroke-width="0.45" font-size="4.49" text-anchor="start" font-weight="bold" textLength="9.6" lengthAdjust="spacingAndGlyphs">电机座</text>
<text x="567.8" y="465.4" fill="#ffffff" stroke="#ffffff" stroke-width="0.45" font-size="5.63" text-anchor="start" font-weight="bold" textLength="17" lengthAdjust="spacingAndGlyphs">m=4, z=40</text>
<text x="600.3" y="465.4" fill="#ffffff" stroke="#ffffff" stroke-width="0.45" font-size="5.63" text-anchor="start" font-weight="bold" textLength="1.8" lengthAdjust="spacingAndGlyphs">1</text>
<text x="612" y="465.4" fill="#ffffff" stroke="#ffffff" stroke-width="0.45" font-size="5.63" text-anchor="start" font-weight="bold" textLength="13" lengthAdjust="spacingAndGlyphs">ZG270-500</text>
<text x="656.5" y="465.4" fill="#ffffff" stroke="#ffffff" stroke-width="0.45" font-size="5.63" text-anchor="start" font-weight="bold" textLength="3" lengthAdjust="spacingAndGlyphs">6</text>
<text x="679" y="464.95" fill="#ffffff" stroke="#ffffff" stroke-width="0.45" font-size="4.5" text-anchor="middle" font-weight="bold">Δ</text>
<text x="513.7" y="473.0" fill="#ffffff" stroke="#ffffff" stroke-width="0.45" font-size="5.63" text-anchor="start" font-weight="bold" textLength="4" lengthAdjust="spacingAndGlyphs">34</text>
<text x="522.7" y="473.0" fill="#ffffff" stroke="#ffffff" stroke-width="0.45" font-size="5.63" text-anchor="start" font-weight="bold" textLength="24.5" lengthAdjust="spacingAndGlyphs">GB/T97.1-2002</text>
<text x="553" y="473.0" fill="#ffffff" stroke="#ffffff" stroke-width="0.45" font-size="4.49" text-anchor="start" font-weight="bold" textLength="6.4" lengthAdjust="spacingAndGlyphs">垫圈</text>
<text x="567.8" y="473.0" fill="#ffffff" stroke="#ffffff" stroke-width="0.45" font-size="5.63" text-anchor="start" font-weight="bold" textLength="5.8" lengthAdjust="spacingAndGlyphs">16</text>
<text x="600.3" y="473.0" fill="#ffffff" stroke="#ffffff" stroke-width="0.45" font-size="5.63" text-anchor="start" font-weight="bold" textLength="1.8" lengthAdjust="spacingAndGlyphs">8</text>
<text x="612" y="473.0" fill="#ffffff" stroke="#ffffff" stroke-width="0.45" font-size="4.49" text-anchor="start" font-weight="bold" textLength="4.5" lengthAdjust="spacingAndGlyphs">钢</text>
<text x="643.3" y="473.0" fill="#ffffff" stroke="#ffffff" stroke-width="0.45" font-size="5.63" text-anchor="start" font-weight="bold" textLength="6" lengthAdjust="spacingAndGlyphs">0.02</text>
<text x="654.5" y="473.0" fill="#ffffff" stroke="#ffffff" stroke-width="0.45" font-size="5.63" text-anchor="start" font-weight="bold" textLength="7" lengthAdjust="spacingAndGlyphs">0.16</text>
<text x="679" y="472.57" fill="#ffffff" stroke="#ffffff" stroke-width="0.45" font-size="4.5" text-anchor="middle" font-weight="bold">Δ</text>
<text x="513.7" y="480.6" fill="#ffffff" stroke="#ffffff" stroke-width="0.45" font-size="5.63" text-anchor="start" font-weight="bold" textLength="4" lengthAdjust="spacingAndGlyphs">33</text>
<text x="522.7" y="480.6" fill="#ffffff" stroke="#ffffff" stroke-width="0.45" font-size="5.63" text-anchor="start" font-weight="bold" textLength="24.5" lengthAdjust="spacingAndGlyphs">GB/T6170-2000</text>
<text x="553" y="480.6" fill="#ffffff" stroke="#ffffff" stroke-width="0.45" font-size="4.49" text-anchor="start" font-weight="bold" textLength="6.4" lengthAdjust="spacingAndGlyphs">螺母</text>
<text x="567.8" y="480.6" fill="#ffffff" stroke="#ffffff" stroke-width="0.45" font-size="5.63" text-anchor="start" font-weight="bold" textLength="15.3" lengthAdjust="spacingAndGlyphs">M16×1.5</text>
<text x="600.3" y="480.6" fill="#ffffff" stroke="#ffffff" stroke-width="0.45" font-size="5.63" text-anchor="start" font-weight="bold" textLength="1.8" lengthAdjust="spacingAndGlyphs">6</text>
<text x="612" y="480.6" fill="#ffffff" stroke="#ffffff" stroke-width="0.45" font-size="5.63" text-anchor="start" font-weight="bold" textLength="10.5" lengthAdjust="spacingAndGlyphs">A2-70</text>
<text x="643.3" y="480.6" fill="#ffffff" stroke="#ffffff" stroke-width="0.45" font-size="5.63" text-anchor="start" font-weight="bold" textLength="6" lengthAdjust="spacingAndGlyphs">0.03</text>
<text x="654.5" y="480.6" fill="#ffffff" stroke="#ffffff" stroke-width="0.45" font-size="5.63" text-anchor="start" font-weight="bold" textLength="7" lengthAdjust="spacingAndGlyphs">0.18</text>
<text x="513.7" y="488.2" fill="#ffffff" stroke="#ffffff" stroke-width="0.45" font-size="5.63" text-anchor="start" font-weight="bold" textLength="4" lengthAdjust="spacingAndGlyphs">32</text>
<text x="522.7" y="488.2" fill="#ffffff" stroke="#ffffff" stroke-width="0.45" font-size="5.63" text-anchor="start" font-weight="bold" textLength="20" lengthAdjust="spacingAndGlyphs">ZJCG500A-10</text>
<text x="553" y="488.2" fill="#ffffff" stroke="#ffffff" stroke-width="0.45" font-size="4.49" text-anchor="start" font-weight="bold" textLength="9.6" lengthAdjust="spacingAndGlyphs">轴承座</text>
<text x="600.3" y="488.2" fill="#ffffff" stroke="#ffffff" stroke-width="0.45" font-size="5.63" text-anchor="start" font-weight="bold" textLength="1.8" lengthAdjust="spacingAndGlyphs">1</text>
<text x="612" y="488.2" fill="#ffffff" stroke="#ffffff" stroke-width="0.45" font-size="5.63" text-anchor="start" font-weight="bold" textLength="13" lengthAdjust="spacingAndGlyphs">HT200-GB</text>
<text x="656.5" y="488.2" fill="#ffffff" stroke="#ffffff" stroke-width="0.45" font-size="5.63" text-anchor="start" font-weight="bold" textLength="3" lengthAdjust="spacingAndGlyphs">24</text>
<text x="513.7" y="495.8" fill="#ffffff" stroke="#ffffff" stroke-width="0.45" font-size="5.63" text-anchor="start" font-weight="bold" textLength="4" lengthAdjust="spacingAndGlyphs">31</text>
<text x="553" y="495.8" fill="#ffffff" stroke="#ffffff" stroke-width="0.45" font-size="4.49" text-anchor="start" font-weight="bold" textLength="11" lengthAdjust="spacingAndGlyphs">减速电机</text>
<text x="600.3" y="495.8" fill="#ffffff" stroke="#ffffff" stroke-width="0.45" font-size="5.63" text-anchor="start" font-weight="bold" textLength="1.8" lengthAdjust="spacingAndGlyphs">2</text>
<text x="612" y="495.8" fill="#ffffff" stroke="#ffffff" stroke-width="0.45" font-size="4.49" text-anchor="start" font-weight="bold" textLength="7.5" lengthAdjust="spacingAndGlyphs">组合件</text>
<text x="645.3" y="495.8" fill="#ffffff" stroke="#ffffff" stroke-width="0.45" font-size="5.63" text-anchor="start" font-weight="bold" textLength="2" lengthAdjust="spacingAndGlyphs">40</text>
<text x="656.5" y="495.8" fill="#ffffff" stroke="#ffffff" stroke-width="0.45" font-size="5.63" text-anchor="start" font-weight="bold" textLength="3" lengthAdjust="spacingAndGlyphs">80</text>
<text x="513.7" y="503.5" fill="#ffffff" stroke="#ffffff" stroke-width="0.45" font-size="5.63" text-anchor="start" font-weight="bold" textLength="4" lengthAdjust="spacingAndGlyphs">30</text>
<text x="522.7" y="503.5" fill="#ffffff" stroke="#ffffff" stroke-width="0.45" font-size="5.63" text-anchor="start" font-weight="bold" textLength="20" lengthAdjust="spacingAndGlyphs">ZJCG500A-09</text>
<text x="553" y="503.4" fill="#ffffff" stroke="#ffffff" stroke-width="0.45" font-size="4.49" text-anchor="start" font-weight="bold" textLength="9.6" lengthAdjust="spacingAndGlyphs">联轴器</text>
<text x="600.3" y="503.5" fill="#ffffff" stroke="#ffffff" stroke-width="0.45" font-size="5.63" text-anchor="start" font-weight="bold" textLength="1.8" lengthAdjust="spacingAndGlyphs">1</text>
<text x="612" y="503.5" fill="#ffffff" stroke="#ffffff" stroke-width="0.45" font-size="5.63" text-anchor="start" font-weight="bold" textLength="13" lengthAdjust="spacingAndGlyphs">ZG270-500</text>
<text x="656.5" y="503.5" fill="#ffffff" stroke="#ffffff" stroke-width="0.45" font-size="5.63" text-anchor="start" font-weight="bold" textLength="3" lengthAdjust="spacingAndGlyphs">4</text>
<text x="513.7" y="511.1" fill="#ffffff" stroke="#ffffff" stroke-width="0.45" font-size="5.63" text-anchor="start" font-weight="bold" textLength="4" lengthAdjust="spacingAndGlyphs">29</text>
<text x="553" y="511.1" fill="#ffffff" stroke="#ffffff" stroke-width="0.45" font-size="4.49" text-anchor="start" font-weight="bold" textLength="6.4" lengthAdjust="spacingAndGlyphs">轴承</text>
<text x="567.8" y="511.1" fill="#ffffff" stroke="#ffffff" stroke-width="0.45" font-size="5.63" text-anchor="start" font-weight="bold" textLength="9.6" lengthAdjust="spacingAndGlyphs">6208</text>
<text x="600.3" y="511.1" fill="#ffffff" stroke="#ffffff" stroke-width="0.45" font-size="5.63" text-anchor="start" font-weight="bold" textLength="1.8" lengthAdjust="spacingAndGlyphs">2</text>
<text x="612" y="511.1" fill="#ffffff" stroke="#ffffff" stroke-width="0.45" font-size="4.49" text-anchor="start" font-weight="bold" textLength="7.5" lengthAdjust="spacingAndGlyphs">组合件</text>
<text x="643.3" y="511.1" fill="#ffffff" stroke="#ffffff" stroke-width="0.45" font-size="5.63" text-anchor="start" font-weight="bold" textLength="6" lengthAdjust="spacingAndGlyphs">0.4</text>
<text x="654.5" y="511.1" fill="#ffffff" stroke="#ffffff" stroke-width="0.45" font-size="5.63" text-anchor="start" font-weight="bold" textLength="7" lengthAdjust="spacingAndGlyphs">0.8</text>
<text x="513.7" y="518.7" fill="#ffffff" stroke="#ffffff" stroke-width="0.45" font-size="5.63" text-anchor="start" font-weight="bold" textLength="4" lengthAdjust="spacingAndGlyphs">28</text>
<text x="553" y="518.7" fill="#ffffff" stroke="#ffffff" stroke-width="0.45" font-size="4.49" text-anchor="start" font-weight="bold" textLength="6.4" lengthAdjust="spacingAndGlyphs">油封</text>
<text x="600.3" y="518.7" fill="#ffffff" stroke="#ffffff" stroke-width="0.45" font-size="5.63" text-anchor="start" font-weight="bold" textLength="1.8" lengthAdjust="spacingAndGlyphs">2</text>
<text x="612" y="518.7" fill="#ffffff" stroke="#ffffff" stroke-width="0.45" font-size="4.49" text-anchor="start" font-weight="bold" textLength="6.0" lengthAdjust="spacingAndGlyphs">橡胶</text>
<text x="654.5" y="518.7" fill="#ffffff" stroke="#ffffff" stroke-width="0.45" font-size="5.63" text-anchor="start" font-weight="bold" textLength="7" lengthAdjust="spacingAndGlyphs">0.1</text>
<text x="513.7" y="526.3" fill="#ffffff" stroke="#ffffff" stroke-width="0.45" font-size="5.63" text-anchor="start" font-weight="bold" textLength="4" lengthAdjust="spacingAndGlyphs">27</text>
<text x="553" y="526.3" fill="#ffffff" stroke="#ffffff" stroke-width="0.45" font-size="4.49" text-anchor="start" font-weight="bold" textLength="3.2" lengthAdjust="spacingAndGlyphs">键</text>
<text x="567.8" y="526.3" fill="#ffffff" stroke="#ffffff" stroke-width="0.45" font-size="5.63" text-anchor="start" font-weight="bold" textLength="9.6" lengthAdjust="spacingAndGlyphs">12×8</text>
<text x="600.3" y="526.3" fill="#ffffff" stroke="#ffffff" stroke-width="0.45" font-size="5.63" text-anchor="start" font-weight="bold" textLength="1.8" lengthAdjust="spacingAndGlyphs">1</text>
<text x="612" y="526.3" fill="#ffffff" stroke="#ffffff" stroke-width="0.45" font-size="5.63" text-anchor="start" font-weight="bold" textLength="6.0" lengthAdjust="spacingAndGlyphs">45</text>
<text x="654.5" y="526.3" fill="#ffffff" stroke="#ffffff" stroke-width="0.45" font-size="5.63" text-anchor="start" font-weight="bold" textLength="7" lengthAdjust="spacingAndGlyphs">0.1</text>
<text x="513.7" y="533.9" fill="#ffffff" stroke="#ffffff" stroke-width="0.45" font-size="5.63" text-anchor="start" font-weight="bold" textLength="4" lengthAdjust="spacingAndGlyphs">26</text>
<text x="553" y="533.9" fill="#ffffff" stroke="#ffffff" stroke-width="0.45" font-size="4.49" text-anchor="start" font-weight="bold" textLength="6.4" lengthAdjust="spacingAndGlyphs">吊环</text>
<text x="567.8" y="533.9" fill="#ffffff" stroke="#ffffff" stroke-width="0.45" font-size="5.63" text-anchor="start" font-weight="bold" textLength="7.7" lengthAdjust="spacingAndGlyphs">M16</text>
<text x="600.3" y="533.9" fill="#ffffff" stroke="#ffffff" stroke-width="0.45" font-size="5.63" text-anchor="start" font-weight="bold" textLength="1.8" lengthAdjust="spacingAndGlyphs">1</text>
<text x="612" y="533.9" fill="#ffffff" stroke="#ffffff" stroke-width="0.45" font-size="5.63" text-anchor="start" font-weight="bold" textLength="6.0" lengthAdjust="spacingAndGlyphs">20</text>
<text x="654.5" y="533.9" fill="#ffffff" stroke="#ffffff" stroke-width="0.45" font-size="5.63" text-anchor="start" font-weight="bold" textLength="7" lengthAdjust="spacingAndGlyphs">0.3</text>
<text x="513.7" y="541.6" fill="#ffffff" stroke="#ffffff" stroke-width="0.45" font-size="5.63" text-anchor="start" font-weight="bold" textLength="4" lengthAdjust="spacingAndGlyphs">25</text>
<text x="553" y="541.5" fill="#ffffff" stroke="#ffffff" stroke-width="0.45" font-size="4.49" text-anchor="start" font-weight="bold" textLength="11" lengthAdjust="spacingAndGlyphs">压力表弯</text>
<text x="600.3" y="541.6" fill="#ffffff" stroke="#ffffff" stroke-width="0.45" font-size="5.63" text-anchor="start" font-weight="bold" textLength="1.8" lengthAdjust="spacingAndGlyphs">1</text>
<text x="612" y="541.5" fill="#ffffff" stroke="#ffffff" stroke-width="0.45" font-size="4.49" text-anchor="start" font-weight="bold" textLength="6.0" lengthAdjust="spacingAndGlyphs">组合</text>
<text x="654.5" y="541.6" fill="#ffffff" stroke="#ffffff" stroke-width="0.45" font-size="5.63" text-anchor="start" font-weight="bold" textLength="7" lengthAdjust="spacingAndGlyphs">0.6</text>
<text x="513.7" y="549.2" fill="#ffffff" stroke="#ffffff" stroke-width="0.45" font-size="5.63" text-anchor="start" font-weight="bold" textLength="4" lengthAdjust="spacingAndGlyphs">24</text>
<text x="522.7" y="549.2" fill="#ffffff" stroke="#ffffff" stroke-width="0.45" font-size="5.63" text-anchor="start" font-weight="bold" textLength="20" lengthAdjust="spacingAndGlyphs">ZJCG500A-08</text>
<text x="553" y="549.2" fill="#ffffff" stroke="#ffffff" stroke-width="0.45" font-size="4.49" text-anchor="start" font-weight="bold" textLength="6.4" lengthAdjust="spacingAndGlyphs">锅体</text>
<text x="600.3" y="549.2" fill="#ffffff" stroke="#ffffff" stroke-width="0.45" font-size="5.63" text-anchor="start" font-weight="bold" textLength="1.8" lengthAdjust="spacingAndGlyphs">1</text>
<text x="612" y="549.2" fill="#ffffff" stroke="#ffffff" stroke-width="0.45" font-size="5.63" text-anchor="start" font-weight="bold" textLength="13" lengthAdjust="spacingAndGlyphs">0Cr18Ni9</text>
<text x="654.5" y="549.2" fill="#ffffff" stroke="#ffffff" stroke-width="0.45" font-size="5.63" text-anchor="start" font-weight="bold" textLength="7" lengthAdjust="spacingAndGlyphs">260</text>
<text x="513.7" y="556.8" fill="#ffffff" stroke="#ffffff" stroke-width="0.45" font-size="5.63" text-anchor="start" font-weight="bold" textLength="4" lengthAdjust="spacingAndGlyphs">23</text>
<text x="522.7" y="556.8" fill="#ffffff" stroke="#ffffff" stroke-width="0.45" font-size="5.63" text-anchor="start" font-weight="bold" textLength="20" lengthAdjust="spacingAndGlyphs">ZJCG500A-07</text>
<text x="553" y="556.8" fill="#ffffff" stroke="#ffffff" stroke-width="0.45" font-size="4.49" text-anchor="start" font-weight="bold" textLength="9.6" lengthAdjust="spacingAndGlyphs">保温层</text>
<text x="600.3" y="556.8" fill="#ffffff" stroke="#ffffff" stroke-width="0.45" font-size="5.63" text-anchor="start" font-weight="bold" textLength="1.8" lengthAdjust="spacingAndGlyphs">1</text>
<text x="612" y="556.8" fill="#ffffff" stroke="#ffffff" stroke-width="0.45" font-size="4.49" text-anchor="start" font-weight="bold" textLength="6.0" lengthAdjust="spacingAndGlyphs">岩棉</text>
<text x="656.5" y="556.8" fill="#ffffff" stroke="#ffffff" stroke-width="0.45" font-size="5.63" text-anchor="start" font-weight="bold" textLength="3" lengthAdjust="spacingAndGlyphs">35</text>
<text x="513.7" y="564.4" fill="#ffffff" stroke="#ffffff" stroke-width="0.45" font-size="5.63" text-anchor="start" font-weight="bold" textLength="4" lengthAdjust="spacingAndGlyphs">22</text>
<text x="522.7" y="564.4" fill="#ffffff" stroke="#ffffff" stroke-width="0.45" font-size="5.63" text-anchor="start" font-weight="bold" textLength="11" lengthAdjust="spacingAndGlyphs">GB/T-25</text>
<text x="553" y="564.4" fill="#ffffff" stroke="#ffffff" stroke-width="0.45" font-size="4.49" text-anchor="start" font-weight="bold" textLength="6.4" lengthAdjust="spacingAndGlyphs">封头</text>
<text x="567.8" y="564.4" fill="#ffffff" stroke="#ffffff" stroke-width="0.45" font-size="5.63" text-anchor="start" font-weight="bold" textLength="15.3" lengthAdjust="spacingAndGlyphs">DN900×3</text>
<text x="600.3" y="564.4" fill="#ffffff" stroke="#ffffff" stroke-width="0.45" font-size="5.63" text-anchor="start" font-weight="bold" textLength="1.8" lengthAdjust="spacingAndGlyphs">1</text>
<text x="612" y="564.4" fill="#ffffff" stroke="#ffffff" stroke-width="0.45" font-size="5.63" text-anchor="start" font-weight="bold" textLength="13" lengthAdjust="spacingAndGlyphs">0Cr18Ni9</text>
<text x="656.5" y="564.4" fill="#ffffff" stroke="#ffffff" stroke-width="0.45" font-size="5.63" text-anchor="start" font-weight="bold" textLength="3" lengthAdjust="spacingAndGlyphs">35</text>
<rect x="380.5" y="419.5" width="115" height="141" stroke="#00ffff" stroke-width="1" fill="none"/>
<line x1="381" y1="430.5" x2="495" y2="430.5" stroke="#ffffff" stroke-width="1"/>
<line x1="381" y1="438.5" x2="495" y2="438.5" stroke="#ffffff" stroke-width="1"/>
<line x1="381" y1="445.5" x2="495" y2="445.5" stroke="#ffffff" stroke-width="1"/>
<line x1="381" y1="453.5" x2="495" y2="453.5" stroke="#ffffff" stroke-width="1"/>
<line x1="381" y1="461.5" x2="495" y2="461.5" stroke="#ffffff" stroke-width="1"/>
<line x1="381" y1="468.5" x2="495" y2="468.5" stroke="#ffffff" stroke-width="1"/>
<line x1="381" y1="476.5" x2="495" y2="476.5" stroke="#ffffff" stroke-width="1"/>
<line x1="381" y1="483.5" x2="495" y2="483.5" stroke="#ffffff" stroke-width="1"/>
<line x1="381" y1="491.5" x2="495" y2="491.5" stroke="#ffffff" stroke-width="1"/>
<line x1="381" y1="499.5" x2="495" y2="499.5" stroke="#ffffff" stroke-width="1"/>
<line x1="381" y1="506.5" x2="495" y2="506.5" stroke="#ffffff" stroke-width="1"/>
<line x1="381" y1="514.5" x2="495" y2="514.5" stroke="#ffffff" stroke-width="1"/>
<line x1="381" y1="522.5" x2="495" y2="522.5" stroke="#ffffff" stroke-width="1"/>
<line x1="381" y1="529.5" x2="495" y2="529.5" stroke="#ffffff" stroke-width="1"/>
<line x1="381" y1="537.5" x2="495" y2="537.5" stroke="#ffffff" stroke-width="1"/>
<line x1="381" y1="544.5" x2="495" y2="544.5" stroke="#ffffff" stroke-width="1"/>
<line x1="381" y1="552.5" x2="495" y2="552.5" stroke="#ffffff" stroke-width="1"/>
<line x1="395.5" y1="419.4" x2="395.5" y2="560.4" stroke="#ffffff" stroke-width="1"/>
<line x1="443.5" y1="419.4" x2="443.5" y2="560.4" stroke="#ffffff" stroke-width="1"/>
<line x1="476.5" y1="419.4" x2="476.5" y2="560.4" stroke="#ffffff" stroke-width="1"/>
<text x="423.8" y="416.1" fill="#ffffff" stroke="#ffffff" stroke-width="0.45" font-size="4.9" text-anchor="start" font-weight="bold" textLength="23" lengthAdjust="spacingAndGlyphs">图 纸 目 录</text>
<text x="382" y="427.3" fill="#ffffff" stroke="#ffffff" stroke-width="0.45" font-size="4.49" text-anchor="start" font-weight="bold" textLength="9.5" lengthAdjust="spacingAndGlyphs">序 号</text>
<text x="404.8" y="427.3" fill="#ffffff" stroke="#ffffff" stroke-width="0.45" font-size="4.49" text-anchor="start" font-weight="bold" textLength="2.5" lengthAdjust="spacingAndGlyphs">名</text>
<text x="425.8" y="427.3" fill="#ffffff" stroke="#ffffff" stroke-width="0.45" font-size="4.49" text-anchor="start" font-weight="bold" textLength="2.5" lengthAdjust="spacingAndGlyphs">称</text>
<text x="451.6" y="427.3" fill="#ffffff" stroke="#ffffff" stroke-width="0.45" font-size="4.49" text-anchor="start" font-weight="bold" textLength="16.5" lengthAdjust="spacingAndGlyphs">图   号</text>
<text x="480.7" y="427.3" fill="#ffffff" stroke="#ffffff" stroke-width="0.45" font-size="4.49" text-anchor="start" font-weight="bold" textLength="8.5" lengthAdjust="spacingAndGlyphs">张 数</text>
<text x="386.5" y="436.7" fill="#ffffff" stroke="#ffffff" stroke-width="0.45" font-size="5.63" text-anchor="start" font-weight="bold" textLength="2" lengthAdjust="spacingAndGlyphs">1</text>
<text x="399" y="436.7" fill="#ffffff" stroke="#ffffff" stroke-width="0.45" font-size="4.49" text-anchor="start" font-weight="bold" textLength="14" lengthAdjust="spacingAndGlyphs">夹层锅装配</text>
<text x="428.3" y="436.7" fill="#ffffff" stroke="#ffffff" stroke-width="0.45" font-size="4.49" text-anchor="start" font-weight="bold" textLength="8" lengthAdjust="spacingAndGlyphs">总图</text>
<text x="451" y="436.7" fill="#ffffff" stroke="#ffffff" stroke-width="0.45" font-size="5.63" text-anchor="start" font-weight="bold" textLength="19" lengthAdjust="spacingAndGlyphs">ZJCG500A-0</text>
<text x="484.9" y="436.7" fill="#ffffff" stroke="#ffffff" stroke-width="0.45" font-size="5.63" text-anchor="start" font-weight="bold" textLength="2" lengthAdjust="spacingAndGlyphs">2</text>
<text x="386.5" y="444.4" fill="#ffffff" stroke="#ffffff" stroke-width="0.45" font-size="5.63" text-anchor="start" font-weight="bold" textLength="2" lengthAdjust="spacingAndGlyphs">2</text>
<text x="399" y="444.3" fill="#ffffff" stroke="#ffffff" stroke-width="0.45" font-size="4.49" text-anchor="start" font-weight="bold" textLength="6.6" lengthAdjust="spacingAndGlyphs">支架</text>
<text x="428.3" y="444.3" fill="#ffffff" stroke="#ffffff" stroke-width="0.45" font-size="4.49" text-anchor="start" font-weight="bold" textLength="8" lengthAdjust="spacingAndGlyphs">部件</text>
<text x="451" y="444.4" fill="#ffffff" stroke="#ffffff" stroke-width="0.45" font-size="5.63" text-anchor="start" font-weight="bold" textLength="19" lengthAdjust="spacingAndGlyphs">ZJCG500A-1</text>
<text x="484.9" y="444.4" fill="#ffffff" stroke="#ffffff" stroke-width="0.45" font-size="5.63" text-anchor="start" font-weight="bold" textLength="2" lengthAdjust="spacingAndGlyphs">1</text>
<text x="386.5" y="452.0" fill="#ffffff" stroke="#ffffff" stroke-width="0.45" font-size="5.63" text-anchor="start" font-weight="bold" textLength="2" lengthAdjust="spacingAndGlyphs">3</text>
<text x="399" y="452.0" fill="#ffffff" stroke="#ffffff" stroke-width="0.45" font-size="4.49" text-anchor="start" font-weight="bold" textLength="13.2" lengthAdjust="spacingAndGlyphs">搅拌器架</text>
<text x="428.3" y="452.0" fill="#ffffff" stroke="#ffffff" stroke-width="0.45" font-size="4.49" text-anchor="start" font-weight="bold" textLength="8" lengthAdjust="spacingAndGlyphs">部件</text>
<text x="451" y="452.0" fill="#ffffff" stroke="#ffffff" stroke-width="0.45" font-size="5.63" text-anchor="start" font-weight="bold" textLength="19" lengthAdjust="spacingAndGlyphs">ZJCG500A-2</text>
<text x="484.9" y="452.0" fill="#ffffff" stroke="#ffffff" stroke-width="0.45" font-size="5.63" text-anchor="start" font-weight="bold" textLength="2" lengthAdjust="spacingAndGlyphs">1</text>
<text x="386.5" y="459.6" fill="#ffffff" stroke="#ffffff" stroke-width="0.45" font-size="5.63" text-anchor="start" font-weight="bold" textLength="2" lengthAdjust="spacingAndGlyphs">4</text>
<text x="399" y="459.6" fill="#ffffff" stroke="#ffffff" stroke-width="0.45" font-size="4.49" text-anchor="start" font-weight="bold" textLength="6.6" lengthAdjust="spacingAndGlyphs">锅盖</text>
<text x="428.3" y="459.6" fill="#ffffff" stroke="#ffffff" stroke-width="0.45" font-size="4.49" text-anchor="start" font-weight="bold" textLength="8" lengthAdjust="spacingAndGlyphs">零件</text>
<text x="451" y="459.6" fill="#ffffff" stroke="#ffffff" stroke-width="0.45" font-size="5.63" text-anchor="start" font-weight="bold" textLength="19" lengthAdjust="spacingAndGlyphs">ZJCG500A-3</text>
<text x="484.9" y="459.6" fill="#ffffff" stroke="#ffffff" stroke-width="0.45" font-size="5.63" text-anchor="start" font-weight="bold" textLength="2" lengthAdjust="spacingAndGlyphs">2</text>
<text x="386.5" y="467.2" fill="#ffffff" stroke="#ffffff" stroke-width="0.45" font-size="5.63" text-anchor="start" font-weight="bold" textLength="2" lengthAdjust="spacingAndGlyphs">5</text>
<text x="399" y="467.2" fill="#ffffff" stroke="#ffffff" stroke-width="0.45" font-size="4.49" text-anchor="start" font-weight="bold" textLength="13.2" lengthAdjust="spacingAndGlyphs">手轮组件</text>
<text x="428.3" y="467.2" fill="#ffffff" stroke="#ffffff" stroke-width="0.45" font-size="4.49" text-anchor="start" font-weight="bold" textLength="8" lengthAdjust="spacingAndGlyphs">部件</text>
<text x="451" y="467.2" fill="#ffffff" stroke="#ffffff" stroke-width="0.45" font-size="5.63" text-anchor="start" font-weight="bold" textLength="19" lengthAdjust="spacingAndGlyphs">ZJCG500A-4</text>
<text x="484.9" y="467.2" fill="#ffffff" stroke="#ffffff" stroke-width="0.45" font-size="5.63" text-anchor="start" font-weight="bold" textLength="2" lengthAdjust="spacingAndGlyphs">1</text>
<text x="386.5" y="474.9" fill="#ffffff" stroke="#ffffff" stroke-width="0.45" font-size="5.63" text-anchor="start" font-weight="bold" textLength="2" lengthAdjust="spacingAndGlyphs">6</text>
<text x="399" y="474.9" fill="#ffffff" stroke="#ffffff" stroke-width="0.45" font-size="4.49" text-anchor="start" font-weight="bold" textLength="9.9" lengthAdjust="spacingAndGlyphs">蜗轮箱</text>
<text x="428.3" y="474.9" fill="#ffffff" stroke="#ffffff" stroke-width="0.45" font-size="4.49" text-anchor="start" font-weight="bold" textLength="8" lengthAdjust="spacingAndGlyphs">部件</text>
<text x="451" y="474.9" fill="#ffffff" stroke="#ffffff" stroke-width="0.45" font-size="5.63" text-anchor="start" font-weight="bold" textLength="19" lengthAdjust="spacingAndGlyphs">ZJCG500A-5</text>
<text x="484.9" y="474.9" fill="#ffffff" stroke="#ffffff" stroke-width="0.45" font-size="5.63" text-anchor="start" font-weight="bold" textLength="2" lengthAdjust="spacingAndGlyphs">1</text>
<text x="386.5" y="482.5" fill="#ffffff" stroke="#ffffff" stroke-width="0.45" font-size="5.63" text-anchor="start" font-weight="bold" textLength="2" lengthAdjust="spacingAndGlyphs">7</text>
<text x="399" y="482.5" fill="#ffffff" stroke="#ffffff" stroke-width="0.45" font-size="4.49" text-anchor="start" font-weight="bold" textLength="9.9" lengthAdjust="spacingAndGlyphs">轴承座</text>
<text x="428.3" y="482.5" fill="#ffffff" stroke="#ffffff" stroke-width="0.45" font-size="4.49" text-anchor="start" font-weight="bold" textLength="8" lengthAdjust="spacingAndGlyphs">零件</text>
<text x="451" y="482.5" fill="#ffffff" stroke="#ffffff" stroke-width="0.45" font-size="5.63" text-anchor="start" font-weight="bold" textLength="19" lengthAdjust="spacingAndGlyphs">ZJCG500A-6</text>
<text x="484.9" y="482.5" fill="#ffffff" stroke="#ffffff" stroke-width="0.45" font-size="5.63" text-anchor="start" font-weight="bold" textLength="2" lengthAdjust="spacingAndGlyphs">2</text>
<text x="386.5" y="490.1" fill="#ffffff" stroke="#ffffff" stroke-width="0.45" font-size="5.63" text-anchor="start" font-weight="bold" textLength="2" lengthAdjust="spacingAndGlyphs">8</text>
<text x="399" y="490.1" fill="#ffffff" stroke="#ffffff" stroke-width="0.45" font-size="4.49" text-anchor="start" font-weight="bold" textLength="6.6" lengthAdjust="spacingAndGlyphs">支座</text>
<text x="428.3" y="490.1" fill="#ffffff" stroke="#ffffff" stroke-width="0.45" font-size="4.49" text-anchor="start" font-weight="bold" textLength="8" lengthAdjust="spacingAndGlyphs">部件</text>
<text x="451" y="490.1" fill="#ffffff" stroke="#ffffff" stroke-width="0.45" font-size="5.63" text-anchor="start" font-weight="bold" textLength="19" lengthAdjust="spacingAndGlyphs">ZJCG500A-7</text>
<text x="484.9" y="490.1" fill="#ffffff" stroke="#ffffff" stroke-width="0.45" font-size="5.63" text-anchor="start" font-weight="bold" textLength="2" lengthAdjust="spacingAndGlyphs">1</text>
<text x="386.5" y="497.8" fill="#ffffff" stroke="#ffffff" stroke-width="0.45" font-size="5.63" text-anchor="start" font-weight="bold" textLength="2" lengthAdjust="spacingAndGlyphs">9</text>
<text x="399" y="497.7" fill="#ffffff" stroke="#ffffff" stroke-width="0.45" font-size="4.49" text-anchor="start" font-weight="bold" textLength="13.2" lengthAdjust="spacingAndGlyphs">锅体组件</text>
<text x="428.3" y="497.7" fill="#ffffff" stroke="#ffffff" stroke-width="0.45" font-size="4.49" text-anchor="start" font-weight="bold" textLength="8" lengthAdjust="spacingAndGlyphs">部件</text>
<text x="451" y="497.8" fill="#ffffff" stroke="#ffffff" stroke-width="0.45" font-size="5.63" text-anchor="start" font-weight="bold" textLength="19" lengthAdjust="spacingAndGlyphs">ZJCG500A-8</text>
<text x="484.9" y="497.8" fill="#ffffff" stroke="#ffffff" stroke-width="0.45" font-size="5.63" text-anchor="start" font-weight="bold" textLength="2" lengthAdjust="spacingAndGlyphs">2</text>
<text x="385.8" y="505.4" fill="#ffffff" stroke="#ffffff" stroke-width="0.45" font-size="5.63" text-anchor="start" font-weight="bold" textLength="3.5" lengthAdjust="spacingAndGlyphs">10</text>
<text x="399" y="505.4" fill="#ffffff" stroke="#ffffff" stroke-width="0.45" font-size="4.49" text-anchor="start" font-weight="bold" textLength="9.9" lengthAdjust="spacingAndGlyphs">联轴器</text>
<text x="428.3" y="505.4" fill="#ffffff" stroke="#ffffff" stroke-width="0.45" font-size="4.49" text-anchor="start" font-weight="bold" textLength="8" lengthAdjust="spacingAndGlyphs">零件</text>
<text x="451" y="505.4" fill="#ffffff" stroke="#ffffff" stroke-width="0.45" font-size="5.63" text-anchor="start" font-weight="bold" textLength="19" lengthAdjust="spacingAndGlyphs">ZJCG500A-9</text>
<text x="484.9" y="505.4" fill="#ffffff" stroke="#ffffff" stroke-width="0.45" font-size="5.63" text-anchor="start" font-weight="bold" textLength="2" lengthAdjust="spacingAndGlyphs">1</text>
<text x="385.8" y="513.0" fill="#ffffff" stroke="#ffffff" stroke-width="0.45" font-size="5.63" text-anchor="start" font-weight="bold" textLength="3.5" lengthAdjust="spacingAndGlyphs">11</text>
<text x="399" y="513.0" fill="#ffffff" stroke="#ffffff" stroke-width="0.45" font-size="4.49" text-anchor="start" font-weight="bold" textLength="9.9" lengthAdjust="spacingAndGlyphs">轴承座</text>
<text x="428.3" y="513.0" fill="#ffffff" stroke="#ffffff" stroke-width="0.45" font-size="4.49" text-anchor="start" font-weight="bold" textLength="8" lengthAdjust="spacingAndGlyphs">部件</text>
<text x="451" y="513.0" fill="#ffffff" stroke="#ffffff" stroke-width="0.45" font-size="5.63" text-anchor="start" font-weight="bold" textLength="19" lengthAdjust="spacingAndGlyphs">ZJCG500A-10</text>
<text x="484.9" y="513.0" fill="#ffffff" stroke="#ffffff" stroke-width="0.45" font-size="5.63" text-anchor="start" font-weight="bold" textLength="2" lengthAdjust="spacingAndGlyphs">1</text>
<text x="385.8" y="520.7" fill="#ffffff" stroke="#ffffff" stroke-width="0.45" font-size="5.63" text-anchor="start" font-weight="bold" textLength="3.5" lengthAdjust="spacingAndGlyphs">12</text>
<text x="399" y="520.6" fill="#ffffff" stroke="#ffffff" stroke-width="0.45" font-size="4.49" text-anchor="start" font-weight="bold" textLength="9.9" lengthAdjust="spacingAndGlyphs">电机座</text>
<text x="428.3" y="520.6" fill="#ffffff" stroke="#ffffff" stroke-width="0.45" font-size="4.49" text-anchor="start" font-weight="bold" textLength="8" lengthAdjust="spacingAndGlyphs">部件</text>
<text x="451" y="520.7" fill="#ffffff" stroke="#ffffff" stroke-width="0.45" font-size="5.63" text-anchor="start" font-weight="bold" textLength="19" lengthAdjust="spacingAndGlyphs">ZJCG500A-11</text>
<text x="484.9" y="520.7" fill="#ffffff" stroke="#ffffff" stroke-width="0.45" font-size="5.63" text-anchor="start" font-weight="bold" textLength="2" lengthAdjust="spacingAndGlyphs">2</text>
<text x="385.8" y="528.3" fill="#ffffff" stroke="#ffffff" stroke-width="0.45" font-size="5.63" text-anchor="start" font-weight="bold" textLength="3.5" lengthAdjust="spacingAndGlyphs">13</text>
<text x="399" y="528.3" fill="#ffffff" stroke="#ffffff" stroke-width="0.45" font-size="4.49" text-anchor="start" font-weight="bold" textLength="3.3" lengthAdjust="spacingAndGlyphs">轴</text>
<text x="428.3" y="528.3" fill="#ffffff" stroke="#ffffff" stroke-width="0.45" font-size="4.49" text-anchor="start" font-weight="bold" textLength="8" lengthAdjust="spacingAndGlyphs">部件</text>
<text x="451" y="528.3" fill="#ffffff" stroke="#ffffff" stroke-width="0.45" font-size="5.63" text-anchor="start" font-weight="bold" textLength="19" lengthAdjust="spacingAndGlyphs">ZJCG500A-12</text>
<text x="484.9" y="528.3" fill="#ffffff" stroke="#ffffff" stroke-width="0.45" font-size="5.63" text-anchor="start" font-weight="bold" textLength="2" lengthAdjust="spacingAndGlyphs">1</text>
<text x="385.8" y="535.9" fill="#ffffff" stroke="#ffffff" stroke-width="0.45" font-size="5.63" text-anchor="start" font-weight="bold" textLength="3.5" lengthAdjust="spacingAndGlyphs">14</text>
<text x="399" y="535.9" fill="#ffffff" stroke="#ffffff" stroke-width="0.45" font-size="4.49" text-anchor="start" font-weight="bold" textLength="6.6" lengthAdjust="spacingAndGlyphs">蜗轮</text>
<text x="428.3" y="535.9" fill="#ffffff" stroke="#ffffff" stroke-width="0.45" font-size="4.49" text-anchor="start" font-weight="bold" textLength="8" lengthAdjust="spacingAndGlyphs">部件</text>
<text x="451" y="535.9" fill="#ffffff" stroke="#ffffff" stroke-width="0.45" font-size="5.63" text-anchor="start" font-weight="bold" textLength="19" lengthAdjust="spacingAndGlyphs">ZJCG500A-13</text>
<text x="484.9" y="535.9" fill="#ffffff" stroke="#ffffff" stroke-width="0.45" font-size="5.63" text-anchor="start" font-weight="bold" textLength="2" lengthAdjust="spacingAndGlyphs">1</text>
<text x="385.8" y="543.5" fill="#ffffff" stroke="#ffffff" stroke-width="0.45" font-size="5.63" text-anchor="start" font-weight="bold" textLength="3.5" lengthAdjust="spacingAndGlyphs">15</text>
<text x="399" y="543.5" fill="#ffffff" stroke="#ffffff" stroke-width="0.45" font-size="4.49" text-anchor="start" font-weight="bold" textLength="6.6" lengthAdjust="spacingAndGlyphs">蜗杆</text>
<text x="428.3" y="543.5" fill="#ffffff" stroke="#ffffff" stroke-width="0.45" font-size="4.49" text-anchor="start" font-weight="bold" textLength="8" lengthAdjust="spacingAndGlyphs">部件</text>
<text x="451" y="543.5" fill="#ffffff" stroke="#ffffff" stroke-width="0.45" font-size="5.63" text-anchor="start" font-weight="bold" textLength="19" lengthAdjust="spacingAndGlyphs">ZJCG500A-14</text>
<text x="484.9" y="543.5" fill="#ffffff" stroke="#ffffff" stroke-width="0.45" font-size="5.63" text-anchor="start" font-weight="bold" textLength="2" lengthAdjust="spacingAndGlyphs">2</text>
<text x="385.8" y="551.2" fill="#ffffff" stroke="#ffffff" stroke-width="0.45" font-size="5.63" text-anchor="start" font-weight="bold" textLength="3.5" lengthAdjust="spacingAndGlyphs">16</text>
<text x="399" y="551.2" fill="#ffffff" stroke="#ffffff" stroke-width="0.45" font-size="4.49" text-anchor="start" font-weight="bold" textLength="13.2" lengthAdjust="spacingAndGlyphs">轴承盖组</text>
<text x="428.3" y="551.2" fill="#ffffff" stroke="#ffffff" stroke-width="0.45" font-size="4.49" text-anchor="start" font-weight="bold" textLength="8" lengthAdjust="spacingAndGlyphs">零件</text>
<text x="451" y="551.2" fill="#ffffff" stroke="#ffffff" stroke-width="0.45" font-size="5.63" text-anchor="start" font-weight="bold" textLength="19" lengthAdjust="spacingAndGlyphs">ZJCG500A-15</text>
<text x="484.9" y="551.2" fill="#ffffff" stroke="#ffffff" stroke-width="0.45" font-size="5.63" text-anchor="start" font-weight="bold" textLength="2" lengthAdjust="spacingAndGlyphs">1</text>
<text x="385.8" y="558.8" fill="#ffffff" stroke="#ffffff" stroke-width="0.45" font-size="5.63" text-anchor="start" font-weight="bold" textLength="3.5" lengthAdjust="spacingAndGlyphs">17</text>
<text x="399" y="558.8" fill="#ffffff" stroke="#ffffff" stroke-width="0.45" font-size="4.49" text-anchor="start" font-weight="bold" textLength="13.2" lengthAdjust="spacingAndGlyphs">蜗轮箱体</text>
<text x="428.3" y="558.8" fill="#ffffff" stroke="#ffffff" stroke-width="0.45" font-size="4.49" text-anchor="start" font-weight="bold" textLength="8" lengthAdjust="spacingAndGlyphs">部件</text>
<text x="451" y="558.8" fill="#ffffff" stroke="#ffffff" stroke-width="0.45" font-size="5.63" text-anchor="start" font-weight="bold" textLength="19" lengthAdjust="spacingAndGlyphs">ZJCG500A-16</text>
<text x="484.9" y="558.8" fill="#ffffff" stroke="#ffffff" stroke-width="0.45" font-size="5.63" text-anchor="start" font-weight="bold" textLength="2" lengthAdjust="spacingAndGlyphs">1</text>
<rect x="61.5" y="639.5" width="513.0" height="48.0" stroke="#ffffff" stroke-width="1" fill="none"/>
<line x1="129.5" y1="639.5" x2="129.5" y2="687.5" stroke="#ffffff" stroke-width="1"/>
<line x1="164.5" y1="639.5" x2="164.5" y2="687.5" stroke="#ffffff" stroke-width="1"/>
<line x1="198" y1="639.5" x2="198" y2="687.5" stroke="#ffffff" stroke-width="1"/>
<line x1="232.5" y1="639.5" x2="232.5" y2="687.5" stroke="#ffffff" stroke-width="1"/>
<line x1="266.5" y1="639.5" x2="266.5" y2="687.5" stroke="#ffffff" stroke-width="1"/>
<line x1="300.5" y1="639.5" x2="300.5" y2="687.5" stroke="#ffffff" stroke-width="1"/>
<line x1="335" y1="639.5" x2="335" y2="687.5" stroke="#ffffff" stroke-width="1"/>
<line x1="369" y1="639.5" x2="369" y2="687.5" stroke="#ffffff" stroke-width="1"/>
<line x1="403" y1="639.5" x2="403" y2="687.5" stroke="#ffffff" stroke-width="1"/>
<line x1="437" y1="639.5" x2="437" y2="687.5" stroke="#ffffff" stroke-width="1"/>
<line x1="471.5" y1="639.5" x2="471.5" y2="687.5" stroke="#ffffff" stroke-width="1"/>
<line x1="540" y1="639.5" x2="540" y2="687.5" stroke="#ffffff" stroke-width="1"/>
<rect x="65.3" y="641.6" width="62.5" height="44.60000000000002" stroke="#00ffff" stroke-width="1" fill="none"/>
<rect x="98.3" y="680.2" width="29.5" height="6.0" stroke="none" stroke-width="0" fill="#ffffff"/>
<rect x="108.9" y="682.9" width="2.7" height="2.4" stroke="none" stroke-width="0" fill="#000"/>
<rect x="114.5" y="682.9" width="3.5" height="2.4" stroke="none" stroke-width="0" fill="#000"/>
<rect x="122.5" y="682.9" width="3.8" height="2.4" stroke="none" stroke-width="0" fill="#000"/>
<line x1="98.3" y1="680.7" x2="127.8" y2="680.7" stroke="#00ffff" stroke-width="1"/>
<polygon points="113.2,647.5 113.2,644.4000000000001 117.7,644.4000000000001 117.7,643.2 120.2,643.2 120.2,644.0 123.2,644.0 123.2,646.4250000000001 118.2,646.4250000000001 118.2,647.5" stroke="none" stroke-width="0" fill="#ffffff"/>
<rect x="124.5" y="642.1" width="2.2" height="1.8" stroke="none" stroke-width="0" fill="#ffffff"/>
<rect x="133.5" y="641.6" width="29.5" height="44.60000000000002" stroke="#00ffff" stroke-width="1" fill="none"/>
<rect x="133.5" y="680.7" width="29.5" height="6.0" stroke="none" stroke-width="0" fill="#ffffff"/>
<rect x="144.1" y="683.4" width="2.7" height="2.4" stroke="none" stroke-width="0" fill="#000"/>
<rect x="149.7" y="683.4" width="3.5" height="2.4" stroke="none" stroke-width="0" fill="#000"/>
<rect x="157.7" y="683.4" width="3.8" height="2.4" stroke="none" stroke-width="0" fill="#000"/>
<line x1="133.5" y1="681.2" x2="163" y2="681.2" stroke="#00ffff" stroke-width="1"/>
<polygon points="151,676.8 151,673.7 155.5,673.7 155.5,672.5 158.0,672.5 158.0,673.3 161,673.3 161,675.725 156.0,675.725 156.0,676.8" stroke="none" stroke-width="0" fill="#ffffff"/>
<rect x="159.7" y="642.1" width="2.2" height="1.8" stroke="none" stroke-width="0" fill="#ffffff"/>
<rect x="167.5" y="641.6" width="29.30000000000001" height="44.60000000000002" stroke="#00ffff" stroke-width="1" fill="none"/>
<rect x="167.5" y="680.7" width="29.30000000000001" height="6.0" stroke="none" stroke-width="0" fill="#ffffff"/>
<rect x="178.0" y="683.4" width="2.6" height="2.4" stroke="none" stroke-width="0" fill="#000"/>
<rect x="183.6" y="683.4" width="3.5" height="2.4" stroke="none" stroke-width="0" fill="#000"/>
<rect x="191.5" y="683.4" width="3.8" height="2.4" stroke="none" stroke-width="0" fill="#000"/>
<line x1="167.5" y1="681.2" x2="196.8" y2="681.2" stroke="#00ffff" stroke-width="1"/>
<polygon points="176,678.5 176,675.4000000000001 180.5,675.4000000000001 180.5,674.2 183.0,674.2 183.0,675.0 186,675.0 186,677.4250000000001 181.0,677.4250000000001 181.0,678.5" stroke="none" stroke-width="0" fill="#ffffff"/>
<rect x="193.5" y="642.1" width="2.2" height="1.8" stroke="none" stroke-width="0" fill="#ffffff"/>
<rect x="201.5" y="641.6" width="29.900000000000006" height="44.60000000000002" stroke="#00ffff" stroke-width="1" fill="none"/>
<rect x="201.5" y="680.7" width="29.900000000000006" height="6.0" stroke="none" stroke-width="0" fill="#ffffff"/>
<rect x="212.3" y="683.4" width="2.7" height="2.4" stroke="none" stroke-width="0" fill="#000"/>
<rect x="217.9" y="683.4" width="3.6" height="2.4" stroke="none" stroke-width="0" fill="#000"/>
<rect x="226.0" y="683.4" width="3.9" height="2.4" stroke="none" stroke-width="0" fill="#000"/>
<line x1="201.5" y1="681.2" x2="231.4" y2="681.2" stroke="#00ffff" stroke-width="1"/>
<polygon points="210,679.3 210,676.2 214.5,676.2 214.5,675 217.0,675 217.0,675.8 220,675.8 220,678.225 215.0,678.225 215.0,679.3" stroke="none" stroke-width="0" fill="#ffffff"/>
<rect x="228.1" y="642.1" width="2.2" height="1.8" stroke="none" stroke-width="0" fill="#ffffff"/>
<rect x="235.5" y="641.6" width="29.899999999999977" height="44.60000000000002" stroke="#00ffff" stroke-width="1" fill="none"/>
<rect x="235.5" y="680.7" width="29.899999999999977" height="6.0" stroke="none" stroke-width="0" fill="#ffffff"/>
<rect x="246.3" y="683.4" width="2.7" height="2.4" stroke="none" stroke-width="0" fill="#000"/>
<rect x="251.9" y="683.4" width="3.6" height="2.4" stroke="none" stroke-width="0" fill="#000"/>
<rect x="260.0" y="683.4" width="3.9" height="2.4" stroke="none" stroke-width="0" fill="#000"/>
<line x1="235.5" y1="681.2" x2="265.4" y2="681.2" stroke="#00ffff" stroke-width="1"/>
<polygon points="244,679.3 244,676.2 248.5,676.2 248.5,675 251.0,675 251.0,675.8 254,675.8 254,678.225 249.0,678.225 249.0,679.3" stroke="none" stroke-width="0" fill="#ffffff"/>
<rect x="262.09999999999997" y="642.1" width="2.2" height="1.8" stroke="none" stroke-width="0" fill="#ffffff"/>
<rect x="270.4" y="641.6" width="29.0" height="44.60000000000002" stroke="#00ffff" stroke-width="1" fill="none"/>
<rect x="270.4" y="680.7" width="29.0" height="6.0" stroke="none" stroke-width="0" fill="#ffffff"/>
<rect x="280.8" y="683.4" width="2.6" height="2.4" stroke="none" stroke-width="0" fill="#000"/>
<rect x="286.3" y="683.4" width="3.5" height="2.4" stroke="none" stroke-width="0" fill="#000"/>
<rect x="294.2" y="683.4" width="3.8" height="2.4" stroke="none" stroke-width="0" fill="#000"/>
<line x1="270.4" y1="681.2" x2="299.4" y2="681.2" stroke="#00ffff" stroke-width="1"/>
<polygon points="278,679.9 278,676.8000000000001 282.5,676.8000000000001 282.5,675.6 285.0,675.6 285.0,676.4 288,676.4 288,678.825 283.0,678.825 283.0,679.9" stroke="none" stroke-width="0" fill="#ffffff"/>
<rect x="296.09999999999997" y="642.1" width="2.2" height="1.8" stroke="none" stroke-width="0" fill="#ffffff"/>
<rect x="304.4" y="641.6" width="29.600000000000023" height="44.60000000000002" stroke="#00ffff" stroke-width="1" fill="none"/>
<rect x="304.4" y="680.7" width="29.600000000000023" height="6.0" stroke="none" stroke-width="0" fill="#ffffff"/>
<rect x="315.1" y="683.4" width="2.7" height="2.4" stroke="none" stroke-width="0" fill="#000"/>
<rect x="320.7" y="683.4" width="3.6" height="2.4" stroke="none" stroke-width="0" fill="#000"/>
<rect x="328.7" y="683.4" width="3.8" height="2.4" stroke="none" stroke-width="0" fill="#000"/>
<line x1="304.4" y1="681.2" x2="334" y2="681.2" stroke="#00ffff" stroke-width="1"/>
<polygon points="313.3,679.9 313.3,676.8000000000001 317.8,676.8000000000001 317.8,675.6 320.3,675.6 320.3,676.4 323.3,676.4 323.3,678.825 318.3,678.825 318.3,679.9" stroke="none" stroke-width="0" fill="#ffffff"/>
<rect x="330.7" y="642.1" width="2.2" height="1.8" stroke="none" stroke-width="0" fill="#ffffff"/>
<rect x="338.3" y="641.6" width="29.69999999999999" height="44.60000000000002" stroke="#00ffff" stroke-width="1" fill="none"/>
<rect x="338.3" y="680.7" width="29.69999999999999" height="6.0" stroke="none" stroke-width="0" fill="#ffffff"/>
<rect x="349.0" y="683.4" width="2.7" height="2.4" stroke="none" stroke-width="0" fill="#000"/>
<rect x="354.6" y="683.4" width="3.6" height="2.4" stroke="none" stroke-width="0" fill="#000"/>
<rect x="362.7" y="683.4" width="3.9" height="2.4" stroke="none" stroke-width="0" fill="#000"/>
<line x1="338.3" y1="681.2" x2="368" y2="681.2" stroke="#00ffff" stroke-width="1"/>
<polygon points="347.5,679.9 347.5,676.8000000000001 352.0,676.8000000000001 352.0,675.6 354.5,675.6 354.5,676.4 357.5,676.4 357.5,678.825 352.5,678.825 352.5,679.9" stroke="none" stroke-width="0" fill="#ffffff"/>
<rect x="364.7" y="642.1" width="2.2" height="1.8" stroke="none" stroke-width="0" fill="#ffffff"/>
<rect x="372.3" y="641.6" width="29.69999999999999" height="44.60000000000002" stroke="#00ffff" stroke-width="1" fill="none"/>
<rect x="372.3" y="680.7" width="29.69999999999999" height="6.0" stroke="none" stroke-width="0" fill="#ffffff"/>
<rect x="383.0" y="683.4" width="2.7" height="2.4" stroke="none" stroke-width="0" fill="#000"/>
<rect x="388.6" y="683.4" width="3.6" height="2.4" stroke="none" stroke-width="0" fill="#000"/>
<rect x="396.7" y="683.4" width="3.9" height="2.4" stroke="none" stroke-width="0" fill="#000"/>
<line x1="372.3" y1="681.2" x2="402" y2="681.2" stroke="#00ffff" stroke-width="1"/>
<polygon points="381.5,679.9 381.5,676.8000000000001 386.0,676.8000000000001 386.0,675.6 388.5,675.6 388.5,676.4 391.5,676.4 391.5,678.825 386.5,678.825 386.5,679.9" stroke="none" stroke-width="0" fill="#ffffff"/>
<rect x="398.7" y="642.1" width="2.2" height="1.8" stroke="none" stroke-width="0" fill="#ffffff"/>
<rect x="406.3" y="641.6" width="29.69999999999999" height="44.60000000000002" stroke="#00ffff" stroke-width="1" fill="none"/>
<rect x="406.3" y="680.7" width="29.69999999999999" height="6.0" stroke="none" stroke-width="0" fill="#ffffff"/>
<rect x="417.0" y="683.4" width="2.7" height="2.4" stroke="none" stroke-width="0" fill="#000"/>
<rect x="422.6" y="683.4" width="3.6" height="2.4" stroke="none" stroke-width="0" fill="#000"/>
<rect x="430.7" y="683.4" width="3.9" height="2.4" stroke="none" stroke-width="0" fill="#000"/>
<line x1="406.3" y1="681.2" x2="436" y2="681.2" stroke="#00ffff" stroke-width="1"/>
<polygon points="415.5,679.9 415.5,676.8000000000001 420.0,676.8000000000001 420.0,675.6 422.5,675.6 422.5,676.4 425.5,676.4 425.5,678.825 420.5,678.825 420.5,679.9" stroke="none" stroke-width="0" fill="#ffffff"/>
<rect x="432.7" y="642.1" width="2.2" height="1.8" stroke="none" stroke-width="0" fill="#ffffff"/>
<rect x="440.3" y="641.6" width="29.69999999999999" height="44.60000000000002" stroke="#00ffff" stroke-width="1" fill="none"/>
<rect x="440.3" y="680.7" width="29.69999999999999" height="6.0" stroke="none" stroke-width="0" fill="#ffffff"/>
<rect x="451.0" y="683.4" width="2.7" height="2.4" stroke="none" stroke-width="0" fill="#000"/>
<rect x="456.6" y="683.4" width="3.6" height="2.4" stroke="none" stroke-width="0" fill="#000"/>
<rect x="464.7" y="683.4" width="3.9" height="2.4" stroke="none" stroke-width="0" fill="#000"/>
<line x1="440.3" y1="681.2" x2="470" y2="681.2" stroke="#00ffff" stroke-width="1"/>
<polygon points="449.5,679.9 449.5,676.8000000000001 454.0,676.8000000000001 454.0,675.6 456.5,675.6 456.5,676.4 459.5,676.4 459.5,678.825 454.5,678.825 454.5,679.9" stroke="none" stroke-width="0" fill="#ffffff"/>
<rect x="466.7" y="642.1" width="2.2" height="1.8" stroke="none" stroke-width="0" fill="#ffffff"/>
<rect x="475.4" y="641.6" width="63.30000000000007" height="44.60000000000002" stroke="#00ffff" stroke-width="1" fill="none"/>
<rect x="509.20000000000005" y="680.2" width="29.5" height="6.0" stroke="none" stroke-width="0" fill="#ffffff"/>
<rect x="519.8" y="682.9" width="2.7" height="2.4" stroke="none" stroke-width="0" fill="#000"/>
<rect x="525.4" y="682.9" width="3.5" height="2.4" stroke="none" stroke-width="0" fill="#000"/>
<rect x="533.4" y="682.9" width="3.8" height="2.4" stroke="none" stroke-width="0" fill="#000"/>
<line x1="509.20000000000005" y1="680.7" x2="538.7" y2="680.7" stroke="#00ffff" stroke-width="1"/>
<rect x="535.4000000000001" y="642.1" width="2.2" height="1.8" stroke="none" stroke-width="0" fill="#ffffff"/>
<rect x="543" y="641.6" width="30.600000000000023" height="44.60000000000002" stroke="#00ffff" stroke-width="1" fill="none"/>
<rect x="543" y="680.7" width="30.600000000000023" height="6.0" stroke="none" stroke-width="0" fill="#ffffff"/>
<rect x="554.0" y="683.4" width="2.8" height="2.4" stroke="none" stroke-width="0" fill="#000"/>
<rect x="559.8" y="683.4" width="3.7" height="2.4" stroke="none" stroke-width="0" fill="#000"/>
<rect x="568.1" y="683.4" width="4.0" height="2.4" stroke="none" stroke-width="0" fill="#000"/>
<line x1="543" y1="681.2" x2="573.6" y2="681.2" stroke="#00ffff" stroke-width="1"/>
<polygon points="553,679.9 553,676.8000000000001 557.5,676.8000000000001 557.5,675.6 560.0,675.6 560.0,676.4 563,676.4 563,678.825 558.0,678.825 558.0,679.9" stroke="none" stroke-width="0" fill="#ffffff"/>
<rect x="570.3000000000001" y="642.1" width="2.2" height="1.8" stroke="none" stroke-width="0" fill="#ffffff"/>
<rect x="61.5" y="687.5" width="410.0" height="48.799999999999955" stroke="#ffffff" stroke-width="1" fill="none"/>
<line x1="129.5" y1="687.5" x2="129.5" y2="736.3" stroke="#ffffff" stroke-width="1"/>
<line x1="198" y1="687.5" x2="198" y2="736.3" stroke="#ffffff" stroke-width="1"/>
<line x1="266.5" y1="687.5" x2="266.5" y2="736.3" stroke="#ffffff" stroke-width="1"/>
<line x1="335" y1="687.5" x2="335" y2="736.3" stroke="#ffffff" stroke-width="1"/>
<line x1="403" y1="687.5" x2="403" y2="736.3" stroke="#ffffff" stroke-width="1"/>
<rect x="539.5" y="687.5" width="69.3" height="48.799999999999955" stroke="#ffffff" stroke-width="1" fill="none"/>
<rect x="65.3" y="689.6" width="62.5" height="45.19999999999993" stroke="#00ffff" stroke-width="1" fill="none"/>
<rect x="98.3" y="728.8" width="29.5" height="6.0" stroke="none" stroke-width="0" fill="#ffffff"/>
<rect x="108.9" y="731.5" width="2.7" height="2.4" stroke="none" stroke-width="0" fill="#000"/>
<rect x="114.5" y="731.5" width="3.5" height="2.4" stroke="none" stroke-width="0" fill="#000"/>
<rect x="122.5" y="731.5" width="3.8" height="2.4" stroke="none" stroke-width="0" fill="#000"/>
<line x1="98.3" y1="729.3" x2="127.8" y2="729.3" stroke="#00ffff" stroke-width="1"/>
<polygon points="113.2,696.0999999999999 113.2,693.0 117.7,693.0 117.7,691.8 120.2,691.8 120.2,692.5999999999999 123.2,692.5999999999999 123.2,695.025 118.2,695.025 118.2,696.0999999999999" stroke="none" stroke-width="0" fill="#ffffff"/>
<rect x="124.5" y="690.1" width="2.2" height="1.8" stroke="none" stroke-width="0" fill="#ffffff"/>
<rect x="133.5" y="689.6" width="63.30000000000001" height="45.19999999999993" stroke="#00ffff" stroke-width="1" fill="none"/>
<rect x="167.3" y="728.8" width="29.5" height="6.0" stroke="none" stroke-width="0" fill="#ffffff"/>
<rect x="177.9" y="731.5" width="2.7" height="2.4" stroke="none" stroke-width="0" fill="#000"/>
<rect x="183.5" y="731.5" width="3.5" height="2.4" stroke="none" stroke-width="0" fill="#000"/>
<rect x="191.5" y="731.5" width="3.8" height="2.4" stroke="none" stroke-width="0" fill="#000"/>
<line x1="167.3" y1="729.3" x2="196.8" y2="729.3" stroke="#00ffff" stroke-width="1"/>
<rect x="175.8" y="711.3" width="21" height="17.5" stroke="none" stroke-width="0" fill="#ffffff"/>
<line x1="177.8" y1="713.8" x2="196.8" y2="713.8" stroke="#000" stroke-width="1" stroke-dasharray="1 2"/>
<line x1="177.8" y1="717.2" x2="196.8" y2="717.2" stroke="#000" stroke-width="1" stroke-dasharray="1 2"/>
<line x1="177.8" y1="720.6" x2="196.8" y2="720.6" stroke="#000" stroke-width="1" stroke-dasharray="1 2"/>
<line x1="177.8" y1="724.0" x2="196.8" y2="724.0" stroke="#000" stroke-width="1" stroke-dasharray="1 2"/>
<line x1="177.8" y1="727.4" x2="196.8" y2="727.4" stroke="#000" stroke-width="1" stroke-dasharray="1 2"/>
<polygon points="181,696.0999999999999 181,693.0 185.5,693.0 185.5,691.8 188.0,691.8 188.0,692.5999999999999 191,692.5999999999999 191,695.025 186.0,695.025 186.0,696.0999999999999" stroke="none" stroke-width="0" fill="#ffffff"/>
<rect x="193.5" y="690.1" width="2.2" height="1.8" stroke="none" stroke-width="0" fill="#ffffff"/>
<rect x="201.5" y="689.6" width="63.89999999999998" height="45.19999999999993" stroke="#00ffff" stroke-width="1" fill="none"/>
<rect x="235.89999999999998" y="728.8" width="29.5" height="6.0" stroke="none" stroke-width="0" fill="#ffffff"/>
<rect x="246.5" y="731.5" width="2.7" height="2.4" stroke="none" stroke-width="0" fill="#000"/>
<rect x="252.1" y="731.5" width="3.5" height="2.4" stroke="none" stroke-width="0" fill="#000"/>
<rect x="260.1" y="731.5" width="3.8" height="2.4" stroke="none" stroke-width="0" fill="#000"/>
<line x1="235.89999999999998" y1="729.3" x2="265.4" y2="729.3" stroke="#00ffff" stroke-width="1"/>
<rect x="244.39999999999998" y="711.3" width="21" height="17.5" stroke="none" stroke-width="0" fill="#ffffff"/>
<line x1="246.39999999999998" y1="713.8" x2="265.4" y2="713.8" stroke="#000" stroke-width="1" stroke-dasharray="1 2"/>
<line x1="246.39999999999998" y1="717.2" x2="265.4" y2="717.2" stroke="#000" stroke-width="1" stroke-dasharray="1 2"/>
<line x1="246.39999999999998" y1="720.6" x2="265.4" y2="720.6" stroke="#000" stroke-width="1" stroke-dasharray="1 2"/>
<line x1="246.39999999999998" y1="724.0" x2="265.4" y2="724.0" stroke="#000" stroke-width="1" stroke-dasharray="1 2"/>
<line x1="246.39999999999998" y1="727.4" x2="265.4" y2="727.4" stroke="#000" stroke-width="1" stroke-dasharray="1 2"/>
<polygon points="221,733.0999999999999 221,730.0 225.5,730.0 225.5,728.8 228.0,728.8 228.0,729.5999999999999 231,729.5999999999999 231,732.025 226.0,732.025 226.0,733.0999999999999" stroke="none" stroke-width="0" fill="#ffffff"/>
<rect x="262.09999999999997" y="690.1" width="2.2" height="1.8" stroke="none" stroke-width="0" fill="#ffffff"/>
<rect x="270.4" y="689.6" width="63.200000000000045" height="45.19999999999993" stroke="#00ffff" stroke-width="1" fill="none"/>
<rect x="304.1" y="728.8" width="29.5" height="6.0" stroke="none" stroke-width="0" fill="#ffffff"/>
<rect x="314.7" y="731.5" width="2.7" height="2.4" stroke="none" stroke-width="0" fill="#000"/>
<rect x="320.3" y="731.5" width="3.5" height="2.4" stroke="none" stroke-width="0" fill="#000"/>
<rect x="328.3" y="731.5" width="3.8" height="2.4" stroke="none" stroke-width="0" fill="#000"/>
<line x1="304.1" y1="729.3" x2="333.6" y2="729.3" stroke="#00ffff" stroke-width="1"/>
<polygon points="318.2,697.9 318.2,694.8000000000001 322.7,694.8000000000001 322.7,693.6 325.2,693.6 325.2,694.4 328.2,694.4 328.2,696.825 323.2,696.825 323.2,697.9" stroke="none" stroke-width="0" fill="#ffffff"/>
<rect x="330.3" y="690.1" width="2.2" height="1.8" stroke="none" stroke-width="0" fill="#ffffff"/>
<rect x="338.3" y="689.6" width="63.099999999999966" height="45.19999999999993" stroke="#00ffff" stroke-width="1" fill="none"/>
<rect x="371.9" y="728.8" width="29.5" height="6.0" stroke="none" stroke-width="0" fill="#ffffff"/>
<rect x="382.5" y="731.5" width="2.7" height="2.4" stroke="none" stroke-width="0" fill="#000"/>
<rect x="388.1" y="731.5" width="3.5" height="2.4" stroke="none" stroke-width="0" fill="#000"/>
<rect x="396.1" y="731.5" width="3.8" height="2.4" stroke="none" stroke-width="0" fill="#000"/>
<line x1="371.9" y1="729.3" x2="401.4" y2="729.3" stroke="#00ffff" stroke-width="1"/>
<polygon points="386,696.6999999999999 386,693.6 390.5,693.6 390.5,692.4 393.0,692.4 393.0,693.1999999999999 396,693.1999999999999 396,695.625 391.0,695.625 391.0,696.6999999999999" stroke="none" stroke-width="0" fill="#ffffff"/>
<rect x="398.09999999999997" y="690.1" width="2.2" height="1.8" stroke="none" stroke-width="0" fill="#ffffff"/>
<rect x="407.3" y="689.6" width="62.69999999999999" height="45.19999999999993" stroke="#00ffff" stroke-width="1" fill="none"/>
<rect x="440.5" y="728.8" width="29.5" height="6.0" stroke="none" stroke-width="0" fill="#ffffff"/>
<rect x="451.1" y="731.5" width="2.7" height="2.4" stroke="none" stroke-width="0" fill="#000"/>
<rect x="456.7" y="731.5" width="3.5" height="2.4" stroke="none" stroke-width="0" fill="#000"/>
<rect x="464.7" y="731.5" width="3.8" height="2.4" stroke="none" stroke-width="0" fill="#000"/>
<line x1="440.5" y1="729.3" x2="470" y2="729.3" stroke="#00ffff" stroke-width="1"/>
<polygon points="455.5,696.3 455.5,693.2 460.0,693.2 460.0,692 462.5,692 462.5,692.8 465.5,692.8 465.5,695.225 460.5,695.225 460.5,696.3" stroke="none" stroke-width="0" fill="#ffffff"/>
<rect x="466.7" y="690.1" width="2.2" height="1.8" stroke="none" stroke-width="0" fill="#ffffff"/>
<rect x="543" y="689.6" width="64.39999999999998" height="45.19999999999993" stroke="#00ffff" stroke-width="1" fill="none"/>
<rect x="577.9" y="728.8" width="29.5" height="6.0" stroke="none" stroke-width="0" fill="#ffffff"/>
<rect x="588.5" y="731.5" width="2.7" height="2.4" stroke="none" stroke-width="0" fill="#000"/>
<rect x="594.1" y="731.5" width="3.5" height="2.4" stroke="none" stroke-width="0" fill="#000"/>
<rect x="602.1" y="731.5" width="3.8" height="2.4" stroke="none" stroke-width="0" fill="#000"/>
<line x1="577.9" y1="729.3" x2="607.4" y2="729.3" stroke="#00ffff" stroke-width="1"/>
<rect x="586.4" y="711.3" width="21" height="17.5" stroke="none" stroke-width="0" fill="#ffffff"/>
<line x1="588.4" y1="713.8" x2="607.4" y2="713.8" stroke="#000" stroke-width="1" stroke-dasharray="1 2"/>
<line x1="588.4" y1="717.2" x2="607.4" y2="717.2" stroke="#000" stroke-width="1" stroke-dasharray="1 2"/>
<line x1="588.4" y1="720.6" x2="607.4" y2="720.6" stroke="#000" stroke-width="1" stroke-dasharray="1 2"/>
<line x1="588.4" y1="724.0" x2="607.4" y2="724.0" stroke="#000" stroke-width="1" stroke-dasharray="1 2"/>
<line x1="588.4" y1="727.4" x2="607.4" y2="727.4" stroke="#000" stroke-width="1" stroke-dasharray="1 2"/>
<polygon points="563,733.0999999999999 563,730.0 567.5,730.0 567.5,728.8 570.0,728.8 570.0,729.5999999999999 573,729.5999999999999 573,732.025 568.0,732.025 568.0,733.0999999999999" stroke="none" stroke-width="0" fill="#ffffff"/>
<rect x="604.1" y="690.1" width="2.2" height="1.8" stroke="none" stroke-width="0" fill="#ffffff"/>
<rect x="69" y="653.7" width="36.5" height="14" stroke="#00ff00" stroke-width="1" fill="none"/>
<rect x="72" y="657.2" width="30.5" height="7" stroke="#ffff00" stroke-width="1" fill="#ffff00"/>
<line x1="68" y1="660.7" x2="106.5" y2="660.7" stroke="#ff0000" stroke-width="1"/>
<line x1="72" y1="659.2" x2="102.5" y2="659.2" stroke="#ff0000" stroke-width="1"/>
<line x1="72" y1="662.2" x2="102.5" y2="662.2" stroke="#ff0000" stroke-width="1"/>
<line x1="75.1" y1="653.7" x2="75.1" y2="657.2" stroke="#00ff00" stroke-width="1"/>
<line x1="75.1" y1="664.2" x2="75.1" y2="665.7" stroke="#00ff00" stroke-width="1"/>
<line x1="81.2" y1="653.7" x2="81.2" y2="657.2" stroke="#00ff00" stroke-width="1"/>
<line x1="81.2" y1="664.2" x2="81.2" y2="665.7" stroke="#00ff00" stroke-width="1"/>
<line x1="87.2" y1="653.7" x2="87.2" y2="657.2" stroke="#00ff00" stroke-width="1"/>
<line x1="87.2" y1="664.2" x2="87.2" y2="665.7" stroke="#00ff00" stroke-width="1"/>
<line x1="93.3" y1="653.7" x2="93.3" y2="657.2" stroke="#00ff00" stroke-width="1"/>
<line x1="93.3" y1="664.2" x2="93.3" y2="665.7" stroke="#00ff00" stroke-width="1"/>
<line x1="99.4" y1="653.7" x2="99.4" y2="657.2" stroke="#00ff00" stroke-width="1"/>
<line x1="99.4" y1="664.2" x2="99.4" y2="665.7" stroke="#00ff00" stroke-width="1"/>
<rect x="72" y="649.5" width="30" height="5" stroke="#00ff00" stroke-width="1" fill="none"/>
<line x1="68.5" y1="657" x2="68.5" y2="665" stroke="#00ff00" stroke-width="2"/>
<circle cx="116.3" cy="660.3" r="4" stroke="#ffff00" stroke-width="1.5" fill="none"/>
<circle cx="116.3" cy="660.3" r="2.0" stroke="#ff00ff" stroke-width="1" fill="#ff00ff"/>
<line x1="110.8" y1="660.3" x2="121.8" y2="660.3" stroke="#ff0000" stroke-width="1"/>
<line x1="116.3" y1="654.8" x2="116.3" y2="665.8" stroke="#ff0000" stroke-width="1"/>
<circle cx="76.7" cy="679.3" r="3.3" stroke="#ffff00" stroke-width="1.5" fill="none"/>
<circle cx="76.7" cy="679.3" r="1.65" stroke="#ff0000" stroke-width="1" fill="#ff0000"/>
<line x1="71.9" y1="679.3" x2="81.5" y2="679.3" stroke="#ff0000" stroke-width="1"/>
<line x1="76.7" y1="674.5" x2="76.7" y2="684.0999999999999" stroke="#ff0000" stroke-width="1"/>
<rect x="71.5" y="672" width="8.5" height="11" stroke="#00ff00" stroke-width="1" fill="none"/>
<rect x="75" y="670.5" width="3" height="1.5" stroke="#ffff00" stroke-width="1" fill="#ffff00"/>
<rect x="137.3" y="643.5" width="13.0" height="22.5" stroke="#00ff00" stroke-width="1" fill="none"/>
<rect x="140.8" y="644.5" width="6" height="13.95" stroke="#ffff00" stroke-width="1" fill="#ffff00"/>
<line x1="143.8" y1="642.5" x2="143.8" y2="667" stroke="#ff0000" stroke-width="1"/>
<line x1="142.60000000000002" y1="644.5" x2="142.60000000000002" y2="657.45" stroke="#ff0000" stroke-width="1"/>
<line x1="145.0" y1="644.5" x2="145.0" y2="657.45" stroke="#ff0000" stroke-width="1"/>
<line x1="137.3" y1="661" x2="150.3" y2="661" stroke="#00ff00" stroke-width="1"/>
<line x1="137.3" y1="663" x2="150.3" y2="663" stroke="#00ff00" stroke-width="1"/>
<line x1="135.8" y1="649.5" x2="137.3" y2="649.5" stroke="#00ff00" stroke-width="1"/>
<rect x="149" y="646" width="3" height="17" stroke="#00ff00" stroke-width="1" fill="none"/>
<line x1="138" y1="646" x2="150" y2="646" stroke="#00ff00" stroke-width="1"/>
<line x1="138" y1="649" x2="150" y2="649" stroke="#00ff00" stroke-width="1"/>
<line x1="138" y1="652" x2="150" y2="652" stroke="#00ff00" stroke-width="1"/>
<line x1="138" y1="655" x2="150" y2="655" stroke="#00ff00" stroke-width="1"/>
<line x1="138" y1="658" x2="150" y2="658" stroke="#00ff00" stroke-width="1"/>
<line x1="138" y1="661" x2="150" y2="661" stroke="#00ff00" stroke-width="1"/>
<circle cx="143.8" cy="673.8" r="3.6" stroke="#ffff00" stroke-width="1.5" fill="none"/>
<circle cx="143.8" cy="673.8" r="1.8" stroke="#00ff00" stroke-width="1" fill="#00ff00"/>
<line x1="138.70000000000002" y1="673.8" x2="148.9" y2="673.8" stroke="#ff0000" stroke-width="1"/>
<line x1="143.8" y1="668.6999999999999" x2="143.8" y2="678.9" stroke="#ff0000" stroke-width="1"/>
<rect x="176" y="650" width="11" height="7" stroke="#00ff00" stroke-width="1" fill="none"/>
<rect x="179.5" y="647.5" width="4.5" height="11" stroke="#ffff00" stroke-width="1" fill="#ffff00"/>
<line x1="181.7" y1="646" x2="181.7" y2="660" stroke="#ff0000" stroke-width="1"/>
<line x1="175" y1="653.5" x2="189" y2="653.5" stroke="#00ff00" stroke-width="2"/>
<circle cx="181.5" cy="666.3" r="3.2" stroke="#ffff00" stroke-width="1.5" fill="none"/>
<circle cx="181.5" cy="666.3" r="1.6" stroke="#ff0000" stroke-width="1" fill="#ff0000"/>
<line x1="176.8" y1="666.3" x2="186.2" y2="666.3" stroke="#ff0000" stroke-width="1"/>
<line x1="181.5" y1="661.5999999999999" x2="181.5" y2="671.0" stroke="#ff0000" stroke-width="1"/>
<line x1="178" y1="663" x2="185" y2="669" stroke="#00ff00" stroke-width="1"/>
<line x1="185" y1="663" x2="178" y2="669" stroke="#00ff00" stroke-width="1"/>
<rect x="209.4" y="653" width="12" height="15.5" stroke="#00ff00" stroke-width="1" fill="none"/>
<rect x="211.1" y="654" width="8.6" height="9.61" stroke="#ffff00" stroke-width="1" fill="#ffff00"/>
<line x1="215.4" y1="652" x2="215.4" y2="669.5" stroke="#ff0000" stroke-width="1"/>
<line x1="214.20000000000002" y1="654" x2="214.20000000000002" y2="662.61" stroke="#ff0000" stroke-width="1"/>
<line x1="216.6" y1="654" x2="216.6" y2="662.61" stroke="#ff0000" stroke-width="1"/>
<line x1="209.4" y1="663.5" x2="221.4" y2="663.5" stroke="#00ff00" stroke-width="1"/>
<line x1="209.4" y1="665.5" x2="221.4" y2="665.5" stroke="#00ff00" stroke-width="1"/>
<line x1="207.9" y1="659" x2="209.4" y2="659" stroke="#00ff00" stroke-width="1"/>
<rect x="243.4" y="653" width="12" height="15.5" stroke="#00ff00" stroke-width="1" fill="none"/>
<rect x="245.1" y="654" width="8.6" height="9.61" stroke="#ffff00" stroke-width="1" fill="#ffff00"/>
<line x1="249.4" y1="652" x2="249.4" y2="669.5" stroke="#ff0000" stroke-width="1"/>
<line x1="248.20000000000002" y1="654" x2="248.20000000000002" y2="662.61" stroke="#ff0000" stroke-width="1"/>
<line x1="250.6" y1="654" x2="250.6" y2="662.61" stroke="#ff0000" stroke-width="1"/>
<line x1="243.4" y1="663.5" x2="255.4" y2="663.5" stroke="#00ff00" stroke-width="1"/>
<line x1="243.4" y1="665.5" x2="255.4" y2="665.5" stroke="#00ff00" stroke-width="1"/>
<line x1="241.9" y1="659" x2="243.4" y2="659" stroke="#00ff00" stroke-width="1"/>
<rect x="275" y="650" width="15" height="7" stroke="#00ff00" stroke-width="1" fill="none"/>
<rect x="279" y="645.5" width="11" height="5" stroke="#00ff00" stroke-width="1" fill="none"/>
<rect x="277.5" y="657" width="14" height="6" stroke="#00ff00" stroke-width="1" fill="none"/>
<rect x="281.5" y="647" width="6" height="12" stroke="#ffff00" stroke-width="1" fill="#ffff00"/>
<line x1="284.6" y1="644" x2="284.6" y2="674" stroke="#ff0000" stroke-width="1"/>
<line x1="273.5" y1="654" x2="297" y2="654" stroke="#00ff00" stroke-width="2"/>
<circle cx="284.6" cy="652" r="2.5" stroke="#ff0000" stroke-width="1" fill="none"/>
<rect x="275" y="665.5" width="19" height="6.5" stroke="#00ff00" stroke-width="1" fill="none"/>
<rect x="277.5" y="666.5" width="13" height="4.5" stroke="#ffff00" stroke-width="1" fill="#ffff00"/>
<circle cx="278.5" cy="668.7" r="1.8" stroke="#00ff00" stroke-width="1" fill="none"/>
<circle cx="290.5" cy="668.7" r="1.8" stroke="#00ff00" stroke-width="1" fill="none"/>
<line x1="292" y1="651" x2="296" y2="649.5" stroke="#00ff00" stroke-width="2"/>
<rect x="545" y="650" width="15" height="7" stroke="#00ff00" stroke-width="1" fill="none"/>
<rect x="549" y="645.5" width="11" height="5" stroke="#00ff00" stroke-width="1" fill="none"/>
<rect x="547.5" y="657" width="14" height="6" stroke="#00ff00" stroke-width="1" fill="none"/>
<rect x="551.5" y="647" width="6" height="12" stroke="#ffff00" stroke-width="1" fill="#ffff00"/>
<line x1="554.6" y1="644" x2="554.6" y2="674" stroke="#ff0000" stroke-width="1"/>
<line x1="543.5" y1="654" x2="567" y2="654" stroke="#00ff00" stroke-width="2"/>
<circle cx="554.6" cy="652" r="2.5" stroke="#ff0000" stroke-width="1" fill="none"/>
<rect x="545" y="665.5" width="19" height="6.5" stroke="#00ff00" stroke-width="1" fill="none"/>
<rect x="547.5" y="666.5" width="13" height="4.5" stroke="#ffff00" stroke-width="1" fill="#ffff00"/>
<circle cx="548.5" cy="668.7" r="1.8" stroke="#00ff00" stroke-width="1" fill="none"/>
<circle cx="560.5" cy="668.7" r="1.8" stroke="#00ff00" stroke-width="1" fill="none"/>
<line x1="562" y1="651" x2="566" y2="649.5" stroke="#00ff00" stroke-width="2"/>
<rect x="312.0" y="648.5" width="11.0" height="20.0" stroke="#00ff00" stroke-width="1" fill="none"/>
<rect x="315.3" y="649.5" width="4.4" height="12.4" stroke="#ffff00" stroke-width="1" fill="#ffff00"/>
<line x1="317.5" y1="647.5" x2="317.5" y2="669.5" stroke="#ff0000" stroke-width="1"/>
<line x1="316.3" y1="649.5" x2="316.3" y2="660.9" stroke="#ff0000" stroke-width="1"/>
<line x1="318.7" y1="649.5" x2="318.7" y2="660.9" stroke="#ff0000" stroke-width="1"/>
<line x1="312.0" y1="663.5" x2="323.0" y2="663.5" stroke="#00ff00" stroke-width="1"/>
<line x1="312.0" y1="665.5" x2="323.0" y2="665.5" stroke="#00ff00" stroke-width="1"/>
<line x1="310.5" y1="654.5" x2="312.0" y2="654.5" stroke="#00ff00" stroke-width="1"/>
<rect x="317.5" y="651" width="6" height="14" stroke="#00ff00" stroke-width="1" fill="none"/>
<circle cx="317.5" cy="655" r="2" stroke="#00ff00" stroke-width="1" fill="none"/>
<circle cx="317.5" cy="664" r="2" stroke="#00ff00" stroke-width="1" fill="none"/>
<line x1="311" y1="659" x2="325" y2="659" stroke="#00ff00" stroke-width="2"/>
<rect x="347.3" y="651" width="6.5" height="17" stroke="#00ff00" stroke-width="1" fill="none"/>
<rect x="350" y="650" width="4" height="16" stroke="#ffff00" stroke-width="1" fill="#ffff00"/>
<line x1="351.8" y1="649" x2="351.8" y2="671" stroke="#ff0000" stroke-width="1"/>
<rect x="350" y="666" width="4" height="4.5" stroke="#00ff00" stroke-width="1" fill="#00ff00"/>
<line x1="346" y1="659" x2="348" y2="659" stroke="#00ff00" stroke-width="1"/>
<rect x="378.5" y="649.5" width="11" height="15" stroke="#00ff00" stroke-width="1" fill="none"/>
<rect x="382" y="650" width="7.5" height="14" stroke="#ffff00" stroke-width="1" fill="none"/>
<rect x="385" y="650" width="3" height="14" stroke="#ffff00" stroke-width="1" fill="#ffff00"/>
<line x1="384" y1="648" x2="384" y2="671" stroke="#ff0000" stroke-width="1"/>
<line x1="377" y1="658" x2="392" y2="658" stroke="#00ff00" stroke-width="2"/>
<rect x="383" y="664.5" width="6" height="6" stroke="#00ff00" stroke-width="1" fill="none"/>
<line x1="380" y1="658" x2="392" y2="658" stroke="#ff0000" stroke-width="1"/>
<rect x="413.3" y="647" width="17" height="5.5" stroke="#00ff00" stroke-width="1" fill="none"/>
<rect x="415" y="649.5" width="13.5" height="2" stroke="#ffff00" stroke-width="1" fill="#ffff00"/>
<line x1="421.5" y1="645" x2="421.5" y2="654" stroke="#ff0000" stroke-width="1"/>
<line x1="419" y1="645" x2="424" y2="647" stroke="#00ff00" stroke-width="2"/>
<circle cx="421.5" cy="662.4" r="7.2" stroke="#ffff00" stroke-width="1.5" fill="none"/>
<circle cx="421.5" cy="662.4" r="6" stroke="#ccc" stroke-width="1" fill="none"/>
<rect x="416.5" y="657" width="5" height="6" stroke="#00ff00" stroke-width="1" fill="#00ff00"/>
<line x1="412" y1="662.4" x2="431" y2="662.4" stroke="#ff0000" stroke-width="1"/>
<line x1="421.5" y1="654" x2="421.5" y2="671" stroke="#ff0000" stroke-width="1"/>
<rect x="423" y="664" width="3" height="2" stroke="#00ff00" stroke-width="1" fill="#00ff00"/>
<rect x="447.2" y="651.5" width="17" height="12" stroke="#00ff00" stroke-width="1" fill="none"/>
<circle cx="455.9" cy="662.4" r="7.4" stroke="#ffff00" stroke-width="1.5" fill="none"/>
<circle cx="455.9" cy="662.4" r="6.2" stroke="#ccc" stroke-width="1" fill="none"/>
<rect x="452" y="658.5" width="4" height="4" stroke="#ff0000" stroke-width="1" fill="#ff0000"/>
<rect x="451.5" y="658" width="5" height="5" stroke="#00ff00" stroke-width="1" fill="none"/>
<line x1="446" y1="662.4" x2="466" y2="662.4" stroke="#ff0000" stroke-width="1"/>
<line x1="455.9" y1="653" x2="455.9" y2="672" stroke="#ff0000" stroke-width="1"/>
<circle cx="447.2" cy="672.5" r="2.2" stroke="#00ff00" stroke-width="1.5" fill="none"/>
<line x1="443.5" y1="672.5" x2="451" y2="672.5" stroke="#00ff00" stroke-width="2"/>
<rect x="458" y="664" width="3" height="2" stroke="#00ff00" stroke-width="1" fill="#00ff00"/>
<line x1="465" y1="664" x2="468" y2="666" stroke="#00ff00" stroke-width="2"/>
<polyline points="498.5,648 488,664 484.5,669" stroke="#ff00ff" stroke-width="1" fill="none"/>
<polyline points="498.5,648 509,664 512.5,669" stroke="#ff00ff" stroke-width="1" fill="none"/>
<polyline points="497,650 487,666" stroke="#ffff00" stroke-width="1" fill="none"/>
<polyline points="500,650 510,666" stroke="#ffff00" stroke-width="1" fill="none"/>
<rect x="495.5" y="645.5" width="6" height="5" stroke="#00ff00" stroke-width="1" fill="none"/>
<circle cx="498.5" cy="648.5" r="2.2" stroke="#ff00ff" stroke-width="1.5" fill="none"/>
<rect x="497" y="647" width="3" height="3" stroke="#ffff00" stroke-width="1" fill="#ffff00"/>
<line x1="488" y1="662.5" x2="509" y2="662.5" stroke="#ffff00" stroke-width="1"/>
<line x1="487" y1="664.5" x2="510" y2="664.5" stroke="#ffff00" stroke-width="1"/>
<rect x="484.6" y="664.5" width="28" height="11" stroke="#00ff00" stroke-width="1" fill="none"/>
<rect x="488" y="667" width="21" height="2.5" stroke="#ffff00" stroke-width="1" fill="none"/>
<rect x="490" y="669.5" width="17" height="4" stroke="#00ff00" stroke-width="1" fill="none"/>
<line x1="498.5" y1="669" x2="498.5" y2="676" stroke="#00ff00" stroke-width="1"/>
<rect x="482.5" y="664.5" width="3.5" height="5" stroke="#00ff00" stroke-width="1" fill="none"/>
<circle cx="491.5" cy="668" r="0.8" stroke="#ff0000" stroke-width="1" fill="#ff0000"/>
<circle cx="506" cy="668" r="0.8" stroke="#ff0000" stroke-width="1" fill="#ff0000"/>
<rect x="520" y="647" width="2.7" height="22" stroke="#ffff00" stroke-width="1" fill="none"/>
<line x1="521.3" y1="647" x2="521.3" y2="669" stroke="#ff00ff" stroke-width="1"/>
<line x1="519" y1="646.5" x2="526.5" y2="646.5" stroke="#00ff00" stroke-width="1"/>
<line x1="519" y1="669.5" x2="526.5" y2="669.5" stroke="#00ff00" stroke-width="1"/>
<line x1="526.5" y1="646.5" x2="526.5" y2="669.5" stroke="#00ff00" stroke-width="1"/>
<rect x="520" y="665" width="2.7" height="2" stroke="#00ff00" stroke-width="1" fill="#00ff00"/>
<polyline points="520,647 521.3,645 522.7,647" stroke="#00ff00" stroke-width="1" fill="none"/>
<rect x="69.5" y="698" width="12" height="9" stroke="#00ff00" stroke-width="1" fill="none"/>
<rect x="80" y="693" width="13" height="14" stroke="#ffff00" stroke-width="1" fill="none"/>
<rect x="82.5" y="698" width="8" height="7.5" stroke="#ffff00" stroke-width="1" fill="none"/>
<circle cx="86.5" cy="695" r="3.3" stroke="#ffff00" stroke-width="1" fill="none"/>
<circle cx="86.5" cy="694" r="1.5" stroke="#ff00ff" stroke-width="1" fill="#ff00ff"/>
<line x1="86.5" y1="690.5" x2="86.5" y2="733" stroke="#ff0000" stroke-width="1"/>
<line x1="71" y1="706.5" x2="100.5" y2="706.5" stroke="#00ff00" stroke-width="2"/>
<line x1="80" y1="700" x2="93" y2="700" stroke="#ff0000" stroke-width="1"/>
<rect x="95" y="705" width="5.5" height="2" stroke="none" stroke-width="0" fill="#ffffff"/>
<rect x="73" y="704.5" width="8" height="3" stroke="#ffff00" stroke-width="1" fill="none"/>
<line x1="79" y1="691.5" x2="94" y2="691.5" stroke="#00ff00" stroke-width="1"/>
<line x1="78" y1="705" x2="78" y2="709" stroke="#ff0000" stroke-width="1"/>
<line x1="95" y1="705" x2="95" y2="709" stroke="#ff0000" stroke-width="1"/>
<rect x="74.7" y="712" width="24.3" height="11" stroke="#ffff00" stroke-width="1" fill="none"/>
<line x1="82" y1="712" x2="82" y2="723" stroke="#ffff00" stroke-width="1"/>
<line x1="91" y1="712" x2="91" y2="723" stroke="#ffff00" stroke-width="1"/>
<rect x="70" y="711.5" width="29" height="13" stroke="#00ff00" stroke-width="1" fill="none"/>
<line x1="74.7" y1="728.5" x2="99" y2="728.5" stroke="#00ff00" stroke-width="1"/>
<line x1="74.7" y1="723" x2="74.7" y2="729" stroke="#00ff00" stroke-width="1"/>
<line x1="99" y1="723" x2="99" y2="729" stroke="#00ff00" stroke-width="1"/>
<line x1="75.5" y1="717.5" x2="80.5" y2="717.5" stroke="#ff0000" stroke-width="1"/>
<line x1="78" y1="715" x2="78" y2="720" stroke="#ff0000" stroke-width="1"/>
<line x1="92.5" y1="717.5" x2="97.5" y2="717.5" stroke="#ff0000" stroke-width="1"/>
<line x1="95" y1="715" x2="95" y2="720" stroke="#ff0000" stroke-width="1"/>
<line x1="84.5" y1="719" x2="88.5" y2="716" stroke="#00ff00" stroke-width="2"/>
<rect x="139.5" y="696" width="16" height="28.5" stroke="#00ff00" stroke-width="1" fill="none"/>
<rect x="144" y="697" width="4.5" height="33" stroke="#ffff00" stroke-width="1" fill="none"/>
<rect x="145" y="698" width="2.5" height="24" stroke="#ffff00" stroke-width="1" fill="#ffff00"/>
<line x1="146.4" y1="692" x2="146.4" y2="732" stroke="#ff0000" stroke-width="1"/>
<line x1="143" y1="695" x2="150" y2="695" stroke="#ff0000" stroke-width="1"/>
<line x1="139" y1="710.5" x2="153" y2="710.5" stroke="#ff0000" stroke-width="1"/>
<rect x="141" y="700" width="9" height="21" stroke="#00ff00" stroke-width="1" fill="none"/>
<rect x="143.5" y="726" width="6" height="5" stroke="#00ff00" stroke-width="1" fill="none"/>
<rect x="143" y="697" width="7" height="3" stroke="none" stroke-width="0" fill="#ffffff"/>
<path d="M173.2,697.0999999999999 A13.2,13.2 0 0 0 173.2,723.5" stroke="#ff00ff" stroke-width="1.5" fill="none"/>
<path d="M173.2,698.5999999999999 A11.7,11.7 0 0 0 173.2,722.0" stroke="#ffff00" stroke-width="1.5" fill="none"/>
<path d="M173.2,701.8 A8.5,8.5 0 0 0 173.2,718.8" stroke="#ffff00" stroke-width="1" fill="none"/>
<path d="M173.2,704.8 A5.5,5.5 0 0 0 173.2,715.8" stroke="#ffff00" stroke-width="1" fill="none"/>
<line x1="173.2" y1="696" x2="173.2" y2="725" stroke="#ffff00" stroke-width="1"/>
<line x1="158" y1="710.3" x2="175" y2="710.3" stroke="#ff0000" stroke-width="1"/>
<line x1="172.5" y1="697" x2="172.5" y2="724" stroke="#ff0000" stroke-width="1"/>
<path d="M172,700.5 A9.8,9.8 0 0 0 172,720" stroke="#ff0000" fill="none" stroke-dasharray="2 1.5"/>
<rect x="207" y="692.5" width="51" height="12.5" stroke="#00ff00" stroke-width="1" fill="none"/>
<rect x="205" y="695" width="55" height="4.6" stroke="#ffff00" stroke-width="1" fill="#ffff00"/>
<line x1="203" y1="697.2" x2="262" y2="697.2" stroke="#ff0000" stroke-width="1"/>
<line x1="208" y1="696" x2="253" y2="696" stroke="#ff0000" stroke-width="1"/>
<line x1="208" y1="698.5" x2="253" y2="698.5" stroke="#ff0000" stroke-width="1"/>
<line x1="210.3" y1="699.6" x2="210.3" y2="703" stroke="#00ff00" stroke-width="1"/>
<line x1="210.3" y1="692.5" x2="210.3" y2="695" stroke="#00ff00" stroke-width="1"/>
<line x1="216.7" y1="699.6" x2="216.7" y2="703" stroke="#00ff00" stroke-width="1"/>
<line x1="216.7" y1="692.5" x2="216.7" y2="695" stroke="#00ff00" stroke-width="1"/>
<line x1="223.0" y1="699.6" x2="223.0" y2="703" stroke="#00ff00" stroke-width="1"/>
<line x1="223.0" y1="692.5" x2="223.0" y2="695" stroke="#00ff00" stroke-width="1"/>
<line x1="229.3" y1="699.6" x2="229.3" y2="703" stroke="#00ff00" stroke-width="1"/>
<line x1="229.3" y1="692.5" x2="229.3" y2="695" stroke="#00ff00" stroke-width="1"/>
<line x1="235.7" y1="699.6" x2="235.7" y2="703" stroke="#00ff00" stroke-width="1"/>
<line x1="235.7" y1="692.5" x2="235.7" y2="695" stroke="#00ff00" stroke-width="1"/>
<line x1="242.0" y1="699.6" x2="242.0" y2="703" stroke="#00ff00" stroke-width="1"/>
<line x1="242.0" y1="692.5" x2="242.0" y2="695" stroke="#00ff00" stroke-width="1"/>
<line x1="248.3" y1="699.6" x2="248.3" y2="703" stroke="#00ff00" stroke-width="1"/>
<line x1="248.3" y1="692.5" x2="248.3" y2="695" stroke="#00ff00" stroke-width="1"/>
<line x1="254.7" y1="699.6" x2="254.7" y2="703" stroke="#00ff00" stroke-width="1"/>
<line x1="254.7" y1="692.5" x2="254.7" y2="695" stroke="#00ff00" stroke-width="1"/>
<line x1="207" y1="703" x2="258" y2="703" stroke="#00ff00" stroke-width="1"/>
<rect x="204" y="694" width="1.5" height="7" stroke="#00ff00" stroke-width="1" fill="#00ff00"/>
<rect x="256" y="693" width="5" height="8" stroke="#00ff00" stroke-width="1" fill="none"/>
<rect x="249" y="694" width="3" height="7" stroke="#ffff00" stroke-width="1" fill="#ffff00"/>
<rect x="220" y="694" width="8" height="6.5" stroke="#ff00ff" stroke-width="1.5" fill="none"/>
<rect x="224" y="691.5" width="6" height="3" stroke="#00ff00" stroke-width="1" fill="#00ff00"/>
<rect x="209.5" y="716" width="4" height="6.5" stroke="#ffff00" stroke-width="1" fill="#ffff00"/>
<rect x="208.5" y="715" width="3" height="2" stroke="#00ff00" stroke-width="1" fill="#00ff00"/>
<line x1="208" y1="719" x2="215" y2="719" stroke="#ff0000" stroke-width="1"/>
<line x1="213.5" y1="717" x2="213.5" y2="722" stroke="#00ff00" stroke-width="2"/>
<rect x="549" y="692.5" width="51.5" height="12.5" stroke="#00ff00" stroke-width="1" fill="none"/>
<rect x="547" y="695" width="55.5" height="4.6" stroke="#ffff00" stroke-width="1" fill="#ffff00"/>
<line x1="545" y1="697.2" x2="604.5" y2="697.2" stroke="#ff0000" stroke-width="1"/>
<line x1="550" y1="696" x2="595.5" y2="696" stroke="#ff0000" stroke-width="1"/>
<line x1="550" y1="698.5" x2="595.5" y2="698.5" stroke="#ff0000" stroke-width="1"/>
<line x1="552.4" y1="699.6" x2="552.4" y2="703" stroke="#00ff00" stroke-width="1"/>
<line x1="552.4" y1="692.5" x2="552.4" y2="695" stroke="#00ff00" stroke-width="1"/>
<line x1="558.8" y1="699.6" x2="558.8" y2="703" stroke="#00ff00" stroke-width="1"/>
<line x1="558.8" y1="692.5" x2="558.8" y2="695" stroke="#00ff00" stroke-width="1"/>
<line x1="565.2" y1="699.6" x2="565.2" y2="703" stroke="#00ff00" stroke-width="1"/>
<line x1="565.2" y1="692.5" x2="565.2" y2="695" stroke="#00ff00" stroke-width="1"/>
<line x1="571.6" y1="699.6" x2="571.6" y2="703" stroke="#00ff00" stroke-width="1"/>
<line x1="571.6" y1="692.5" x2="571.6" y2="695" stroke="#00ff00" stroke-width="1"/>
<line x1="577.9" y1="699.6" x2="577.9" y2="703" stroke="#00ff00" stroke-width="1"/>
<line x1="577.9" y1="692.5" x2="577.9" y2="695" stroke="#00ff00" stroke-width="1"/>
<line x1="584.3" y1="699.6" x2="584.3" y2="703" stroke="#00ff00" stroke-width="1"/>
<line x1="584.3" y1="692.5" x2="584.3" y2="695" stroke="#00ff00" stroke-width="1"/>
<line x1="590.7" y1="699.6" x2="590.7" y2="703" stroke="#00ff00" stroke-width="1"/>
<line x1="590.7" y1="692.5" x2="590.7" y2="695" stroke="#00ff00" stroke-width="1"/>
<line x1="597.1" y1="699.6" x2="597.1" y2="703" stroke="#00ff00" stroke-width="1"/>
<line x1="597.1" y1="692.5" x2="597.1" y2="695" stroke="#00ff00" stroke-width="1"/>
<line x1="549" y1="703" x2="600.5" y2="703" stroke="#00ff00" stroke-width="1"/>
<rect x="546" y="694" width="1.5" height="7" stroke="#00ff00" stroke-width="1" fill="#00ff00"/>
<rect x="598.5" y="693" width="5" height="8" stroke="#00ff00" stroke-width="1" fill="none"/>
<rect x="591.5" y="694" width="3" height="7" stroke="#ffff00" stroke-width="1" fill="#ffff00"/>
<rect x="562" y="694" width="8" height="6.5" stroke="#ff00ff" stroke-width="1.5" fill="none"/>
<rect x="566" y="691.5" width="6" height="3" stroke="#00ff00" stroke-width="1" fill="#00ff00"/>
<rect x="551.5" y="716" width="4" height="6.5" stroke="#ffff00" stroke-width="1" fill="#ffff00"/>
<rect x="550.5" y="715" width="3" height="2" stroke="#00ff00" stroke-width="1" fill="#00ff00"/>
<line x1="550" y1="719" x2="557" y2="719" stroke="#ff0000" stroke-width="1"/>
<line x1="555.5" y1="717" x2="555.5" y2="722" stroke="#00ff00" stroke-width="2"/>
<rect x="554" y="694" width="3" height="7" stroke="#bbb" stroke-width="1" fill="#bbb"/>
<rect x="575" y="694" width="3" height="7" stroke="#bbb" stroke-width="1" fill="#bbb"/>
<rect x="551" y="690.5" width="2.5" height="3" stroke="none" stroke-width="0" fill="#ffffff"/>
<rect x="557.5" y="690.5" width="2.5" height="3" stroke="none" stroke-width="0" fill="#ffffff"/>
<rect x="281" y="694" width="17" height="7.5" stroke="#00ff00" stroke-width="1" fill="none"/>
<rect x="282" y="698" width="16" height="2.5" stroke="#ffff00" stroke-width="1" fill="#ffff00"/>
<circle cx="289.5" cy="698.5" r="2" stroke="#ffff00" stroke-width="1" fill="#ffff00"/>
<line x1="289.5" y1="692.5" x2="289.5" y2="703" stroke="#ff0000" stroke-width="1"/>
<rect x="284" y="694.5" width="5" height="3.5" stroke="#00ff00" stroke-width="1" fill="none"/>
<line x1="280" y1="698" x2="283" y2="698" stroke="#00ff00" stroke-width="2"/>
<circle cx="289.7" cy="716.5" r="8.6" stroke="#ffff00" stroke-width="2" fill="none"/>
<line x1="289.7" y1="716.5" x2="289.7" y2="725" stroke="#ffff00" stroke-width="2"/>
<line x1="281" y1="716.5" x2="298.5" y2="716.5" stroke="#ff0000" stroke-width="1"/>
<line x1="289.7" y1="707" x2="289.7" y2="717" stroke="#ff0000" stroke-width="1"/>
<line x1="289.7" y1="716.5" x2="283" y2="712" stroke="#ff0000" stroke-width="1"/>
<line x1="289.7" y1="716.5" x2="296.4" y2="712" stroke="#ff0000" stroke-width="1"/>
<rect x="306" y="703" width="8" height="8" stroke="#00ff00" stroke-width="1" fill="none"/>
<rect x="308.5" y="701" width="3.5" height="12" stroke="#ffff00" stroke-width="1" fill="#ffff00"/>
<line x1="303.5" y1="708.5" x2="315" y2="708.5" stroke="#00ff00" stroke-width="2"/>
<line x1="310.2" y1="699" x2="310.2" y2="714" stroke="#ff0000" stroke-width="1"/>
<line x1="307" y1="705" x2="313.5" y2="711" stroke="#ff0000" stroke-width="1"/>
<line x1="313.5" y1="705" x2="307" y2="711" stroke="#ff0000" stroke-width="1"/>
<polyline points="309,701 310.2,698.5 311.5,701" stroke="#ffff00" stroke-width="1" fill="none"/>
<circle cx="310.2" cy="721.5" r="2.8" stroke="#ffff00" stroke-width="1.5" fill="none"/>
<circle cx="310.2" cy="721.5" r="1.2" stroke="#ff0000" stroke-width="1" fill="none"/>
<rect x="307" y="724.5" width="6.5" height="1.8" stroke="#00ff00" stroke-width="1" fill="#00ff00"/>
<line x1="310.2" y1="716" x2="310.2" y2="727" stroke="#ff0000" stroke-width="1"/>
<rect x="308.5" y="717" width="3.5" height="2" stroke="#00ff00" stroke-width="1" fill="#00ff00"/>
<rect x="345" y="700" width="13" height="16" stroke="#00ff00" stroke-width="1" fill="none"/>
<rect x="347.5" y="698.5" width="4.5" height="26" stroke="#00ff00" stroke-width="1" fill="none"/>
<rect x="346.5" y="703" width="6" height="11" stroke="#ffff00" stroke-width="1" fill="#ffff00"/>
<line x1="343" y1="709.2" x2="360" y2="709.2" stroke="#ff0000" stroke-width="1"/>
<line x1="343" y1="705" x2="360" y2="705" stroke="#00ff00" stroke-width="1"/>
<line x1="343" y1="714" x2="360" y2="714" stroke="#00ff00" stroke-width="1"/>
<rect x="349.5" y="709" width="3" height="3" stroke="none" stroke-width="0" fill="#ffffff"/>
<line x1="349.8" y1="697" x2="349.8" y2="726" stroke="#ff0000" stroke-width="1"/>
<rect x="356" y="700" width="3" height="19" stroke="#00ff00" stroke-width="1" fill="none"/>
<line x1="344" y1="703" x2="344" y2="716" stroke="#00ff00" stroke-width="2"/>
<circle cx="373.6" cy="709.2" r="10.4" stroke="#ffff00" stroke-width="1" fill="none"/>
<circle cx="373.6" cy="709.2" r="7.6" stroke="#ffff00" stroke-width="1" fill="none"/>
<circle cx="373.6" cy="709.2" r="5" stroke="#ffff00" stroke-width="1" fill="none"/>
<circle cx="373.6" cy="709.2" r="3.4" stroke="#00ff00" stroke-width="1.5" fill="none"/>
<line x1="361" y1="709.2" x2="386" y2="709.2" stroke="#ff0000" stroke-width="1"/>
<line x1="373.6" y1="697" x2="373.6" y2="722" stroke="#ff0000" stroke-width="1"/>
<circle cx="373.6" cy="709.2" r="6.3" stroke="#ff0000" fill="none" stroke-dasharray="2 2"/>
<line x1="368" y1="703.5" x2="385" y2="703.5" stroke="#00ff00" stroke-width="1"/>
<line x1="373.6" y1="700" x2="371" y2="706" stroke="#00ff00" stroke-width="2"/>
<rect x="417" y="695.5" width="11" height="8" stroke="#00ff00" stroke-width="1" fill="none"/>
<rect x="419.5" y="694" width="6" height="3" stroke="#00ff00" stroke-width="1" fill="#00ff00"/>
<line x1="422.5" y1="693" x2="422.5" y2="705" stroke="#ff0000" stroke-width="1"/>
<rect x="414" y="702" width="34.5" height="2.2" stroke="#ffff00" stroke-width="1" fill="#ffff00"/>
<rect x="432" y="698.5" width="13" height="4" stroke="#00ff00" stroke-width="1" fill="none"/>
<line x1="413" y1="704.5" x2="449" y2="704.5" stroke="#00ff00" stroke-width="1"/>
<line x1="418" y1="699" x2="427" y2="699" stroke="#ffff00" stroke-width="1"/>
<line x1="438" y1="697.5" x2="440" y2="697.5" stroke="#00ff00" stroke-width="2"/>
<rect x="422.5" y="710" width="25" height="13.5" stroke="#ffff00" stroke-width="1" fill="none"/>
<line x1="432" y1="710" x2="432" y2="723.5" stroke="#ffff00" stroke-width="1"/>
<line x1="422.5" y1="710" x2="448.5" y2="710" stroke="#00ff00" stroke-width="1"/>
<line x1="448.5" y1="708.5" x2="448.5" y2="722" stroke="#00ff00" stroke-width="1"/>
<rect x="422.5" y="723.5" width="22" height="2" stroke="#00ff00" stroke-width="1" fill="none"/>
<line x1="432" y1="716" x2="446" y2="716" stroke="#ff0000" stroke-width="1"/>
<polygon points="421.5,708.5 428.5,716 421.5,723.5 414.5,716" stroke="#00ff00" stroke-width="1" fill="none"/>
<polygon points="421.5,711 426,716 421.5,721 417,716" stroke="#ffff00" stroke-width="1" fill="none"/>
<line x1="414.5" y1="716" x2="430" y2="716" stroke="#ff0000" stroke-width="1"/>
<line x1="418" y1="712.2" x2="425" y2="719.8" stroke="#00ff00" stroke-width="1"/>
<line x1="425" y1="712.2" x2="418" y2="719.8" stroke="#00ff00" stroke-width="1"/>
<line x1="416.5" y1="714" x2="423.5" y2="721.5" stroke="#00ff00" stroke-width="1"/>
<line x1="419.5" y1="710.5" x2="426.5" y2="718" stroke="#00ff00" stroke-width="1"/>
<circle cx="421.5" cy="716" r="1" stroke="#ff0000" stroke-width="1" fill="#ff0000"/>
</svg></body></html>
